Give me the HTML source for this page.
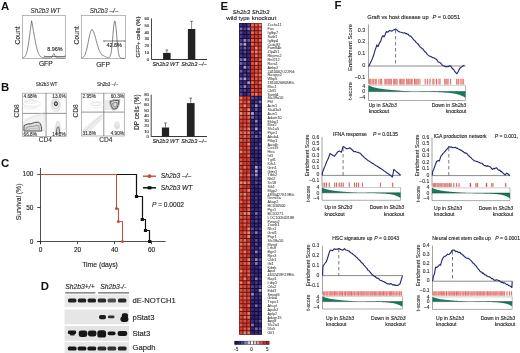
<!DOCTYPE html>
<html><head><meta charset="utf-8"><style>
html,body{margin:0;padding:0;background:#fff;}
body{width:520px;height:353px;overflow:hidden;}
svg{display:block;font-family:"Liberation Sans", sans-serif;will-change:transform;}
</style></head><body>
<svg width="520" height="353" viewBox="0 0 520 353">
<defs><filter id="bl" x="-50%" y="-50%" width="200%" height="200%"><feGaussianBlur stdDeviation="0.6"/></filter><filter id="hb" x="-5%" y="-1%" width="110%" height="102%"><feGaussianBlur stdDeviation="0.35"/></filter></defs>
<rect width="520" height="353" fill="#fff"/>
<text x="1.0" y="9.8" font-size="10.2" text-anchor="start" fill="#111" stroke="#111" stroke-width="0" style="font-weight:bold" transform="translate(1.0 9.8) scale(1.12 1) translate(-1.0 -9.8)">A</text>
<text x="1.0" y="90.8" font-size="10.2" text-anchor="start" fill="#111" stroke="#111" stroke-width="0" style="font-weight:bold" transform="translate(1.0 90.8) scale(1.12 1) translate(-1.0 -90.8)">B</text>
<text x="1.0" y="166.6" font-size="10.2" text-anchor="start" fill="#111" stroke="#111" stroke-width="0" style="font-weight:bold" transform="translate(1.0 166.6) scale(1.12 1) translate(-1.0 -166.6)">C</text>
<text x="40.8" y="289.8" font-size="10.2" text-anchor="start" fill="#111" stroke="#111" stroke-width="0" style="font-weight:bold" transform="translate(40.8 289.8) scale(1.12 1) translate(-40.8 -289.8)">D</text>
<text x="220.6" y="9.6" font-size="10.2" text-anchor="start" fill="#111" stroke="#111" stroke-width="0" style="font-weight:bold" transform="translate(220.6 9.6) scale(1.12 1) translate(-220.6 -9.6)">E</text>
<text x="334.6" y="9.2" font-size="10.2" text-anchor="start" fill="#111" stroke="#111" stroke-width="0" style="font-weight:bold" transform="translate(334.6 9.2) scale(1.12 1) translate(-334.6 -9.2)">F</text>
<rect x="22.5" y="15.5" width="43" height="43" fill="none" stroke="#999" stroke-width="0.7"/>
<rect x="81.5" y="15.5" width="44" height="43" fill="none" stroke="#999" stroke-width="0.7"/>
<text x="45.4" y="12.5" font-size="6.3" text-anchor="middle" fill="#333" stroke="#333" stroke-width="0.12" style="font-style:italic">Sh2b3 WT</text>
<text x="104" y="12.5" font-size="6.3" text-anchor="middle" fill="#333" stroke="#333" stroke-width="0.12" style="font-style:italic">Sh2b3 –/–</text>
<text x="20" y="35.5" font-size="6.8" text-anchor="middle" fill="#222" stroke="#222" stroke-width="0.12" style="" transform="rotate(-90 20 35.5)">Count</text>
<text x="79" y="35.5" font-size="6.8" text-anchor="middle" fill="#222" stroke="#222" stroke-width="0.12" style="" transform="rotate(-90 79 35.5)">Count</text>
<text x="45.8" y="65.9" font-size="6.7" text-anchor="middle" fill="#222" stroke="#222" stroke-width="0.12" style="">GFP</text>
<text x="103" y="66.6" font-size="6.7" text-anchor="middle" fill="#222" stroke="#222" stroke-width="0.12" style="">GFP</text>
<polyline points="22.80,57.84 23.00,57.79 23.20,57.72 23.40,57.65 23.60,57.57 23.80,57.47 24.00,57.36 24.20,57.23 24.40,57.08 24.60,56.90 24.80,56.70 25.00,56.47 25.20,56.21 25.40,55.91 25.60,55.56 25.80,55.17 26.00,54.73 26.20,54.23 26.40,53.68 26.60,53.06 26.80,52.38 27.00,51.62 27.20,50.80 27.40,49.90 27.60,48.93 27.80,47.89 28.00,46.77 28.20,45.58 28.40,44.33 28.60,43.02 28.80,41.65 29.00,40.24 29.20,38.78 29.40,37.29 29.60,35.78 29.80,34.25 30.00,32.72 30.20,31.18 30.40,29.65 30.60,28.14 30.80,26.64 31.00,25.16 31.20,23.69 31.40,22.24 31.60,20.80 31.80,21.87 32.00,22.95 32.20,24.03 32.40,25.12 32.60,26.21 32.80,27.32 33.00,28.44 33.20,29.57 33.40,30.70 33.60,31.84 33.80,32.98 34.00,34.12 34.20,35.26 34.40,36.39 34.60,37.51 34.80,38.61 35.00,39.70 35.20,40.77 35.40,41.81 35.60,42.83 35.80,43.81 36.00,44.77 36.20,45.69 36.40,46.57 36.60,47.42 36.80,48.22 37.00,48.99 37.20,49.71 37.40,50.40 37.60,51.04 37.80,51.65 38.00,52.21 38.20,52.74 38.40,53.23 38.60,53.68 38.80,54.10 39.00,54.48 39.20,54.84 39.40,55.16 39.60,55.46 39.80,55.72 40.00,55.97 40.20,56.19 40.40,56.39 40.60,56.57 40.80,56.74 41.00,56.89 41.20,57.02 41.40,57.14 41.60,57.25 41.80,57.34 42.00,57.43 42.20,57.51 42.40,57.58 42.60,57.64 42.80,57.69 43.00,57.75 43.20,57.79 43.40,57.83 43.60,57.87 43.80,57.90 44.00,57.93 44.20,57.84 44.40,57.86 44.60,57.87 44.80,57.89 45.00,57.90 45.20,57.91 45.40,57.91 45.60,57.92 45.80,57.92 46.00,57.93 46.20,57.93 46.40,57.93 46.60,57.93 46.80,57.93 47.00,57.92 47.20,57.92 47.40,57.92 47.60,57.91 47.80,57.91 48.00,57.90 48.20,57.90 48.40,57.89 48.60,57.88 48.80,57.88 49.00,57.87 49.20,57.86 49.40,57.85 49.60,57.84 49.80,57.84 50.00,57.83 50.20,57.82 50.40,57.81 50.60,57.79 50.80,57.78 51.00,57.75 51.20,57.71 51.40,57.65 51.60,57.55 51.80,57.40 52.00,57.18 52.20,56.87 52.40,56.48 52.60,56.00 52.80,55.45 53.00,54.88 53.20,54.35 53.40,53.90 53.60,53.60 53.80,53.50 54.00,53.60 54.20,53.89 54.40,54.33 54.60,54.86 54.80,55.42 55.00,55.96 55.20,56.44 55.40,56.83 55.60,57.13 55.80,57.34 56.00,57.49 56.20,57.59 56.40,57.64 56.60,57.68 56.80,57.70 57.00,57.72 57.20,57.73 57.40,57.74 57.60,57.75 57.80,57.76 58.00,57.77 58.20,57.78 58.40,57.79 58.60,57.80 58.80,57.81 59.00,57.82 59.20,57.83 59.40,57.84 59.60,57.85 59.80,57.86 60.00,57.87 60.20,57.89 60.40,57.90 60.60,57.91 60.80,57.92 61.00,57.93 61.20,57.95 61.40,57.96 61.60,57.97 61.80,57.98 62.00,58.00 62.20,58.01 62.40,58.02 62.60,58.03 62.80,58.04 63.00,58.05 63.20,58.06 63.40,58.07 63.60,58.08 63.80,58.09 64.00,58.10 64.20,58.11 64.40,58.12 64.60,58.13 64.80,58.14" fill="none" stroke="#555" stroke-width="0.75" stroke-linejoin="round"/>
<line x1="44.4" y1="56.5" x2="65" y2="56.5" stroke="#444" stroke-width="0.7"/>
<line x1="44.4" y1="55.3" x2="44.4" y2="57.3" stroke="#666" stroke-width="0.6"/>
<line x1="65" y1="55.3" x2="65" y2="57.3" stroke="#666" stroke-width="0.6"/>
<text x="47.2" y="51.1" font-size="5.4" text-anchor="start" fill="#222" stroke="#222" stroke-width="0.12" style="">8.96%</text>
<polyline points="81.80,58.04 82.00,57.95 82.20,57.87 82.40,57.82 82.60,57.67 82.80,57.54 83.00,57.37 83.20,57.24 83.40,57.05 83.60,56.98 83.80,56.61 84.00,56.35 84.20,56.04 84.40,55.73 84.60,55.37 84.80,55.07 85.00,54.54 85.20,54.07 85.40,53.98 85.60,53.00 85.80,52.39 86.00,51.74 86.20,51.06 86.40,50.33 86.60,50.11 86.80,48.73 87.00,47.88 87.20,47.07 87.40,46.06 87.60,45.11 87.80,44.65 88.00,43.14 88.20,42.13 88.40,41.60 88.60,40.10 88.80,39.09 89.00,38.18 89.20,37.12 89.40,36.18 89.60,34.88 89.80,34.42 90.00,33.62 90.20,33.33 90.40,32.20 90.60,31.60 90.80,31.42 91.00,30.66 91.20,30.31 91.40,29.91 91.60,29.91 91.80,29.86 92.00,29.39 92.20,30.01 92.40,30.14 92.60,30.23 92.80,30.56 93.00,30.85 93.20,31.31 93.40,31.57 93.60,32.00 93.80,31.89 94.00,32.97 94.20,33.52 94.40,34.64 94.60,34.71 94.80,35.35 95.00,35.58 95.20,36.69 95.40,37.39 95.60,38.36 95.80,38.84 96.00,39.57 96.20,40.74 96.40,41.05 96.60,41.79 96.80,42.99 97.00,43.26 97.20,43.98 97.40,44.91 97.60,45.37 97.80,46.05 98.00,46.33 98.20,47.34 98.40,47.96 98.60,48.93 98.80,49.11 99.00,49.65 99.20,50.07 99.40,50.66 99.60,51.12 99.80,51.39 100.00,51.96 100.20,52.35 100.40,52.85 100.60,53.04 100.80,53.35 101.00,53.59 101.20,53.90 101.40,54.14 101.60,54.72 101.80,54.57 102.00,54.76 102.20,55.24 102.40,55.10 102.60,55.24 102.80,55.56 103.00,55.51 103.20,55.63 103.40,55.65 103.60,55.85 103.80,55.95 104.00,56.09 104.20,56.15 104.40,56.24 104.60,56.41 104.80,56.43 105.00,56.52 105.20,56.58 105.40,56.69 105.60,56.78 105.80,56.88 106.00,56.96 106.20,57.04 106.40,57.17 106.60,57.21 106.80,57.28 107.00,57.30 107.20,57.43 107.40,57.50 107.60,57.53 107.80,57.62 108.00,57.66 108.20,57.73 108.40,57.72 108.60,57.72 108.80,57.69 109.00,57.64 109.20,57.56 109.40,57.42 109.60,57.24 109.80,56.98 110.00,56.51 110.20,56.21 110.40,55.67 110.60,54.85 110.80,54.19 111.00,53.22 111.20,52.34 111.40,50.76 111.60,49.26 111.80,46.99 112.00,45.70 112.20,43.66 112.40,41.94 112.60,39.19 112.80,36.83 113.00,34.54 113.20,32.08 113.40,29.80 113.60,27.36 113.80,25.74 114.00,24.07 114.20,23.14 114.40,21.72 114.60,21.10 114.80,20.91 115.00,21.11 115.20,21.72 115.40,23.28 115.60,24.08 115.80,25.75 116.00,27.48 116.20,29.81 116.40,32.09 116.60,34.14 116.80,36.85 117.00,39.22 117.20,41.43 117.40,43.70 117.60,45.74 117.80,47.17 118.00,49.32 118.20,50.84 118.40,52.39 118.60,53.32 118.80,54.31 119.00,55.01 119.20,55.83 119.40,56.40 119.60,56.83 119.80,57.22 120.00,57.51 120.20,57.73 120.40,57.91 120.60,58.04 120.80,58.15 121.00,58.22 121.20,58.27 121.40,58.30 121.60,58.34 121.80,58.36 122.00,58.37 122.20,58.38 122.40,58.39 122.60,58.39 122.80,58.39 123.00,58.40 123.20,58.40 123.40,58.40 123.60,58.40 123.80,58.40 124.00,58.40 124.20,58.40 124.40,58.40 124.60,58.40 124.80,58.40" fill="none" stroke="#555" stroke-width="0.75" stroke-linejoin="round"/>
<line x1="103.8" y1="41" x2="124.9" y2="41" stroke="#444" stroke-width="0.7"/>
<line x1="103.8" y1="40" x2="103.8" y2="42" stroke="#666" stroke-width="0.6"/>
<line x1="124.9" y1="40" x2="124.9" y2="42" stroke="#666" stroke-width="0.6"/>
<text x="106.6" y="47.3" font-size="5.4" text-anchor="start" fill="#222" stroke="#222" stroke-width="0.12" style="">42.8%</text>
<line x1="151.5" y1="18.5" x2="151.5" y2="59.5" stroke="#333" stroke-width="0.9"/>
<line x1="151.5" y1="59.5" x2="207" y2="59.5" stroke="#222" stroke-width="0.9"/>
<text x="149.1" y="61.0" font-size="4.2" text-anchor="end" fill="#333" stroke="#333" stroke-width="0.12" style="">0</text>
<text x="149.1" y="54.14" font-size="4.2" text-anchor="end" fill="#333" stroke="#333" stroke-width="0.12" style="">10</text>
<text x="149.1" y="47.28" font-size="4.2" text-anchor="end" fill="#333" stroke="#333" stroke-width="0.12" style="">20</text>
<text x="149.1" y="40.42" font-size="4.2" text-anchor="end" fill="#333" stroke="#333" stroke-width="0.12" style="">30</text>
<text x="149.1" y="33.56" font-size="4.2" text-anchor="end" fill="#333" stroke="#333" stroke-width="0.12" style="">40</text>
<text x="149.1" y="26.699999999999996" font-size="4.2" text-anchor="end" fill="#333" stroke="#333" stroke-width="0.12" style="">50</text>
<text x="149.1" y="19.839999999999996" font-size="4.2" text-anchor="end" fill="#333" stroke="#333" stroke-width="0.12" style="">60</text>
<rect x="163.1" y="52.9" width="7.5" height="6.600000000000001" fill="#222" stroke="none" stroke-width="0.8"/>
<line x1="166.85" y1="52.9" x2="166.85" y2="50" stroke="#333" stroke-width="0.6"/>
<line x1="165.54999999999998" y1="50" x2="168.15" y2="50" stroke="#333" stroke-width="0.7"/>
<rect x="187.9" y="29" width="7.400000000000006" height="30.5" fill="#222" stroke="none" stroke-width="0.8"/>
<line x1="191.60000000000002" y1="29" x2="191.60000000000002" y2="21.3" stroke="#333" stroke-width="0.6"/>
<line x1="190.3" y1="21.3" x2="192.90000000000003" y2="21.3" stroke="#333" stroke-width="0.7"/>
<text x="165.6" y="65.6" font-size="5.6" text-anchor="middle" fill="#222" stroke="#222" stroke-width="0.12" style="font-style:italic">Sh2b3 WT</text>
<text x="193.9" y="65.6" font-size="5.6" text-anchor="middle" fill="#222" stroke="#222" stroke-width="0.12" style="font-style:italic">Sh2b3 –/–</text>
<text x="139.6" y="37" font-size="6.1" text-anchor="middle" fill="#222" stroke="#222" stroke-width="0.12" style="" transform="rotate(-90 139.6 37)">GFP+ cells (%)</text>
<line x1="151.2" y1="94.6" x2="151.2" y2="136.5" stroke="#333" stroke-width="0.9"/>
<line x1="151.2" y1="136.5" x2="207" y2="136.5" stroke="#222" stroke-width="0.9"/>
<text x="148.79999999999998" y="138.0" font-size="4.2" text-anchor="end" fill="#333" stroke="#333" stroke-width="0.12" style="">0</text>
<text x="148.79999999999998" y="132.72" font-size="4.2" text-anchor="end" fill="#333" stroke="#333" stroke-width="0.12" style="">10</text>
<text x="148.79999999999998" y="127.44" font-size="4.2" text-anchor="end" fill="#333" stroke="#333" stroke-width="0.12" style="">20</text>
<text x="148.79999999999998" y="122.16" font-size="4.2" text-anchor="end" fill="#333" stroke="#333" stroke-width="0.12" style="">30</text>
<text x="148.79999999999998" y="116.88" font-size="4.2" text-anchor="end" fill="#333" stroke="#333" stroke-width="0.12" style="">40</text>
<text x="148.79999999999998" y="111.6" font-size="4.2" text-anchor="end" fill="#333" stroke="#333" stroke-width="0.12" style="">50</text>
<text x="148.79999999999998" y="106.32" font-size="4.2" text-anchor="end" fill="#333" stroke="#333" stroke-width="0.12" style="">60</text>
<text x="148.79999999999998" y="101.03999999999999" font-size="4.2" text-anchor="end" fill="#333" stroke="#333" stroke-width="0.12" style="">70</text>
<text x="148.79999999999998" y="95.75999999999999" font-size="4.2" text-anchor="end" fill="#333" stroke="#333" stroke-width="0.12" style="">80</text>
<rect x="161.9" y="127.5" width="7.199999999999989" height="9.0" fill="#222" stroke="none" stroke-width="0.8"/>
<line x1="165.5" y1="127.5" x2="165.5" y2="123.1" stroke="#333" stroke-width="0.6"/>
<line x1="164.2" y1="123.1" x2="166.8" y2="123.1" stroke="#333" stroke-width="0.7"/>
<rect x="186.9" y="103.1" width="7.699999999999989" height="33.400000000000006" fill="#222" stroke="none" stroke-width="0.8"/>
<line x1="190.75" y1="103.1" x2="190.75" y2="98.1" stroke="#333" stroke-width="0.6"/>
<line x1="189.45" y1="98.1" x2="192.05" y2="98.1" stroke="#333" stroke-width="0.7"/>
<text x="165.6" y="142.5" font-size="5.6" text-anchor="middle" fill="#222" stroke="#222" stroke-width="0.12" style="font-style:italic">Sh2b3 WT</text>
<text x="193.9" y="142.5" font-size="5.6" text-anchor="middle" fill="#222" stroke="#222" stroke-width="0.12" style="font-style:italic">Sh2b3 –/–</text>
<text x="139.4" y="112.2" font-size="6.5" text-anchor="middle" fill="#222" stroke="#222" stroke-width="0.12" style="" transform="rotate(-90 139.4 112.2)">DP cells (%)</text>
<text x="46.5" y="86" font-size="4.6" text-anchor="middle" fill="#333" stroke="#333" stroke-width="0.12" style="">Sh2b3 WT</text>
<text x="107.6" y="86.3" font-size="4.6" text-anchor="middle" fill="#333" stroke="#333" stroke-width="0.12" style="">Sh2b3 –/–</text>
<rect x="22.6" y="93.2" width="43.6" height="43.2" fill="none" stroke="#999" stroke-width="0.7"/>
<line x1="46" y1="93.2" x2="46" y2="136.4" stroke="#666" stroke-width="0.7"/>
<line x1="22.6" y1="113.4" x2="66.2" y2="113.4" stroke="#666" stroke-width="0.7"/>
<rect x="81.5" y="93.2" width="42.8" height="42.8" fill="none" stroke="#999" stroke-width="0.7"/>
<line x1="103.8" y1="93.2" x2="103.8" y2="136.0" stroke="#666" stroke-width="0.7"/>
<line x1="81.5" y1="112.1" x2="124.3" y2="112.1" stroke="#666" stroke-width="0.7"/>
<text x="18.7" y="111" font-size="6.6" text-anchor="middle" fill="#333" stroke="#333" stroke-width="0.12" style="" transform="rotate(-90 18.7 111)">CD8</text>
<text x="78.4" y="111" font-size="6.6" text-anchor="middle" fill="#333" stroke="#333" stroke-width="0.12" style="" transform="rotate(-90 78.4 111)">CD8</text>
<text x="45.4" y="142.3" font-size="6.6" text-anchor="middle" fill="#333" stroke="#333" stroke-width="0.12" style="">CD4</text>
<text x="105.8" y="142.3" font-size="6.6" text-anchor="middle" fill="#333" stroke="#333" stroke-width="0.12" style="">CD4</text>
<ellipse cx="31" cy="101.5" rx="6" ry="1.8" fill="none" stroke="#d4d4d4" stroke-width="0.6"/>
<ellipse cx="32" cy="104" rx="8.5" ry="3.2" fill="none" stroke="#dcdcdc" stroke-width="0.6"/>
<ellipse cx="30" cy="107.5" rx="6" ry="1.5" fill="none" stroke="#e0e0e0" stroke-width="0.6"/>
<ellipse cx="55.8" cy="104.5" rx="4.8" ry="7.2" fill="#f0f0f0" stroke="#d0d0d0" stroke-width="0.5"/>
<ellipse cx="55.8" cy="104.2" rx="3.2" ry="4.6" fill="none" stroke="#bdbdbd" stroke-width="0.5"/>
<ellipse cx="55.9" cy="103.7" rx="1.6" ry="2.0" fill="#9a9a9a" stroke="#333" stroke-width="1.0"/>
<ellipse cx="55.9" cy="103.6" rx="0.5" ry="0.7" fill="#eee"/>
<path d="M23.5,131 L23.5,122 Q30,117 36,116.5 Q42,114.5 45,114 L45.5,131 Z" fill="#f2f2f2" stroke="#d8d8d8" stroke-width="0.5"/>
<path d="M24,131 L24,125.5 Q28,123.2 31,123.8 Q34.5,121.8 38.5,122.2 Q41,123.2 41.3,126.5 L41.8,131 Z" fill="#dadada" stroke="#555" stroke-width="1.0"/>
<path d="M26,130 L26.5,127.5 Q30,126 33,126.5 Q36,125 38.8,125.6 L39.3,130" fill="none" stroke="#777" stroke-width="0.6"/>
<path d="M27.5,129.5 Q31,128.3 34,128.6 Q36,128 37.6,128.3" fill="none" stroke="#999" stroke-width="0.5"/>
<path d="M24,120 Q33,115 45,112.5" fill="none" stroke="#d6d6d6" stroke-width="0.5"/>
<path d="M55.6,134 Q55.2,127 56.5,122.5 Q58,120.5 59.5,122.5 Q60.6,127 60.3,134 Z" fill="#ececec" stroke="#bcbcbc" stroke-width="0.5"/>
<path d="M56.3,134 Q56.2,129.5 57.3,127.2 Q58.2,126.3 58.9,127.3 Q59.7,130 59.5,134 Z" fill="#cfcfcf" stroke="#555" stroke-width="0.8"/>
<ellipse cx="96" cy="104" rx="4.5" ry="1.6" fill="none" stroke="#cfcfcf" stroke-width="0.6"/>
<ellipse cx="97" cy="104.8" rx="6.5" ry="3.0" fill="none" stroke="#e0e0e0" stroke-width="0.5"/>
<rect x="105" y="100" width="6" height="10" fill="#ececec"/>
<path d="M109.3,100.8 Q114,98.6 120,99.6 Q119.6,105 117.8,108.6 Q115.2,110.6 112.2,109.8 Q109.8,106 109.3,100.8 Z" fill="#e4e4e4" stroke="#9a9a9a" stroke-width="0.6"/>
<path d="M110.4,101.6 Q114.6,99.8 119,100.6 Q118.5,105.2 117.0,108.0 Q115,109.4 112.8,108.8 Q110.9,105.6 110.4,101.6 Z" fill="#e0e0e0" stroke="#444" stroke-width="0.9"/>
<path d="M112.6,103.2 Q115.2,101.9 117.4,102.5 Q117.0,105.8 115.7,107.2 Q113.8,107.4 113.0,105.5 Z" fill="#d0d0d0" stroke="#666" stroke-width="0.7"/>
<ellipse cx="115.3" cy="104.8" rx="0.8" ry="1.0" fill="#e8e8e8"/>
<path d="M83,134 L83,129 Q92,121 101.5,114 L103,114 L103,118 Q95,126 87,134 Z" fill="#ededed" stroke="none" stroke-width="0"/>
<path d="M84,132 Q92,124 101,115.5" fill="none" stroke="#cdcdcd" stroke-width="0.6"/>
<path d="M86.5,133.5 Q94,127 102.5,118.5" fill="none" stroke="#d8d8d8" stroke-width="0.5"/>
<ellipse cx="117" cy="125.5" rx="2.6" ry="3.6" fill="#f0f0f0" stroke="#c8c8c8" stroke-width="0.5"/>
<ellipse cx="117" cy="126.5" rx="1.2" ry="1.8" fill="none" stroke="#bbbbbb" stroke-width="0.5"/>
<text x="23.6" y="98" font-size="4.7" text-anchor="start" fill="#333" stroke="#333" stroke-width="0.12" style="">4.68%</text>
<text x="65.6" y="98" font-size="4.7" text-anchor="end" fill="#333" stroke="#333" stroke-width="0.12" style="">13.6%</text>
<text x="23.6" y="135.7" font-size="4.7" text-anchor="start" fill="#333" stroke="#333" stroke-width="0.12" style="">66.8%</text>
<text x="65.6" y="135.7" font-size="4.7" text-anchor="end" fill="#333" stroke="#333" stroke-width="0.12" style="">14.2%</text>
<text x="82.6" y="98" font-size="4.7" text-anchor="start" fill="#333" stroke="#333" stroke-width="0.12" style="">2.95%</text>
<text x="124" y="98" font-size="4.7" text-anchor="end" fill="#333" stroke="#333" stroke-width="0.12" style="">60.3%</text>
<text x="82.6" y="135.4" font-size="4.7" text-anchor="start" fill="#333" stroke="#333" stroke-width="0.12" style="">31.8%</text>
<text x="124" y="135.4" font-size="4.7" text-anchor="end" fill="#333" stroke="#333" stroke-width="0.12" style="">4.90%</text>
<line x1="40.5" y1="168" x2="40.5" y2="244.2" stroke="#222" stroke-width="0.8"/>
<line x1="37" y1="241.5" x2="165.6" y2="241.5" stroke="#222" stroke-width="0.8"/>
<line x1="37.2" y1="174.5" x2="40.5" y2="174.5" stroke="#222" stroke-width="0.8"/>
<line x1="37.2" y1="207.5" x2="40.5" y2="207.5" stroke="#222" stroke-width="0.8"/>
<line x1="37.2" y1="241.5" x2="40.5" y2="241.5" stroke="#222" stroke-width="0.8"/>
<text x="33.4" y="176.3" font-size="6.5" text-anchor="end" fill="#222" stroke="#222" stroke-width="0.12" style="">100</text>
<text x="33.4" y="209.7" font-size="6.5" text-anchor="end" fill="#222" stroke="#222" stroke-width="0.12" style="">50</text>
<text x="33.4" y="244.0" font-size="6.5" text-anchor="end" fill="#222" stroke="#222" stroke-width="0.12" style="">0</text>
<line x1="40.5" y1="241.5" x2="40.5" y2="244.2" stroke="#222" stroke-width="0.8"/>
<text x="40.5" y="252.4" font-size="6.5" text-anchor="middle" fill="#222" stroke="#222" stroke-width="0.12" style="">0</text>
<line x1="77.5" y1="241.5" x2="77.5" y2="244.2" stroke="#222" stroke-width="0.8"/>
<text x="77.5" y="252.4" font-size="6.5" text-anchor="middle" fill="#222" stroke="#222" stroke-width="0.12" style="">20</text>
<line x1="114.5" y1="241.5" x2="114.5" y2="244.2" stroke="#222" stroke-width="0.8"/>
<text x="114.5" y="252.4" font-size="6.5" text-anchor="middle" fill="#222" stroke="#222" stroke-width="0.12" style="">40</text>
<line x1="151.5" y1="241.5" x2="151.5" y2="244.2" stroke="#222" stroke-width="0.8"/>
<text x="151.5" y="252.4" font-size="6.5" text-anchor="middle" fill="#222" stroke="#222" stroke-width="0.12" style="">60</text>
<text x="20.8" y="201.9" font-size="6.8" text-anchor="middle" fill="#222" stroke="#222" stroke-width="0.12" style="" transform="rotate(-90 20.8 201.9)">Survival (%)</text>
<text x="100" y="266.5" font-size="6.8" text-anchor="middle" fill="#222" stroke="#222" stroke-width="0.12" style="">Time (days)</text>
<polyline points="116.50,174.50 136.50,174.50 136.50,196.50 142.50,196.50 142.50,219.50 145.50,219.50 145.50,230.50 149.50,230.50 149.50,241.50" fill="none" stroke="#111" stroke-width="1.2" stroke-linejoin="round"/>
<polyline points="40.50,174.50 116.50,174.50 116.50,208.50 118.50,208.50 118.50,221.50 122.50,221.50 122.50,241.50" fill="none" stroke="#c84c3c" stroke-width="1.05" stroke-linejoin="round"/>
<rect x="134.9" y="195.0" width="3.2" height="3.0" fill="#111" stroke="none" stroke-width="0.8"/>
<rect x="140.70000000000002" y="218.0" width="3.2" height="3.0" fill="#111" stroke="none" stroke-width="0.8"/>
<rect x="143.9" y="229.0" width="3.2" height="3.0" fill="#111" stroke="none" stroke-width="0.8"/>
<rect x="148.1" y="240.0" width="3.2" height="3.0" fill="#111" stroke="none" stroke-width="0.8"/>
<circle cx="116.5" cy="208.5" r="1.5" fill="#c84c3c"/>
<circle cx="118.3" cy="221.5" r="1.5" fill="#c84c3c"/>
<circle cx="122.5" cy="241.5" r="1.5" fill="#c84c3c"/>
<line x1="143" y1="176.2" x2="156" y2="176.2" stroke="#c84c3c" stroke-width="1.4"/>
<circle cx="149.5" cy="176.2" r="1.9" fill="#c84c3c"/>
<line x1="143" y1="187.8" x2="156" y2="187.8" stroke="#111" stroke-width="1.5"/>
<rect x="147.6" y="186.2" width="3.8" height="3.2" fill="#111" stroke="none" stroke-width="0.8"/>
<text x="160.8" y="178.3" font-size="6.7" text-anchor="start" fill="#222" stroke="#222" stroke-width="0.12" style="font-style:italic">Sh2b3 –/–</text>
<text x="160.8" y="190.0" font-size="6.7" text-anchor="start" fill="#222" stroke="#222" stroke-width="0.12" style="font-style:italic">Sh2b3 WT</text>
<text x="151.9" y="206.6" font-size="6.6" text-anchor="start" fill="#222" stroke="#222" stroke-width="0.12" style=""><tspan font-style="italic">P</tspan> = 0.0002</text>
<text x="79.9" y="289.4" font-size="6.8" text-anchor="middle" fill="#222" stroke="#222" stroke-width="0.12" style="font-style:italic">Sh2b3+/+</text>
<text x="113.2" y="289.4" font-size="6.8" text-anchor="middle" fill="#222" stroke="#222" stroke-width="0.12" style="font-style:italic">Sh2b3-/-</text>
<line x1="65.2" y1="292.9" x2="95.3" y2="292.9" stroke="#444" stroke-width="1.0"/>
<line x1="98.1" y1="292.9" x2="129" y2="292.9" stroke="#444" stroke-width="1.0"/>
<rect x="64.6" y="294.6" width="64.4" height="12.5" fill="#e9e9e9" stroke="none" stroke-width="0.8"/>
<rect x="64.6" y="309.5" width="64.4" height="14.699999999999989" fill="#e6e6e6" stroke="none" stroke-width="0.8"/>
<rect x="64.6" y="326" width="64.4" height="14.800000000000011" fill="#e3e3e3" stroke="none" stroke-width="0.8"/>
<rect x="64.6" y="342.2" width="64.4" height="10.800000000000011" fill="#e7e7e7" stroke="none" stroke-width="0.8"/>
<rect x="68.00" y="298.50" width="8.40" height="4.00" rx="1.60" fill="#141414" fill-opacity="0.95" filter="url(#bl)"/>
<rect x="77.80" y="298.50" width="8.40" height="4.00" rx="1.60" fill="#141414" fill-opacity="0.95" filter="url(#bl)"/>
<rect x="87.60" y="298.50" width="8.40" height="4.00" rx="1.60" fill="#141414" fill-opacity="0.95" filter="url(#bl)"/>
<rect x="97.70" y="298.50" width="8.40" height="4.00" rx="1.60" fill="#141414" fill-opacity="0.9" filter="url(#bl)"/>
<rect x="107.60" y="298.50" width="8.40" height="4.00" rx="1.60" fill="#141414" fill-opacity="0.72" filter="url(#bl)"/>
<rect x="118.00" y="298.50" width="8.40" height="4.00" rx="1.60" fill="#141414" fill-opacity="0.92" filter="url(#bl)"/>
<rect x="99.00" y="315.10" width="7.00" height="4.20" rx="1.80" fill="#141414" fill-opacity="0.97" filter="url(#bl)"/>
<rect x="107.90" y="315.45" width="6.60" height="2.90" rx="1.30" fill="#141414" fill-opacity="0.88" filter="url(#bl)"/>
<rect x="121.80" y="313.30" width="6.20" height="4.60" rx="2.00" fill="#141414" fill-opacity="1.0" filter="url(#bl)"/>
<rect x="120.40" y="316.40" width="8.00" height="5.60" rx="2.40" fill="#141414" fill-opacity="1.0" filter="url(#bl)"/>
<rect x="67.90" y="330.60" width="8.20" height="3.60" rx="1.40" fill="#141414" fill-opacity="1.0" filter="url(#bl)"/>
<rect x="70.00" y="332.80" width="4.60" height="2.80" rx="1.20" fill="#141414" fill-opacity="0.9" filter="url(#bl)"/>
<rect x="78.70" y="330.40" width="8.60" height="6.60" rx="2.40" fill="#141414" fill-opacity="1.0" filter="url(#bl)"/>
<rect x="87.90" y="330.50" width="8.60" height="6.00" rx="2.40" fill="#141414" fill-opacity="1.0" filter="url(#bl)"/>
<rect x="97.30" y="330.20" width="8.80" height="7.40" rx="2.60" fill="#141414" fill-opacity="1.0" filter="url(#bl)"/>
<rect x="107.60" y="331.40" width="8.00" height="3.80" rx="1.80" fill="#141414" fill-opacity="1.0" filter="url(#bl)"/>
<rect x="117.60" y="331.00" width="9.60" height="5.00" rx="2.00" fill="#141414" fill-opacity="1.0" filter="url(#bl)"/>
<rect x="67.80" y="346.40" width="8.80" height="4.20" rx="1.60" fill="#141414" fill-opacity="1" filter="url(#bl)"/>
<rect x="77.60" y="346.40" width="8.80" height="4.20" rx="1.60" fill="#141414" fill-opacity="1" filter="url(#bl)"/>
<rect x="87.40" y="346.40" width="8.80" height="4.20" rx="1.60" fill="#141414" fill-opacity="1" filter="url(#bl)"/>
<rect x="97.50" y="346.40" width="8.80" height="4.20" rx="1.60" fill="#141414" fill-opacity="0.92" filter="url(#bl)"/>
<rect x="107.40" y="346.40" width="8.80" height="4.20" rx="1.60" fill="#141414" fill-opacity="0.88" filter="url(#bl)"/>
<rect x="117.80" y="346.40" width="8.80" height="4.20" rx="1.60" fill="#141414" fill-opacity="0.95" filter="url(#bl)"/>
<text x="132.4" y="302.8" font-size="7.65" text-anchor="start" fill="#1a1a1a" stroke="#1a1a1a" stroke-width="0.12" style="">dE-NOTCH1</text>
<text x="132.4" y="320.1" font-size="7.65" text-anchor="start" fill="#1a1a1a" stroke="#1a1a1a" stroke-width="0.12" style="">pStat3</text>
<text x="132.4" y="336.0" font-size="7.65" text-anchor="start" fill="#1a1a1a" stroke="#1a1a1a" stroke-width="0.12" style="">Stat3</text>
<text x="132.6" y="349.7" font-size="7.65" text-anchor="start" fill="#1a1a1a" stroke="#1a1a1a" stroke-width="0.12" style="">Gapdh</text>
<text x="250.9" y="14.4" font-size="6.1" text-anchor="middle" fill="#222" stroke="#222" stroke-width="0.12" style="font-style:italic">Sh2b3 Sh2b3</text>
<text x="251.2" y="20.4" font-size="6.1" text-anchor="middle" fill="#222" stroke="#222" stroke-width="0.12" style="">wild <tspan fill="#2a3a6a">type</tspan> knockout</text>
<g filter="url(#hb)">
<rect x="239.2" y="23.1" width="22.80000000000001" height="311.5" fill="#2a0c22" stroke="none" stroke-width="0.8"/>
<rect x="239.20" y="23.10" width="3.80" height="3.85" fill="rgb(18, 10, 55)"/>
<rect x="239.70" y="23.60" width="2.80" height="2.85" fill="rgb(60, 47, 132)"/>
<rect x="243.00" y="23.10" width="3.80" height="3.85" fill="rgb(18, 10, 55)"/>
<rect x="243.50" y="23.60" width="2.80" height="2.85" fill="rgb(50, 37, 123)"/>
<rect x="246.80" y="23.10" width="3.80" height="3.85" fill="rgb(18, 10, 55)"/>
<rect x="247.30" y="23.60" width="2.80" height="2.85" fill="rgb(80, 67, 147)"/>
<rect x="250.60" y="23.10" width="3.80" height="3.85" fill="rgb(125, 22, 18)"/>
<rect x="251.10" y="23.60" width="2.80" height="2.85" fill="rgb(229, 115, 93)"/>
<rect x="254.40" y="23.10" width="3.80" height="3.85" fill="rgb(125, 22, 18)"/>
<rect x="254.90" y="23.60" width="2.80" height="2.85" fill="rgb(223, 99, 78)"/>
<rect x="258.20" y="23.10" width="3.80" height="3.85" fill="rgb(125, 22, 18)"/>
<rect x="258.70" y="23.60" width="2.80" height="2.85" fill="rgb(235, 129, 106)"/>
<rect x="239.20" y="26.95" width="3.80" height="3.85" fill="rgb(18, 10, 55)"/>
<rect x="239.70" y="27.45" width="2.80" height="2.85" fill="rgb(119, 105, 178)"/>
<rect x="243.00" y="26.95" width="3.80" height="3.85" fill="rgb(18, 10, 55)"/>
<rect x="243.50" y="27.45" width="2.80" height="2.85" fill="rgb(86, 73, 152)"/>
<rect x="246.80" y="26.95" width="3.80" height="3.85" fill="rgb(18, 10, 55)"/>
<rect x="247.30" y="27.45" width="2.80" height="2.85" fill="rgb(136, 123, 192)"/>
<rect x="250.60" y="26.95" width="3.80" height="3.85" fill="rgb(125, 22, 18)"/>
<rect x="251.10" y="27.45" width="2.80" height="2.85" fill="rgb(220, 91, 71)"/>
<rect x="254.40" y="26.95" width="3.80" height="3.85" fill="rgb(125, 22, 18)"/>
<rect x="254.90" y="27.45" width="2.80" height="2.85" fill="rgb(210, 69, 50)"/>
<rect x="258.20" y="26.95" width="3.80" height="3.85" fill="rgb(125, 22, 18)"/>
<rect x="258.70" y="27.45" width="2.80" height="2.85" fill="rgb(229, 113, 91)"/>
<rect x="239.20" y="30.79" width="3.80" height="3.85" fill="rgb(18, 10, 55)"/>
<rect x="239.70" y="31.29" width="2.80" height="2.85" fill="rgb(86, 73, 152)"/>
<rect x="243.00" y="30.79" width="3.80" height="3.85" fill="rgb(18, 10, 55)"/>
<rect x="243.50" y="31.29" width="2.80" height="2.85" fill="rgb(48, 35, 122)"/>
<rect x="246.80" y="30.79" width="3.80" height="3.85" fill="rgb(18, 10, 55)"/>
<rect x="247.30" y="31.29" width="2.80" height="2.85" fill="rgb(67, 54, 137)"/>
<rect x="250.60" y="30.79" width="3.80" height="3.85" fill="rgb(125, 22, 18)"/>
<rect x="251.10" y="31.29" width="2.80" height="2.85" fill="rgb(230, 116, 94)"/>
<rect x="254.40" y="30.79" width="3.80" height="3.85" fill="rgb(125, 22, 18)"/>
<rect x="254.90" y="31.29" width="2.80" height="2.85" fill="rgb(214, 76, 57)"/>
<rect x="258.20" y="30.79" width="3.80" height="3.85" fill="rgb(125, 22, 18)"/>
<rect x="258.70" y="31.29" width="2.80" height="2.85" fill="rgb(229, 113, 91)"/>
<rect x="239.20" y="34.64" width="3.80" height="3.85" fill="rgb(18, 10, 55)"/>
<rect x="239.70" y="35.14" width="2.80" height="2.85" fill="rgb(77, 64, 145)"/>
<rect x="243.00" y="34.64" width="3.80" height="3.85" fill="rgb(18, 10, 55)"/>
<rect x="243.50" y="35.14" width="2.80" height="2.85" fill="rgb(56, 43, 128)"/>
<rect x="246.80" y="34.64" width="3.80" height="3.85" fill="rgb(18, 10, 55)"/>
<rect x="247.30" y="35.14" width="2.80" height="2.85" fill="rgb(55, 42, 127)"/>
<rect x="250.60" y="34.64" width="3.80" height="3.85" fill="rgb(125, 22, 18)"/>
<rect x="251.10" y="35.14" width="2.80" height="2.85" fill="rgb(212, 72, 53)"/>
<rect x="254.40" y="34.64" width="3.80" height="3.85" fill="rgb(125, 22, 18)"/>
<rect x="254.90" y="35.14" width="2.80" height="2.85" fill="rgb(210, 68, 49)"/>
<rect x="258.20" y="34.64" width="3.80" height="3.85" fill="rgb(125, 22, 18)"/>
<rect x="258.70" y="35.14" width="2.80" height="2.85" fill="rgb(210, 68, 49)"/>
<rect x="239.20" y="38.48" width="3.80" height="3.85" fill="rgb(18, 10, 55)"/>
<rect x="239.70" y="38.98" width="2.80" height="2.85" fill="rgb(72, 59, 141)"/>
<rect x="243.00" y="38.48" width="3.80" height="3.85" fill="rgb(18, 10, 55)"/>
<rect x="243.50" y="38.98" width="2.80" height="2.85" fill="rgb(153, 139, 205)"/>
<rect x="246.80" y="38.48" width="3.80" height="3.85" fill="rgb(18, 10, 55)"/>
<rect x="247.30" y="38.98" width="2.80" height="2.85" fill="rgb(103, 90, 165)"/>
<rect x="250.60" y="38.48" width="3.80" height="3.85" fill="rgb(125, 22, 18)"/>
<rect x="251.10" y="38.98" width="2.80" height="2.85" fill="rgb(224, 101, 80)"/>
<rect x="254.40" y="38.48" width="3.80" height="3.85" fill="rgb(125, 22, 18)"/>
<rect x="254.90" y="38.98" width="2.80" height="2.85" fill="rgb(212, 71, 53)"/>
<rect x="258.20" y="38.48" width="3.80" height="3.85" fill="rgb(125, 22, 18)"/>
<rect x="258.70" y="38.98" width="2.80" height="2.85" fill="rgb(224, 101, 80)"/>
<rect x="239.20" y="42.33" width="3.80" height="3.85" fill="rgb(18, 10, 55)"/>
<rect x="239.70" y="42.83" width="2.80" height="2.85" fill="rgb(129, 115, 186)"/>
<rect x="243.00" y="42.33" width="3.80" height="3.85" fill="rgb(18, 10, 55)"/>
<rect x="243.50" y="42.83" width="2.80" height="2.85" fill="rgb(174, 160, 221)"/>
<rect x="246.80" y="42.33" width="3.80" height="3.85" fill="rgb(18, 10, 55)"/>
<rect x="247.30" y="42.83" width="2.80" height="2.85" fill="rgb(48, 35, 122)"/>
<rect x="250.60" y="42.33" width="3.80" height="3.85" fill="rgb(125, 22, 18)"/>
<rect x="251.10" y="42.83" width="2.80" height="2.85" fill="rgb(227, 110, 88)"/>
<rect x="254.40" y="42.33" width="3.80" height="3.85" fill="rgb(125, 22, 18)"/>
<rect x="254.90" y="42.83" width="2.80" height="2.85" fill="rgb(212, 73, 54)"/>
<rect x="258.20" y="42.33" width="3.80" height="3.85" fill="rgb(125, 22, 18)"/>
<rect x="258.70" y="42.83" width="2.80" height="2.85" fill="rgb(211, 70, 51)"/>
<rect x="239.20" y="46.17" width="3.80" height="3.85" fill="rgb(18, 10, 55)"/>
<rect x="239.70" y="46.67" width="2.80" height="2.85" fill="rgb(75, 62, 143)"/>
<rect x="243.00" y="46.17" width="3.80" height="3.85" fill="rgb(18, 10, 55)"/>
<rect x="243.50" y="46.67" width="2.80" height="2.85" fill="rgb(106, 93, 168)"/>
<rect x="246.80" y="46.17" width="3.80" height="3.85" fill="rgb(18, 10, 55)"/>
<rect x="247.30" y="46.67" width="2.80" height="2.85" fill="rgb(68, 55, 138)"/>
<rect x="250.60" y="46.17" width="3.80" height="3.85" fill="rgb(125, 22, 18)"/>
<rect x="251.10" y="46.67" width="2.80" height="2.85" fill="rgb(207, 60, 42)"/>
<rect x="254.40" y="46.17" width="3.80" height="3.85" fill="rgb(125, 22, 18)"/>
<rect x="254.90" y="46.67" width="2.80" height="2.85" fill="rgb(239, 137, 114)"/>
<rect x="258.20" y="46.17" width="3.80" height="3.85" fill="rgb(125, 22, 18)"/>
<rect x="258.70" y="46.67" width="2.80" height="2.85" fill="rgb(212, 74, 55)"/>
<rect x="239.20" y="50.02" width="3.80" height="3.85" fill="rgb(18, 10, 55)"/>
<rect x="239.70" y="50.52" width="2.80" height="2.85" fill="rgb(61, 48, 132)"/>
<rect x="243.00" y="50.02" width="3.80" height="3.85" fill="rgb(18, 10, 55)"/>
<rect x="243.50" y="50.52" width="2.80" height="2.85" fill="rgb(89, 76, 154)"/>
<rect x="246.80" y="50.02" width="3.80" height="3.85" fill="rgb(18, 10, 55)"/>
<rect x="247.30" y="50.52" width="2.80" height="2.85" fill="rgb(56, 43, 128)"/>
<rect x="250.60" y="50.02" width="3.80" height="3.85" fill="rgb(125, 22, 18)"/>
<rect x="251.10" y="50.52" width="2.80" height="2.85" fill="rgb(228, 111, 89)"/>
<rect x="254.40" y="50.02" width="3.80" height="3.85" fill="rgb(125, 22, 18)"/>
<rect x="254.90" y="50.52" width="2.80" height="2.85" fill="rgb(235, 129, 106)"/>
<rect x="258.20" y="50.02" width="3.80" height="3.85" fill="rgb(125, 22, 18)"/>
<rect x="258.70" y="50.52" width="2.80" height="2.85" fill="rgb(219, 89, 68)"/>
<rect x="239.20" y="53.87" width="3.80" height="3.85" fill="rgb(18, 10, 55)"/>
<rect x="239.70" y="54.37" width="2.80" height="2.85" fill="rgb(67, 54, 137)"/>
<rect x="243.00" y="53.87" width="3.80" height="3.85" fill="rgb(18, 10, 55)"/>
<rect x="243.50" y="54.37" width="2.80" height="2.85" fill="rgb(60, 47, 131)"/>
<rect x="246.80" y="53.87" width="3.80" height="3.85" fill="rgb(18, 10, 55)"/>
<rect x="247.30" y="54.37" width="2.80" height="2.85" fill="rgb(58, 45, 129)"/>
<rect x="250.60" y="53.87" width="3.80" height="3.85" fill="rgb(125, 22, 18)"/>
<rect x="251.10" y="54.37" width="2.80" height="2.85" fill="rgb(210, 67, 48)"/>
<rect x="254.40" y="53.87" width="3.80" height="3.85" fill="rgb(125, 22, 18)"/>
<rect x="254.90" y="54.37" width="2.80" height="2.85" fill="rgb(230, 117, 95)"/>
<rect x="258.20" y="53.87" width="3.80" height="3.85" fill="rgb(125, 22, 18)"/>
<rect x="258.70" y="54.37" width="2.80" height="2.85" fill="rgb(211, 71, 52)"/>
<rect x="239.20" y="57.71" width="3.80" height="3.85" fill="rgb(18, 10, 55)"/>
<rect x="239.70" y="58.21" width="2.80" height="2.85" fill="rgb(122, 108, 180)"/>
<rect x="243.00" y="57.71" width="3.80" height="3.85" fill="rgb(18, 10, 55)"/>
<rect x="243.50" y="58.21" width="2.80" height="2.85" fill="rgb(158, 144, 209)"/>
<rect x="246.80" y="57.71" width="3.80" height="3.85" fill="rgb(18, 10, 55)"/>
<rect x="247.30" y="58.21" width="2.80" height="2.85" fill="rgb(53, 39, 125)"/>
<rect x="250.60" y="57.71" width="3.80" height="3.85" fill="rgb(125, 22, 18)"/>
<rect x="251.10" y="58.21" width="2.80" height="2.85" fill="rgb(211, 70, 51)"/>
<rect x="254.40" y="57.71" width="3.80" height="3.85" fill="rgb(125, 22, 18)"/>
<rect x="254.90" y="58.21" width="2.80" height="2.85" fill="rgb(208, 62, 44)"/>
<rect x="258.20" y="57.71" width="3.80" height="3.85" fill="rgb(125, 22, 18)"/>
<rect x="258.70" y="58.21" width="2.80" height="2.85" fill="rgb(225, 104, 83)"/>
<rect x="239.20" y="61.56" width="3.80" height="3.85" fill="rgb(18, 10, 55)"/>
<rect x="239.70" y="62.06" width="2.80" height="2.85" fill="rgb(115, 102, 175)"/>
<rect x="243.00" y="61.56" width="3.80" height="3.85" fill="rgb(18, 10, 55)"/>
<rect x="243.50" y="62.06" width="2.80" height="2.85" fill="rgb(87, 74, 152)"/>
<rect x="246.80" y="61.56" width="3.80" height="3.85" fill="rgb(18, 10, 55)"/>
<rect x="247.30" y="62.06" width="2.80" height="2.85" fill="rgb(53, 40, 126)"/>
<rect x="250.60" y="61.56" width="3.80" height="3.85" fill="rgb(125, 22, 18)"/>
<rect x="251.10" y="62.06" width="2.80" height="2.85" fill="rgb(219, 89, 69)"/>
<rect x="254.40" y="61.56" width="3.80" height="3.85" fill="rgb(125, 22, 18)"/>
<rect x="254.90" y="62.06" width="2.80" height="2.85" fill="rgb(233, 124, 101)"/>
<rect x="258.20" y="61.56" width="3.80" height="3.85" fill="rgb(125, 22, 18)"/>
<rect x="258.70" y="62.06" width="2.80" height="2.85" fill="rgb(210, 68, 49)"/>
<rect x="239.20" y="65.40" width="3.80" height="3.85" fill="rgb(18, 10, 55)"/>
<rect x="239.70" y="65.90" width="2.80" height="2.85" fill="rgb(53, 40, 126)"/>
<rect x="243.00" y="65.40" width="3.80" height="3.85" fill="rgb(18, 10, 55)"/>
<rect x="243.50" y="65.90" width="2.80" height="2.85" fill="rgb(166, 152, 216)"/>
<rect x="246.80" y="65.40" width="3.80" height="3.85" fill="rgb(18, 10, 55)"/>
<rect x="247.30" y="65.90" width="2.80" height="2.85" fill="rgb(84, 71, 150)"/>
<rect x="250.60" y="65.40" width="3.80" height="3.85" fill="rgb(125, 22, 18)"/>
<rect x="251.10" y="65.90" width="2.80" height="2.85" fill="rgb(208, 63, 45)"/>
<rect x="254.40" y="65.40" width="3.80" height="3.85" fill="rgb(125, 22, 18)"/>
<rect x="254.90" y="65.90" width="2.80" height="2.85" fill="rgb(220, 92, 72)"/>
<rect x="258.20" y="65.40" width="3.80" height="3.85" fill="rgb(125, 22, 18)"/>
<rect x="258.70" y="65.90" width="2.80" height="2.85" fill="rgb(207, 60, 42)"/>
<rect x="239.20" y="69.25" width="3.80" height="3.85" fill="rgb(18, 10, 55)"/>
<rect x="239.70" y="69.75" width="2.80" height="2.85" fill="rgb(110, 97, 171)"/>
<rect x="243.00" y="69.25" width="3.80" height="3.85" fill="rgb(18, 10, 55)"/>
<rect x="243.50" y="69.75" width="2.80" height="2.85" fill="rgb(58, 45, 129)"/>
<rect x="246.80" y="69.25" width="3.80" height="3.85" fill="rgb(18, 10, 55)"/>
<rect x="247.30" y="69.75" width="2.80" height="2.85" fill="rgb(85, 71, 151)"/>
<rect x="250.60" y="69.25" width="3.80" height="3.85" fill="rgb(125, 22, 18)"/>
<rect x="251.10" y="69.75" width="2.80" height="2.85" fill="rgb(209, 66, 47)"/>
<rect x="254.40" y="69.25" width="3.80" height="3.85" fill="rgb(125, 22, 18)"/>
<rect x="254.90" y="69.75" width="2.80" height="2.85" fill="rgb(216, 83, 63)"/>
<rect x="258.20" y="69.25" width="3.80" height="3.85" fill="rgb(125, 22, 18)"/>
<rect x="258.70" y="69.75" width="2.80" height="2.85" fill="rgb(221, 94, 74)"/>
<rect x="239.20" y="73.09" width="3.80" height="3.85" fill="rgb(18, 10, 55)"/>
<rect x="239.70" y="73.59" width="2.80" height="2.85" fill="rgb(55, 42, 128)"/>
<rect x="243.00" y="73.09" width="3.80" height="3.85" fill="rgb(18, 10, 55)"/>
<rect x="243.50" y="73.59" width="2.80" height="2.85" fill="rgb(88, 75, 153)"/>
<rect x="246.80" y="73.09" width="3.80" height="3.85" fill="rgb(18, 10, 55)"/>
<rect x="247.30" y="73.59" width="2.80" height="2.85" fill="rgb(59, 46, 130)"/>
<rect x="250.60" y="73.09" width="3.80" height="3.85" fill="rgb(125, 22, 18)"/>
<rect x="251.10" y="73.59" width="2.80" height="2.85" fill="rgb(207, 61, 42)"/>
<rect x="254.40" y="73.09" width="3.80" height="3.85" fill="rgb(125, 22, 18)"/>
<rect x="254.90" y="73.59" width="2.80" height="2.85" fill="rgb(226, 107, 86)"/>
<rect x="258.20" y="73.09" width="3.80" height="3.85" fill="rgb(125, 22, 18)"/>
<rect x="258.70" y="73.59" width="2.80" height="2.85" fill="rgb(232, 121, 98)"/>
<rect x="239.20" y="76.94" width="3.80" height="3.85" fill="rgb(18, 10, 55)"/>
<rect x="239.70" y="77.44" width="2.80" height="2.85" fill="rgb(134, 120, 190)"/>
<rect x="243.00" y="76.94" width="3.80" height="3.85" fill="rgb(18, 10, 55)"/>
<rect x="243.50" y="77.44" width="2.80" height="2.85" fill="rgb(177, 163, 224)"/>
<rect x="246.80" y="76.94" width="3.80" height="3.85" fill="rgb(18, 10, 55)"/>
<rect x="247.30" y="77.44" width="2.80" height="2.85" fill="rgb(74, 61, 142)"/>
<rect x="250.60" y="76.94" width="3.80" height="3.85" fill="rgb(125, 22, 18)"/>
<rect x="251.10" y="77.44" width="2.80" height="2.85" fill="rgb(220, 91, 71)"/>
<rect x="254.40" y="76.94" width="3.80" height="3.85" fill="rgb(125, 22, 18)"/>
<rect x="254.90" y="77.44" width="2.80" height="2.85" fill="rgb(220, 92, 71)"/>
<rect x="258.20" y="76.94" width="3.80" height="3.85" fill="rgb(125, 22, 18)"/>
<rect x="258.70" y="77.44" width="2.80" height="2.85" fill="rgb(216, 83, 63)"/>
<rect x="239.20" y="80.79" width="3.80" height="3.85" fill="rgb(18, 10, 55)"/>
<rect x="239.70" y="81.29" width="2.80" height="2.85" fill="rgb(61, 48, 132)"/>
<rect x="243.00" y="80.79" width="3.80" height="3.85" fill="rgb(18, 10, 55)"/>
<rect x="243.50" y="81.29" width="2.80" height="2.85" fill="rgb(66, 53, 136)"/>
<rect x="246.80" y="80.79" width="3.80" height="3.85" fill="rgb(18, 10, 55)"/>
<rect x="247.30" y="81.29" width="2.80" height="2.85" fill="rgb(167, 153, 216)"/>
<rect x="250.60" y="80.79" width="3.80" height="3.85" fill="rgb(125, 22, 18)"/>
<rect x="251.10" y="81.29" width="2.80" height="2.85" fill="rgb(230, 115, 93)"/>
<rect x="254.40" y="80.79" width="3.80" height="3.85" fill="rgb(125, 22, 18)"/>
<rect x="254.90" y="81.29" width="2.80" height="2.85" fill="rgb(209, 65, 46)"/>
<rect x="258.20" y="80.79" width="3.80" height="3.85" fill="rgb(125, 22, 18)"/>
<rect x="258.70" y="81.29" width="2.80" height="2.85" fill="rgb(230, 117, 95)"/>
<rect x="239.20" y="84.63" width="3.80" height="3.85" fill="rgb(18, 10, 55)"/>
<rect x="239.70" y="85.13" width="2.80" height="2.85" fill="rgb(84, 70, 150)"/>
<rect x="243.00" y="84.63" width="3.80" height="3.85" fill="rgb(18, 10, 55)"/>
<rect x="243.50" y="85.13" width="2.80" height="2.85" fill="rgb(146, 132, 200)"/>
<rect x="246.80" y="84.63" width="3.80" height="3.85" fill="rgb(18, 10, 55)"/>
<rect x="247.30" y="85.13" width="2.80" height="2.85" fill="rgb(69, 56, 138)"/>
<rect x="250.60" y="84.63" width="3.80" height="3.85" fill="rgb(125, 22, 18)"/>
<rect x="251.10" y="85.13" width="2.80" height="2.85" fill="rgb(209, 64, 46)"/>
<rect x="254.40" y="84.63" width="3.80" height="3.85" fill="rgb(125, 22, 18)"/>
<rect x="254.90" y="85.13" width="2.80" height="2.85" fill="rgb(218, 88, 68)"/>
<rect x="258.20" y="84.63" width="3.80" height="3.85" fill="rgb(125, 22, 18)"/>
<rect x="258.70" y="85.13" width="2.80" height="2.85" fill="rgb(208, 63, 45)"/>
<rect x="239.20" y="88.48" width="3.80" height="3.85" fill="rgb(18, 10, 55)"/>
<rect x="239.70" y="88.98" width="2.80" height="2.85" fill="rgb(75, 62, 143)"/>
<rect x="243.00" y="88.48" width="3.80" height="3.85" fill="rgb(18, 10, 55)"/>
<rect x="243.50" y="88.98" width="2.80" height="2.85" fill="rgb(81, 68, 148)"/>
<rect x="246.80" y="88.48" width="3.80" height="3.85" fill="rgb(18, 10, 55)"/>
<rect x="247.30" y="88.98" width="2.80" height="2.85" fill="rgb(54, 41, 126)"/>
<rect x="250.60" y="88.48" width="3.80" height="3.85" fill="rgb(125, 22, 18)"/>
<rect x="251.10" y="88.98" width="2.80" height="2.85" fill="rgb(220, 92, 72)"/>
<rect x="254.40" y="88.48" width="3.80" height="3.85" fill="rgb(125, 22, 18)"/>
<rect x="254.90" y="88.98" width="2.80" height="2.85" fill="rgb(210, 69, 50)"/>
<rect x="258.20" y="88.48" width="3.80" height="3.85" fill="rgb(125, 22, 18)"/>
<rect x="258.70" y="88.98" width="2.80" height="2.85" fill="rgb(207, 61, 43)"/>
<rect x="239.20" y="92.32" width="3.80" height="3.85" fill="rgb(18, 10, 55)"/>
<rect x="239.70" y="92.82" width="2.80" height="2.85" fill="rgb(88, 75, 153)"/>
<rect x="243.00" y="92.32" width="3.80" height="3.85" fill="rgb(18, 10, 55)"/>
<rect x="243.50" y="92.82" width="2.80" height="2.85" fill="rgb(48, 35, 122)"/>
<rect x="246.80" y="92.32" width="3.80" height="3.85" fill="rgb(18, 10, 55)"/>
<rect x="247.30" y="92.82" width="2.80" height="2.85" fill="rgb(74, 60, 142)"/>
<rect x="250.60" y="92.32" width="3.80" height="3.85" fill="rgb(125, 22, 18)"/>
<rect x="251.10" y="92.82" width="2.80" height="2.85" fill="rgb(225, 105, 84)"/>
<rect x="254.40" y="92.32" width="3.80" height="3.85" fill="rgb(125, 22, 18)"/>
<rect x="254.90" y="92.82" width="2.80" height="2.85" fill="rgb(233, 124, 102)"/>
<rect x="258.20" y="92.32" width="3.80" height="3.85" fill="rgb(125, 22, 18)"/>
<rect x="258.70" y="92.82" width="2.80" height="2.85" fill="rgb(211, 69, 50)"/>
<rect x="239.20" y="96.17" width="3.80" height="3.85" fill="rgb(125, 22, 18)"/>
<rect x="239.70" y="96.67" width="2.80" height="2.85" fill="rgb(234, 127, 104)"/>
<rect x="243.00" y="96.17" width="3.80" height="3.85" fill="rgb(125, 22, 18)"/>
<rect x="243.50" y="96.67" width="2.80" height="2.85" fill="rgb(207, 60, 42)"/>
<rect x="246.80" y="96.17" width="3.80" height="3.85" fill="rgb(125, 22, 18)"/>
<rect x="247.30" y="96.67" width="2.80" height="2.85" fill="rgb(211, 70, 51)"/>
<rect x="250.60" y="96.17" width="3.80" height="3.85" fill="rgb(18, 10, 55)"/>
<rect x="251.10" y="96.67" width="2.80" height="2.85" fill="rgb(88, 75, 154)"/>
<rect x="254.40" y="96.17" width="3.80" height="3.85" fill="rgb(18, 10, 55)"/>
<rect x="254.90" y="96.67" width="2.80" height="2.85" fill="rgb(75, 62, 143)"/>
<rect x="258.20" y="96.17" width="3.80" height="3.85" fill="rgb(18, 10, 55)"/>
<rect x="258.70" y="96.67" width="2.80" height="2.85" fill="rgb(58, 45, 130)"/>
<rect x="239.20" y="100.01" width="3.80" height="3.85" fill="rgb(125, 22, 18)"/>
<rect x="239.70" y="100.51" width="2.80" height="2.85" fill="rgb(229, 114, 92)"/>
<rect x="243.00" y="100.01" width="3.80" height="3.85" fill="rgb(125, 22, 18)"/>
<rect x="243.50" y="100.51" width="2.80" height="2.85" fill="rgb(214, 78, 59)"/>
<rect x="246.80" y="100.01" width="3.80" height="3.85" fill="rgb(125, 22, 18)"/>
<rect x="247.30" y="100.51" width="2.80" height="2.85" fill="rgb(227, 108, 87)"/>
<rect x="250.60" y="100.01" width="3.80" height="3.85" fill="rgb(18, 10, 55)"/>
<rect x="251.10" y="100.51" width="2.80" height="2.85" fill="rgb(46, 33, 120)"/>
<rect x="254.40" y="100.01" width="3.80" height="3.85" fill="rgb(18, 10, 55)"/>
<rect x="254.90" y="100.51" width="2.80" height="2.85" fill="rgb(73, 60, 142)"/>
<rect x="258.20" y="100.01" width="3.80" height="3.85" fill="rgb(18, 10, 55)"/>
<rect x="258.70" y="100.51" width="2.80" height="2.85" fill="rgb(126, 113, 184)"/>
<rect x="239.20" y="103.86" width="3.80" height="3.85" fill="rgb(125, 22, 18)"/>
<rect x="239.70" y="104.36" width="2.80" height="2.85" fill="rgb(216, 82, 63)"/>
<rect x="243.00" y="103.86" width="3.80" height="3.85" fill="rgb(125, 22, 18)"/>
<rect x="243.50" y="104.36" width="2.80" height="2.85" fill="rgb(239, 139, 115)"/>
<rect x="246.80" y="103.86" width="3.80" height="3.85" fill="rgb(125, 22, 18)"/>
<rect x="247.30" y="104.36" width="2.80" height="2.85" fill="rgb(211, 70, 51)"/>
<rect x="250.60" y="103.86" width="3.80" height="3.85" fill="rgb(18, 10, 55)"/>
<rect x="251.10" y="104.36" width="2.80" height="2.85" fill="rgb(68, 55, 138)"/>
<rect x="254.40" y="103.86" width="3.80" height="3.85" fill="rgb(18, 10, 55)"/>
<rect x="254.90" y="104.36" width="2.80" height="2.85" fill="rgb(165, 152, 215)"/>
<rect x="258.20" y="103.86" width="3.80" height="3.85" fill="rgb(18, 10, 55)"/>
<rect x="258.70" y="104.36" width="2.80" height="2.85" fill="rgb(64, 51, 135)"/>
<rect x="239.20" y="107.70" width="3.80" height="3.85" fill="rgb(125, 22, 18)"/>
<rect x="239.70" y="108.20" width="2.80" height="2.85" fill="rgb(220, 92, 71)"/>
<rect x="243.00" y="107.70" width="3.80" height="3.85" fill="rgb(125, 22, 18)"/>
<rect x="243.50" y="108.20" width="2.80" height="2.85" fill="rgb(207, 61, 43)"/>
<rect x="246.80" y="107.70" width="3.80" height="3.85" fill="rgb(125, 22, 18)"/>
<rect x="247.30" y="108.20" width="2.80" height="2.85" fill="rgb(238, 136, 113)"/>
<rect x="250.60" y="107.70" width="3.80" height="3.85" fill="rgb(18, 10, 55)"/>
<rect x="251.10" y="108.20" width="2.80" height="2.85" fill="rgb(56, 43, 128)"/>
<rect x="254.40" y="107.70" width="3.80" height="3.85" fill="rgb(18, 10, 55)"/>
<rect x="254.90" y="108.20" width="2.80" height="2.85" fill="rgb(102, 89, 165)"/>
<rect x="258.20" y="107.70" width="3.80" height="3.85" fill="rgb(18, 10, 55)"/>
<rect x="258.70" y="108.20" width="2.80" height="2.85" fill="rgb(52, 39, 125)"/>
<rect x="239.20" y="111.55" width="3.80" height="3.85" fill="rgb(125, 22, 18)"/>
<rect x="239.70" y="112.05" width="2.80" height="2.85" fill="rgb(238, 137, 113)"/>
<rect x="243.00" y="111.55" width="3.80" height="3.85" fill="rgb(125, 22, 18)"/>
<rect x="243.50" y="112.05" width="2.80" height="2.85" fill="rgb(219, 89, 69)"/>
<rect x="246.80" y="111.55" width="3.80" height="3.85" fill="rgb(125, 22, 18)"/>
<rect x="247.30" y="112.05" width="2.80" height="2.85" fill="rgb(237, 133, 110)"/>
<rect x="250.60" y="111.55" width="3.80" height="3.85" fill="rgb(18, 10, 55)"/>
<rect x="251.10" y="112.05" width="2.80" height="2.85" fill="rgb(173, 159, 221)"/>
<rect x="254.40" y="111.55" width="3.80" height="3.85" fill="rgb(18, 10, 55)"/>
<rect x="254.90" y="112.05" width="2.80" height="2.85" fill="rgb(71, 57, 139)"/>
<rect x="258.20" y="111.55" width="3.80" height="3.85" fill="rgb(18, 10, 55)"/>
<rect x="258.70" y="112.05" width="2.80" height="2.85" fill="rgb(60, 46, 131)"/>
<rect x="239.20" y="115.40" width="3.80" height="3.85" fill="rgb(125, 22, 18)"/>
<rect x="239.70" y="115.90" width="2.80" height="2.85" fill="rgb(223, 100, 79)"/>
<rect x="243.00" y="115.40" width="3.80" height="3.85" fill="rgb(125, 22, 18)"/>
<rect x="243.50" y="115.90" width="2.80" height="2.85" fill="rgb(213, 76, 57)"/>
<rect x="246.80" y="115.40" width="3.80" height="3.85" fill="rgb(125, 22, 18)"/>
<rect x="247.30" y="115.90" width="2.80" height="2.85" fill="rgb(224, 101, 80)"/>
<rect x="250.60" y="115.40" width="3.80" height="3.85" fill="rgb(18, 10, 55)"/>
<rect x="251.10" y="115.90" width="2.80" height="2.85" fill="rgb(115, 101, 175)"/>
<rect x="254.40" y="115.40" width="3.80" height="3.85" fill="rgb(18, 10, 55)"/>
<rect x="254.90" y="115.90" width="2.80" height="2.85" fill="rgb(70, 56, 139)"/>
<rect x="258.20" y="115.40" width="3.80" height="3.85" fill="rgb(18, 10, 55)"/>
<rect x="258.70" y="115.90" width="2.80" height="2.85" fill="rgb(50, 37, 123)"/>
<rect x="239.20" y="119.24" width="3.80" height="3.85" fill="rgb(125, 22, 18)"/>
<rect x="239.70" y="119.74" width="2.80" height="2.85" fill="rgb(213, 74, 55)"/>
<rect x="243.00" y="119.24" width="3.80" height="3.85" fill="rgb(125, 22, 18)"/>
<rect x="243.50" y="119.74" width="2.80" height="2.85" fill="rgb(211, 71, 52)"/>
<rect x="246.80" y="119.24" width="3.80" height="3.85" fill="rgb(125, 22, 18)"/>
<rect x="247.30" y="119.74" width="2.80" height="2.85" fill="rgb(221, 94, 74)"/>
<rect x="250.60" y="119.24" width="3.80" height="3.85" fill="rgb(18, 10, 55)"/>
<rect x="251.10" y="119.74" width="2.80" height="2.85" fill="rgb(54, 41, 126)"/>
<rect x="254.40" y="119.24" width="3.80" height="3.85" fill="rgb(18, 10, 55)"/>
<rect x="254.90" y="119.74" width="2.80" height="2.85" fill="rgb(139, 125, 194)"/>
<rect x="258.20" y="119.24" width="3.80" height="3.85" fill="rgb(18, 10, 55)"/>
<rect x="258.70" y="119.74" width="2.80" height="2.85" fill="rgb(48, 35, 121)"/>
<rect x="239.20" y="123.09" width="3.80" height="3.85" fill="rgb(125, 22, 18)"/>
<rect x="239.70" y="123.59" width="2.80" height="2.85" fill="rgb(208, 63, 45)"/>
<rect x="243.00" y="123.09" width="3.80" height="3.85" fill="rgb(125, 22, 18)"/>
<rect x="243.50" y="123.59" width="2.80" height="2.85" fill="rgb(219, 90, 70)"/>
<rect x="246.80" y="123.09" width="3.80" height="3.85" fill="rgb(125, 22, 18)"/>
<rect x="247.30" y="123.59" width="2.80" height="2.85" fill="rgb(216, 82, 62)"/>
<rect x="250.60" y="123.09" width="3.80" height="3.85" fill="rgb(18, 10, 55)"/>
<rect x="251.10" y="123.59" width="2.80" height="2.85" fill="rgb(60, 47, 131)"/>
<rect x="254.40" y="123.09" width="3.80" height="3.85" fill="rgb(18, 10, 55)"/>
<rect x="254.90" y="123.59" width="2.80" height="2.85" fill="rgb(85, 72, 151)"/>
<rect x="258.20" y="123.09" width="3.80" height="3.85" fill="rgb(18, 10, 55)"/>
<rect x="258.70" y="123.59" width="2.80" height="2.85" fill="rgb(55, 42, 127)"/>
<rect x="239.20" y="126.93" width="3.80" height="3.85" fill="rgb(125, 22, 18)"/>
<rect x="239.70" y="127.43" width="2.80" height="2.85" fill="rgb(214, 78, 59)"/>
<rect x="243.00" y="126.93" width="3.80" height="3.85" fill="rgb(125, 22, 18)"/>
<rect x="243.50" y="127.43" width="2.80" height="2.85" fill="rgb(223, 100, 79)"/>
<rect x="246.80" y="126.93" width="3.80" height="3.85" fill="rgb(125, 22, 18)"/>
<rect x="247.30" y="127.43" width="2.80" height="2.85" fill="rgb(235, 128, 105)"/>
<rect x="250.60" y="126.93" width="3.80" height="3.85" fill="rgb(18, 10, 55)"/>
<rect x="251.10" y="127.43" width="2.80" height="2.85" fill="rgb(65, 52, 135)"/>
<rect x="254.40" y="126.93" width="3.80" height="3.85" fill="rgb(18, 10, 55)"/>
<rect x="254.90" y="127.43" width="2.80" height="2.85" fill="rgb(171, 157, 219)"/>
<rect x="258.20" y="126.93" width="3.80" height="3.85" fill="rgb(18, 10, 55)"/>
<rect x="258.70" y="127.43" width="2.80" height="2.85" fill="rgb(56, 43, 128)"/>
<rect x="239.20" y="130.78" width="3.80" height="3.85" fill="rgb(125, 22, 18)"/>
<rect x="239.70" y="131.28" width="2.80" height="2.85" fill="rgb(225, 105, 84)"/>
<rect x="243.00" y="130.78" width="3.80" height="3.85" fill="rgb(125, 22, 18)"/>
<rect x="243.50" y="131.28" width="2.80" height="2.85" fill="rgb(229, 115, 93)"/>
<rect x="246.80" y="130.78" width="3.80" height="3.85" fill="rgb(125, 22, 18)"/>
<rect x="247.30" y="131.28" width="2.80" height="2.85" fill="rgb(229, 114, 92)"/>
<rect x="250.60" y="130.78" width="3.80" height="3.85" fill="rgb(18, 10, 55)"/>
<rect x="251.10" y="131.28" width="2.80" height="2.85" fill="rgb(89, 75, 154)"/>
<rect x="254.40" y="130.78" width="3.80" height="3.85" fill="rgb(18, 10, 55)"/>
<rect x="254.90" y="131.28" width="2.80" height="2.85" fill="rgb(54, 41, 126)"/>
<rect x="258.20" y="130.78" width="3.80" height="3.85" fill="rgb(18, 10, 55)"/>
<rect x="258.70" y="131.28" width="2.80" height="2.85" fill="rgb(89, 76, 154)"/>
<rect x="239.20" y="134.62" width="3.80" height="3.85" fill="rgb(125, 22, 18)"/>
<rect x="239.70" y="135.12" width="2.80" height="2.85" fill="rgb(214, 79, 59)"/>
<rect x="243.00" y="134.62" width="3.80" height="3.85" fill="rgb(125, 22, 18)"/>
<rect x="243.50" y="135.12" width="2.80" height="2.85" fill="rgb(228, 111, 90)"/>
<rect x="246.80" y="134.62" width="3.80" height="3.85" fill="rgb(125, 22, 18)"/>
<rect x="247.30" y="135.12" width="2.80" height="2.85" fill="rgb(216, 82, 62)"/>
<rect x="250.60" y="134.62" width="3.80" height="3.85" fill="rgb(18, 10, 55)"/>
<rect x="251.10" y="135.12" width="2.80" height="2.85" fill="rgb(75, 62, 143)"/>
<rect x="254.40" y="134.62" width="3.80" height="3.85" fill="rgb(18, 10, 55)"/>
<rect x="254.90" y="135.12" width="2.80" height="2.85" fill="rgb(120, 107, 179)"/>
<rect x="258.20" y="134.62" width="3.80" height="3.85" fill="rgb(18, 10, 55)"/>
<rect x="258.70" y="135.12" width="2.80" height="2.85" fill="rgb(72, 59, 141)"/>
<rect x="239.20" y="138.47" width="3.80" height="3.85" fill="rgb(125, 22, 18)"/>
<rect x="239.70" y="138.97" width="2.80" height="2.85" fill="rgb(221, 95, 74)"/>
<rect x="243.00" y="138.47" width="3.80" height="3.85" fill="rgb(125, 22, 18)"/>
<rect x="243.50" y="138.97" width="2.80" height="2.85" fill="rgb(213, 76, 56)"/>
<rect x="246.80" y="138.47" width="3.80" height="3.85" fill="rgb(125, 22, 18)"/>
<rect x="247.30" y="138.97" width="2.80" height="2.85" fill="rgb(216, 83, 63)"/>
<rect x="250.60" y="138.47" width="3.80" height="3.85" fill="rgb(18, 10, 55)"/>
<rect x="251.10" y="138.97" width="2.80" height="2.85" fill="rgb(56, 43, 128)"/>
<rect x="254.40" y="138.47" width="3.80" height="3.85" fill="rgb(18, 10, 55)"/>
<rect x="254.90" y="138.97" width="2.80" height="2.85" fill="rgb(59, 46, 130)"/>
<rect x="258.20" y="138.47" width="3.80" height="3.85" fill="rgb(18, 10, 55)"/>
<rect x="258.70" y="138.97" width="2.80" height="2.85" fill="rgb(51, 38, 124)"/>
<rect x="239.20" y="142.32" width="3.80" height="3.85" fill="rgb(125, 22, 18)"/>
<rect x="239.70" y="142.82" width="2.80" height="2.85" fill="rgb(207, 60, 42)"/>
<rect x="243.00" y="142.32" width="3.80" height="3.85" fill="rgb(125, 22, 18)"/>
<rect x="243.50" y="142.82" width="2.80" height="2.85" fill="rgb(209, 66, 47)"/>
<rect x="246.80" y="142.32" width="3.80" height="3.85" fill="rgb(125, 22, 18)"/>
<rect x="247.30" y="142.82" width="2.80" height="2.85" fill="rgb(236, 132, 109)"/>
<rect x="250.60" y="142.32" width="3.80" height="3.85" fill="rgb(18, 10, 55)"/>
<rect x="251.10" y="142.82" width="2.80" height="2.85" fill="rgb(55, 42, 127)"/>
<rect x="254.40" y="142.32" width="3.80" height="3.85" fill="rgb(18, 10, 55)"/>
<rect x="254.90" y="142.82" width="2.80" height="2.85" fill="rgb(58, 45, 129)"/>
<rect x="258.20" y="142.32" width="3.80" height="3.85" fill="rgb(18, 10, 55)"/>
<rect x="258.70" y="142.82" width="2.80" height="2.85" fill="rgb(76, 63, 144)"/>
<rect x="239.20" y="146.16" width="3.80" height="3.85" fill="rgb(125, 22, 18)"/>
<rect x="239.70" y="146.66" width="2.80" height="2.85" fill="rgb(219, 90, 70)"/>
<rect x="243.00" y="146.16" width="3.80" height="3.85" fill="rgb(125, 22, 18)"/>
<rect x="243.50" y="146.66" width="2.80" height="2.85" fill="rgb(210, 68, 49)"/>
<rect x="246.80" y="146.16" width="3.80" height="3.85" fill="rgb(125, 22, 18)"/>
<rect x="247.30" y="146.66" width="2.80" height="2.85" fill="rgb(220, 91, 71)"/>
<rect x="250.60" y="146.16" width="3.80" height="3.85" fill="rgb(18, 10, 55)"/>
<rect x="251.10" y="146.66" width="2.80" height="2.85" fill="rgb(56, 43, 128)"/>
<rect x="254.40" y="146.16" width="3.80" height="3.85" fill="rgb(18, 10, 55)"/>
<rect x="254.90" y="146.66" width="2.80" height="2.85" fill="rgb(100, 86, 163)"/>
<rect x="258.20" y="146.16" width="3.80" height="3.85" fill="rgb(18, 10, 55)"/>
<rect x="258.70" y="146.66" width="2.80" height="2.85" fill="rgb(71, 58, 140)"/>
<rect x="239.20" y="150.01" width="3.80" height="3.85" fill="rgb(125, 22, 18)"/>
<rect x="239.70" y="150.51" width="2.80" height="2.85" fill="rgb(236, 132, 109)"/>
<rect x="243.00" y="150.01" width="3.80" height="3.85" fill="rgb(125, 22, 18)"/>
<rect x="243.50" y="150.51" width="2.80" height="2.85" fill="rgb(217, 85, 65)"/>
<rect x="246.80" y="150.01" width="3.80" height="3.85" fill="rgb(125, 22, 18)"/>
<rect x="247.30" y="150.51" width="2.80" height="2.85" fill="rgb(218, 86, 66)"/>
<rect x="250.60" y="150.01" width="3.80" height="3.85" fill="rgb(18, 10, 55)"/>
<rect x="251.10" y="150.51" width="2.80" height="2.85" fill="rgb(46, 33, 120)"/>
<rect x="254.40" y="150.01" width="3.80" height="3.85" fill="rgb(18, 10, 55)"/>
<rect x="254.90" y="150.51" width="2.80" height="2.85" fill="rgb(57, 44, 129)"/>
<rect x="258.20" y="150.01" width="3.80" height="3.85" fill="rgb(18, 10, 55)"/>
<rect x="258.70" y="150.51" width="2.80" height="2.85" fill="rgb(54, 41, 126)"/>
<rect x="239.20" y="153.85" width="3.80" height="3.85" fill="rgb(125, 22, 18)"/>
<rect x="239.70" y="154.35" width="2.80" height="2.85" fill="rgb(206, 59, 41)"/>
<rect x="243.00" y="153.85" width="3.80" height="3.85" fill="rgb(125, 22, 18)"/>
<rect x="243.50" y="154.35" width="2.80" height="2.85" fill="rgb(207, 61, 43)"/>
<rect x="246.80" y="153.85" width="3.80" height="3.85" fill="rgb(125, 22, 18)"/>
<rect x="247.30" y="154.35" width="2.80" height="2.85" fill="rgb(226, 106, 85)"/>
<rect x="250.60" y="153.85" width="3.80" height="3.85" fill="rgb(18, 10, 55)"/>
<rect x="251.10" y="154.35" width="2.80" height="2.85" fill="rgb(49, 36, 122)"/>
<rect x="254.40" y="153.85" width="3.80" height="3.85" fill="rgb(18, 10, 55)"/>
<rect x="254.90" y="154.35" width="2.80" height="2.85" fill="rgb(60, 47, 131)"/>
<rect x="258.20" y="153.85" width="3.80" height="3.85" fill="rgb(18, 10, 55)"/>
<rect x="258.70" y="154.35" width="2.80" height="2.85" fill="rgb(52, 39, 124)"/>
<rect x="239.20" y="157.70" width="3.80" height="3.85" fill="rgb(125, 22, 18)"/>
<rect x="239.70" y="158.20" width="2.80" height="2.85" fill="rgb(218, 86, 66)"/>
<rect x="243.00" y="157.70" width="3.80" height="3.85" fill="rgb(125, 22, 18)"/>
<rect x="243.50" y="158.20" width="2.80" height="2.85" fill="rgb(209, 66, 47)"/>
<rect x="246.80" y="157.70" width="3.80" height="3.85" fill="rgb(125, 22, 18)"/>
<rect x="247.30" y="158.20" width="2.80" height="2.85" fill="rgb(212, 72, 53)"/>
<rect x="250.60" y="157.70" width="3.80" height="3.85" fill="rgb(18, 10, 55)"/>
<rect x="251.10" y="158.20" width="2.80" height="2.85" fill="rgb(68, 55, 137)"/>
<rect x="254.40" y="157.70" width="3.80" height="3.85" fill="rgb(18, 10, 55)"/>
<rect x="254.90" y="158.20" width="2.80" height="2.85" fill="rgb(50, 37, 124)"/>
<rect x="258.20" y="157.70" width="3.80" height="3.85" fill="rgb(18, 10, 55)"/>
<rect x="258.70" y="158.20" width="2.80" height="2.85" fill="rgb(46, 33, 120)"/>
<rect x="239.20" y="161.54" width="3.80" height="3.85" fill="rgb(125, 22, 18)"/>
<rect x="239.70" y="162.04" width="2.80" height="2.85" fill="rgb(226, 106, 85)"/>
<rect x="243.00" y="161.54" width="3.80" height="3.85" fill="rgb(125, 22, 18)"/>
<rect x="243.50" y="162.04" width="2.80" height="2.85" fill="rgb(209, 66, 48)"/>
<rect x="246.80" y="161.54" width="3.80" height="3.85" fill="rgb(125, 22, 18)"/>
<rect x="247.30" y="162.04" width="2.80" height="2.85" fill="rgb(207, 62, 43)"/>
<rect x="250.60" y="161.54" width="3.80" height="3.85" fill="rgb(18, 10, 55)"/>
<rect x="251.10" y="162.04" width="2.80" height="2.85" fill="rgb(53, 40, 125)"/>
<rect x="254.40" y="161.54" width="3.80" height="3.85" fill="rgb(18, 10, 55)"/>
<rect x="254.90" y="162.04" width="2.80" height="2.85" fill="rgb(64, 51, 134)"/>
<rect x="258.20" y="161.54" width="3.80" height="3.85" fill="rgb(18, 10, 55)"/>
<rect x="258.70" y="162.04" width="2.80" height="2.85" fill="rgb(49, 36, 122)"/>
<rect x="239.20" y="165.39" width="3.80" height="3.85" fill="rgb(125, 22, 18)"/>
<rect x="239.70" y="165.89" width="2.80" height="2.85" fill="rgb(211, 69, 51)"/>
<rect x="243.00" y="165.39" width="3.80" height="3.85" fill="rgb(125, 22, 18)"/>
<rect x="243.50" y="165.89" width="2.80" height="2.85" fill="rgb(229, 115, 93)"/>
<rect x="246.80" y="165.39" width="3.80" height="3.85" fill="rgb(125, 22, 18)"/>
<rect x="247.30" y="165.89" width="2.80" height="2.85" fill="rgb(211, 70, 51)"/>
<rect x="250.60" y="165.39" width="3.80" height="3.85" fill="rgb(18, 10, 55)"/>
<rect x="251.10" y="165.89" width="2.80" height="2.85" fill="rgb(50, 37, 123)"/>
<rect x="254.40" y="165.39" width="3.80" height="3.85" fill="rgb(18, 10, 55)"/>
<rect x="254.90" y="165.89" width="2.80" height="2.85" fill="rgb(180, 166, 226)"/>
<rect x="258.20" y="165.39" width="3.80" height="3.85" fill="rgb(18, 10, 55)"/>
<rect x="258.70" y="165.89" width="2.80" height="2.85" fill="rgb(78, 64, 145)"/>
<rect x="239.20" y="169.24" width="3.80" height="3.85" fill="rgb(125, 22, 18)"/>
<rect x="239.70" y="169.74" width="2.80" height="2.85" fill="rgb(231, 118, 96)"/>
<rect x="243.00" y="169.24" width="3.80" height="3.85" fill="rgb(125, 22, 18)"/>
<rect x="243.50" y="169.74" width="2.80" height="2.85" fill="rgb(207, 60, 42)"/>
<rect x="246.80" y="169.24" width="3.80" height="3.85" fill="rgb(125, 22, 18)"/>
<rect x="247.30" y="169.74" width="2.80" height="2.85" fill="rgb(209, 64, 46)"/>
<rect x="250.60" y="169.24" width="3.80" height="3.85" fill="rgb(18, 10, 55)"/>
<rect x="251.10" y="169.74" width="2.80" height="2.85" fill="rgb(56, 43, 128)"/>
<rect x="254.40" y="169.24" width="3.80" height="3.85" fill="rgb(18, 10, 55)"/>
<rect x="254.90" y="169.74" width="2.80" height="2.85" fill="rgb(176, 162, 223)"/>
<rect x="258.20" y="169.24" width="3.80" height="3.85" fill="rgb(18, 10, 55)"/>
<rect x="258.70" y="169.74" width="2.80" height="2.85" fill="rgb(46, 33, 120)"/>
<rect x="239.20" y="173.08" width="3.80" height="3.85" fill="rgb(125, 22, 18)"/>
<rect x="239.70" y="173.58" width="2.80" height="2.85" fill="rgb(230, 116, 94)"/>
<rect x="243.00" y="173.08" width="3.80" height="3.85" fill="rgb(125, 22, 18)"/>
<rect x="243.50" y="173.58" width="2.80" height="2.85" fill="rgb(214, 77, 58)"/>
<rect x="246.80" y="173.08" width="3.80" height="3.85" fill="rgb(125, 22, 18)"/>
<rect x="247.30" y="173.58" width="2.80" height="2.85" fill="rgb(227, 109, 88)"/>
<rect x="250.60" y="173.08" width="3.80" height="3.85" fill="rgb(18, 10, 55)"/>
<rect x="251.10" y="173.58" width="2.80" height="2.85" fill="rgb(85, 72, 151)"/>
<rect x="254.40" y="173.08" width="3.80" height="3.85" fill="rgb(18, 10, 55)"/>
<rect x="254.90" y="173.58" width="2.80" height="2.85" fill="rgb(163, 149, 213)"/>
<rect x="258.20" y="173.08" width="3.80" height="3.85" fill="rgb(18, 10, 55)"/>
<rect x="258.70" y="173.58" width="2.80" height="2.85" fill="rgb(48, 35, 121)"/>
<rect x="239.20" y="176.93" width="3.80" height="3.85" fill="rgb(125, 22, 18)"/>
<rect x="239.70" y="177.43" width="2.80" height="2.85" fill="rgb(210, 67, 48)"/>
<rect x="243.00" y="176.93" width="3.80" height="3.85" fill="rgb(125, 22, 18)"/>
<rect x="243.50" y="177.43" width="2.80" height="2.85" fill="rgb(207, 62, 43)"/>
<rect x="246.80" y="176.93" width="3.80" height="3.85" fill="rgb(125, 22, 18)"/>
<rect x="247.30" y="177.43" width="2.80" height="2.85" fill="rgb(215, 79, 60)"/>
<rect x="250.60" y="176.93" width="3.80" height="3.85" fill="rgb(18, 10, 55)"/>
<rect x="251.10" y="177.43" width="2.80" height="2.85" fill="rgb(55, 42, 127)"/>
<rect x="254.40" y="176.93" width="3.80" height="3.85" fill="rgb(18, 10, 55)"/>
<rect x="254.90" y="177.43" width="2.80" height="2.85" fill="rgb(73, 60, 142)"/>
<rect x="258.20" y="176.93" width="3.80" height="3.85" fill="rgb(18, 10, 55)"/>
<rect x="258.70" y="177.43" width="2.80" height="2.85" fill="rgb(62, 49, 133)"/>
<rect x="239.20" y="180.77" width="3.80" height="3.85" fill="rgb(125, 22, 18)"/>
<rect x="239.70" y="181.27" width="2.80" height="2.85" fill="rgb(236, 132, 109)"/>
<rect x="243.00" y="180.77" width="3.80" height="3.85" fill="rgb(125, 22, 18)"/>
<rect x="243.50" y="181.27" width="2.80" height="2.85" fill="rgb(238, 137, 113)"/>
<rect x="246.80" y="180.77" width="3.80" height="3.85" fill="rgb(125, 22, 18)"/>
<rect x="247.30" y="181.27" width="2.80" height="2.85" fill="rgb(226, 106, 85)"/>
<rect x="250.60" y="180.77" width="3.80" height="3.85" fill="rgb(18, 10, 55)"/>
<rect x="251.10" y="181.27" width="2.80" height="2.85" fill="rgb(49, 36, 122)"/>
<rect x="254.40" y="180.77" width="3.80" height="3.85" fill="rgb(18, 10, 55)"/>
<rect x="254.90" y="181.27" width="2.80" height="2.85" fill="rgb(89, 75, 154)"/>
<rect x="258.20" y="180.77" width="3.80" height="3.85" fill="rgb(18, 10, 55)"/>
<rect x="258.70" y="181.27" width="2.80" height="2.85" fill="rgb(58, 45, 129)"/>
<rect x="239.20" y="184.62" width="3.80" height="3.85" fill="rgb(125, 22, 18)"/>
<rect x="239.70" y="185.12" width="2.80" height="2.85" fill="rgb(220, 92, 71)"/>
<rect x="243.00" y="184.62" width="3.80" height="3.85" fill="rgb(125, 22, 18)"/>
<rect x="243.50" y="185.12" width="2.80" height="2.85" fill="rgb(209, 65, 46)"/>
<rect x="246.80" y="184.62" width="3.80" height="3.85" fill="rgb(125, 22, 18)"/>
<rect x="247.30" y="185.12" width="2.80" height="2.85" fill="rgb(206, 59, 41)"/>
<rect x="250.60" y="184.62" width="3.80" height="3.85" fill="rgb(18, 10, 55)"/>
<rect x="251.10" y="185.12" width="2.80" height="2.85" fill="rgb(53, 40, 125)"/>
<rect x="254.40" y="184.62" width="3.80" height="3.85" fill="rgb(18, 10, 55)"/>
<rect x="254.90" y="185.12" width="2.80" height="2.85" fill="rgb(55, 42, 127)"/>
<rect x="258.20" y="184.62" width="3.80" height="3.85" fill="rgb(18, 10, 55)"/>
<rect x="258.70" y="185.12" width="2.80" height="2.85" fill="rgb(62, 49, 133)"/>
<rect x="239.20" y="188.46" width="3.80" height="3.85" fill="rgb(125, 22, 18)"/>
<rect x="239.70" y="188.96" width="2.80" height="2.85" fill="rgb(207, 60, 41)"/>
<rect x="243.00" y="188.46" width="3.80" height="3.85" fill="rgb(125, 22, 18)"/>
<rect x="243.50" y="188.96" width="2.80" height="2.85" fill="rgb(214, 78, 59)"/>
<rect x="246.80" y="188.46" width="3.80" height="3.85" fill="rgb(125, 22, 18)"/>
<rect x="247.30" y="188.96" width="2.80" height="2.85" fill="rgb(235, 128, 105)"/>
<rect x="250.60" y="188.46" width="3.80" height="3.85" fill="rgb(18, 10, 55)"/>
<rect x="251.10" y="188.96" width="2.80" height="2.85" fill="rgb(50, 37, 123)"/>
<rect x="254.40" y="188.46" width="3.80" height="3.85" fill="rgb(18, 10, 55)"/>
<rect x="254.90" y="188.96" width="2.80" height="2.85" fill="rgb(50, 37, 123)"/>
<rect x="258.20" y="188.46" width="3.80" height="3.85" fill="rgb(18, 10, 55)"/>
<rect x="258.70" y="188.96" width="2.80" height="2.85" fill="rgb(52, 39, 125)"/>
<rect x="239.20" y="192.31" width="3.80" height="3.85" fill="rgb(125, 22, 18)"/>
<rect x="239.70" y="192.81" width="2.80" height="2.85" fill="rgb(224, 101, 80)"/>
<rect x="243.00" y="192.31" width="3.80" height="3.85" fill="rgb(125, 22, 18)"/>
<rect x="243.50" y="192.81" width="2.80" height="2.85" fill="rgb(238, 135, 112)"/>
<rect x="246.80" y="192.31" width="3.80" height="3.85" fill="rgb(125, 22, 18)"/>
<rect x="247.30" y="192.81" width="2.80" height="2.85" fill="rgb(213, 75, 56)"/>
<rect x="250.60" y="192.31" width="3.80" height="3.85" fill="rgb(18, 10, 55)"/>
<rect x="251.10" y="192.81" width="2.80" height="2.85" fill="rgb(61, 47, 132)"/>
<rect x="254.40" y="192.31" width="3.80" height="3.85" fill="rgb(18, 10, 55)"/>
<rect x="254.90" y="192.81" width="2.80" height="2.85" fill="rgb(65, 52, 135)"/>
<rect x="258.20" y="192.31" width="3.80" height="3.85" fill="rgb(18, 10, 55)"/>
<rect x="258.70" y="192.81" width="2.80" height="2.85" fill="rgb(63, 50, 134)"/>
<rect x="239.20" y="196.16" width="3.80" height="3.85" fill="rgb(125, 22, 18)"/>
<rect x="239.70" y="196.66" width="2.80" height="2.85" fill="rgb(212, 72, 53)"/>
<rect x="243.00" y="196.16" width="3.80" height="3.85" fill="rgb(125, 22, 18)"/>
<rect x="243.50" y="196.66" width="2.80" height="2.85" fill="rgb(226, 106, 84)"/>
<rect x="246.80" y="196.16" width="3.80" height="3.85" fill="rgb(125, 22, 18)"/>
<rect x="247.30" y="196.66" width="2.80" height="2.85" fill="rgb(220, 91, 71)"/>
<rect x="250.60" y="196.16" width="3.80" height="3.85" fill="rgb(18, 10, 55)"/>
<rect x="251.10" y="196.66" width="2.80" height="2.85" fill="rgb(52, 39, 125)"/>
<rect x="254.40" y="196.16" width="3.80" height="3.85" fill="rgb(18, 10, 55)"/>
<rect x="254.90" y="196.66" width="2.80" height="2.85" fill="rgb(76, 63, 144)"/>
<rect x="258.20" y="196.16" width="3.80" height="3.85" fill="rgb(18, 10, 55)"/>
<rect x="258.70" y="196.66" width="2.80" height="2.85" fill="rgb(51, 38, 124)"/>
<rect x="239.20" y="200.00" width="3.80" height="3.85" fill="rgb(125, 22, 18)"/>
<rect x="239.70" y="200.50" width="2.80" height="2.85" fill="rgb(226, 106, 85)"/>
<rect x="243.00" y="200.00" width="3.80" height="3.85" fill="rgb(125, 22, 18)"/>
<rect x="243.50" y="200.50" width="2.80" height="2.85" fill="rgb(207, 60, 41)"/>
<rect x="246.80" y="200.00" width="3.80" height="3.85" fill="rgb(125, 22, 18)"/>
<rect x="247.30" y="200.50" width="2.80" height="2.85" fill="rgb(217, 85, 65)"/>
<rect x="250.60" y="200.00" width="3.80" height="3.85" fill="rgb(18, 10, 55)"/>
<rect x="251.10" y="200.50" width="2.80" height="2.85" fill="rgb(49, 36, 123)"/>
<rect x="254.40" y="200.00" width="3.80" height="3.85" fill="rgb(18, 10, 55)"/>
<rect x="254.90" y="200.50" width="2.80" height="2.85" fill="rgb(68, 55, 137)"/>
<rect x="258.20" y="200.00" width="3.80" height="3.85" fill="rgb(18, 10, 55)"/>
<rect x="258.70" y="200.50" width="2.80" height="2.85" fill="rgb(53, 39, 125)"/>
<rect x="239.20" y="203.85" width="3.80" height="3.85" fill="rgb(125, 22, 18)"/>
<rect x="239.70" y="204.35" width="2.80" height="2.85" fill="rgb(210, 68, 50)"/>
<rect x="243.00" y="203.85" width="3.80" height="3.85" fill="rgb(125, 22, 18)"/>
<rect x="243.50" y="204.35" width="2.80" height="2.85" fill="rgb(206, 58, 40)"/>
<rect x="246.80" y="203.85" width="3.80" height="3.85" fill="rgb(125, 22, 18)"/>
<rect x="247.30" y="204.35" width="2.80" height="2.85" fill="rgb(234, 126, 104)"/>
<rect x="250.60" y="203.85" width="3.80" height="3.85" fill="rgb(18, 10, 55)"/>
<rect x="251.10" y="204.35" width="2.80" height="2.85" fill="rgb(53, 40, 125)"/>
<rect x="254.40" y="203.85" width="3.80" height="3.85" fill="rgb(18, 10, 55)"/>
<rect x="254.90" y="204.35" width="2.80" height="2.85" fill="rgb(46, 33, 120)"/>
<rect x="258.20" y="203.85" width="3.80" height="3.85" fill="rgb(18, 10, 55)"/>
<rect x="258.70" y="204.35" width="2.80" height="2.85" fill="rgb(60, 46, 131)"/>
<rect x="239.20" y="207.69" width="3.80" height="3.85" fill="rgb(125, 22, 18)"/>
<rect x="239.70" y="208.19" width="2.80" height="2.85" fill="rgb(210, 68, 50)"/>
<rect x="243.00" y="207.69" width="3.80" height="3.85" fill="rgb(125, 22, 18)"/>
<rect x="243.50" y="208.19" width="2.80" height="2.85" fill="rgb(207, 61, 43)"/>
<rect x="246.80" y="207.69" width="3.80" height="3.85" fill="rgb(125, 22, 18)"/>
<rect x="247.30" y="208.19" width="2.80" height="2.85" fill="rgb(224, 101, 80)"/>
<rect x="250.60" y="207.69" width="3.80" height="3.85" fill="rgb(18, 10, 55)"/>
<rect x="251.10" y="208.19" width="2.80" height="2.85" fill="rgb(56, 43, 128)"/>
<rect x="254.40" y="207.69" width="3.80" height="3.85" fill="rgb(18, 10, 55)"/>
<rect x="254.90" y="208.19" width="2.80" height="2.85" fill="rgb(57, 43, 128)"/>
<rect x="258.20" y="207.69" width="3.80" height="3.85" fill="rgb(18, 10, 55)"/>
<rect x="258.70" y="208.19" width="2.80" height="2.85" fill="rgb(57, 44, 129)"/>
<rect x="239.20" y="211.54" width="3.80" height="3.85" fill="rgb(125, 22, 18)"/>
<rect x="239.70" y="212.04" width="2.80" height="2.85" fill="rgb(216, 83, 63)"/>
<rect x="243.00" y="211.54" width="3.80" height="3.85" fill="rgb(125, 22, 18)"/>
<rect x="243.50" y="212.04" width="2.80" height="2.85" fill="rgb(235, 130, 107)"/>
<rect x="246.80" y="211.54" width="3.80" height="3.85" fill="rgb(125, 22, 18)"/>
<rect x="247.30" y="212.04" width="2.80" height="2.85" fill="rgb(238, 136, 113)"/>
<rect x="250.60" y="211.54" width="3.80" height="3.85" fill="rgb(18, 10, 55)"/>
<rect x="251.10" y="212.04" width="2.80" height="2.85" fill="rgb(50, 37, 124)"/>
<rect x="254.40" y="211.54" width="3.80" height="3.85" fill="rgb(18, 10, 55)"/>
<rect x="254.90" y="212.04" width="2.80" height="2.85" fill="rgb(119, 106, 178)"/>
<rect x="258.20" y="211.54" width="3.80" height="3.85" fill="rgb(18, 10, 55)"/>
<rect x="258.70" y="212.04" width="2.80" height="2.85" fill="rgb(56, 43, 128)"/>
<rect x="239.20" y="215.38" width="3.80" height="3.85" fill="rgb(125, 22, 18)"/>
<rect x="239.70" y="215.88" width="2.80" height="2.85" fill="rgb(222, 97, 76)"/>
<rect x="243.00" y="215.38" width="3.80" height="3.85" fill="rgb(125, 22, 18)"/>
<rect x="243.50" y="215.88" width="2.80" height="2.85" fill="rgb(217, 84, 64)"/>
<rect x="246.80" y="215.38" width="3.80" height="3.85" fill="rgb(125, 22, 18)"/>
<rect x="247.30" y="215.88" width="2.80" height="2.85" fill="rgb(213, 75, 56)"/>
<rect x="250.60" y="215.38" width="3.80" height="3.85" fill="rgb(18, 10, 55)"/>
<rect x="251.10" y="215.88" width="2.80" height="2.85" fill="rgb(46, 33, 120)"/>
<rect x="254.40" y="215.38" width="3.80" height="3.85" fill="rgb(18, 10, 55)"/>
<rect x="254.90" y="215.88" width="2.80" height="2.85" fill="rgb(74, 61, 142)"/>
<rect x="258.20" y="215.38" width="3.80" height="3.85" fill="rgb(18, 10, 55)"/>
<rect x="258.70" y="215.88" width="2.80" height="2.85" fill="rgb(55, 42, 127)"/>
<rect x="239.20" y="219.23" width="3.80" height="3.85" fill="rgb(125, 22, 18)"/>
<rect x="239.70" y="219.73" width="2.80" height="2.85" fill="rgb(208, 64, 45)"/>
<rect x="243.00" y="219.23" width="3.80" height="3.85" fill="rgb(125, 22, 18)"/>
<rect x="243.50" y="219.73" width="2.80" height="2.85" fill="rgb(225, 105, 84)"/>
<rect x="246.80" y="219.23" width="3.80" height="3.85" fill="rgb(125, 22, 18)"/>
<rect x="247.30" y="219.73" width="2.80" height="2.85" fill="rgb(210, 67, 48)"/>
<rect x="250.60" y="219.23" width="3.80" height="3.85" fill="rgb(18, 10, 55)"/>
<rect x="251.10" y="219.73" width="2.80" height="2.85" fill="rgb(61, 48, 132)"/>
<rect x="254.40" y="219.23" width="3.80" height="3.85" fill="rgb(18, 10, 55)"/>
<rect x="254.90" y="219.73" width="2.80" height="2.85" fill="rgb(80, 67, 147)"/>
<rect x="258.20" y="219.23" width="3.80" height="3.85" fill="rgb(18, 10, 55)"/>
<rect x="258.70" y="219.73" width="2.80" height="2.85" fill="rgb(50, 37, 123)"/>
<rect x="239.20" y="223.08" width="3.80" height="3.85" fill="rgb(125, 22, 18)"/>
<rect x="239.70" y="223.58" width="2.80" height="2.85" fill="rgb(211, 69, 51)"/>
<rect x="243.00" y="223.08" width="3.80" height="3.85" fill="rgb(125, 22, 18)"/>
<rect x="243.50" y="223.58" width="2.80" height="2.85" fill="rgb(221, 95, 75)"/>
<rect x="246.80" y="223.08" width="3.80" height="3.85" fill="rgb(125, 22, 18)"/>
<rect x="247.30" y="223.58" width="2.80" height="2.85" fill="rgb(215, 80, 61)"/>
<rect x="250.60" y="223.08" width="3.80" height="3.85" fill="rgb(18, 10, 55)"/>
<rect x="251.10" y="223.58" width="2.80" height="2.85" fill="rgb(49, 36, 122)"/>
<rect x="254.40" y="223.08" width="3.80" height="3.85" fill="rgb(18, 10, 55)"/>
<rect x="254.90" y="223.58" width="2.80" height="2.85" fill="rgb(57, 44, 129)"/>
<rect x="258.20" y="223.08" width="3.80" height="3.85" fill="rgb(18, 10, 55)"/>
<rect x="258.70" y="223.58" width="2.80" height="2.85" fill="rgb(49, 36, 122)"/>
<rect x="239.20" y="226.92" width="3.80" height="3.85" fill="rgb(125, 22, 18)"/>
<rect x="239.70" y="227.42" width="2.80" height="2.85" fill="rgb(208, 62, 44)"/>
<rect x="243.00" y="226.92" width="3.80" height="3.85" fill="rgb(125, 22, 18)"/>
<rect x="243.50" y="227.42" width="2.80" height="2.85" fill="rgb(207, 61, 43)"/>
<rect x="246.80" y="226.92" width="3.80" height="3.85" fill="rgb(125, 22, 18)"/>
<rect x="247.30" y="227.42" width="2.80" height="2.85" fill="rgb(235, 129, 106)"/>
<rect x="250.60" y="226.92" width="3.80" height="3.85" fill="rgb(18, 10, 55)"/>
<rect x="251.10" y="227.42" width="2.80" height="2.85" fill="rgb(88, 75, 154)"/>
<rect x="254.40" y="226.92" width="3.80" height="3.85" fill="rgb(18, 10, 55)"/>
<rect x="254.90" y="227.42" width="2.80" height="2.85" fill="rgb(66, 53, 136)"/>
<rect x="258.20" y="226.92" width="3.80" height="3.85" fill="rgb(18, 10, 55)"/>
<rect x="258.70" y="227.42" width="2.80" height="2.85" fill="rgb(73, 60, 141)"/>
<rect x="239.20" y="230.77" width="3.80" height="3.85" fill="rgb(125, 22, 18)"/>
<rect x="239.70" y="231.27" width="2.80" height="2.85" fill="rgb(211, 70, 51)"/>
<rect x="243.00" y="230.77" width="3.80" height="3.85" fill="rgb(125, 22, 18)"/>
<rect x="243.50" y="231.27" width="2.80" height="2.85" fill="rgb(228, 112, 90)"/>
<rect x="246.80" y="230.77" width="3.80" height="3.85" fill="rgb(125, 22, 18)"/>
<rect x="247.30" y="231.27" width="2.80" height="2.85" fill="rgb(239, 138, 115)"/>
<rect x="250.60" y="230.77" width="3.80" height="3.85" fill="rgb(18, 10, 55)"/>
<rect x="251.10" y="231.27" width="2.80" height="2.85" fill="rgb(62, 49, 133)"/>
<rect x="254.40" y="230.77" width="3.80" height="3.85" fill="rgb(18, 10, 55)"/>
<rect x="254.90" y="231.27" width="2.80" height="2.85" fill="rgb(132, 118, 188)"/>
<rect x="258.20" y="230.77" width="3.80" height="3.85" fill="rgb(18, 10, 55)"/>
<rect x="258.70" y="231.27" width="2.80" height="2.85" fill="rgb(59, 46, 130)"/>
<rect x="239.20" y="234.61" width="3.80" height="3.85" fill="rgb(125, 22, 18)"/>
<rect x="239.70" y="235.11" width="2.80" height="2.85" fill="rgb(211, 70, 51)"/>
<rect x="243.00" y="234.61" width="3.80" height="3.85" fill="rgb(125, 22, 18)"/>
<rect x="243.50" y="235.11" width="2.80" height="2.85" fill="rgb(208, 62, 44)"/>
<rect x="246.80" y="234.61" width="3.80" height="3.85" fill="rgb(125, 22, 18)"/>
<rect x="247.30" y="235.11" width="2.80" height="2.85" fill="rgb(238, 137, 113)"/>
<rect x="250.60" y="234.61" width="3.80" height="3.85" fill="rgb(18, 10, 55)"/>
<rect x="251.10" y="235.11" width="2.80" height="2.85" fill="rgb(46, 33, 120)"/>
<rect x="254.40" y="234.61" width="3.80" height="3.85" fill="rgb(18, 10, 55)"/>
<rect x="254.90" y="235.11" width="2.80" height="2.85" fill="rgb(52, 38, 124)"/>
<rect x="258.20" y="234.61" width="3.80" height="3.85" fill="rgb(18, 10, 55)"/>
<rect x="258.70" y="235.11" width="2.80" height="2.85" fill="rgb(51, 38, 124)"/>
<rect x="239.20" y="238.46" width="3.80" height="3.85" fill="rgb(125, 22, 18)"/>
<rect x="239.70" y="238.96" width="2.80" height="2.85" fill="rgb(221, 94, 73)"/>
<rect x="243.00" y="238.46" width="3.80" height="3.85" fill="rgb(125, 22, 18)"/>
<rect x="243.50" y="238.96" width="2.80" height="2.85" fill="rgb(227, 110, 88)"/>
<rect x="246.80" y="238.46" width="3.80" height="3.85" fill="rgb(125, 22, 18)"/>
<rect x="247.30" y="238.96" width="2.80" height="2.85" fill="rgb(207, 60, 41)"/>
<rect x="250.60" y="238.46" width="3.80" height="3.85" fill="rgb(18, 10, 55)"/>
<rect x="251.10" y="238.96" width="2.80" height="2.85" fill="rgb(49, 36, 122)"/>
<rect x="254.40" y="238.46" width="3.80" height="3.85" fill="rgb(18, 10, 55)"/>
<rect x="254.90" y="238.96" width="2.80" height="2.85" fill="rgb(85, 71, 151)"/>
<rect x="258.20" y="238.46" width="3.80" height="3.85" fill="rgb(18, 10, 55)"/>
<rect x="258.70" y="238.96" width="2.80" height="2.85" fill="rgb(52, 39, 125)"/>
<rect x="239.20" y="242.30" width="3.80" height="3.85" fill="rgb(125, 22, 18)"/>
<rect x="239.70" y="242.80" width="2.80" height="2.85" fill="rgb(230, 115, 93)"/>
<rect x="243.00" y="242.30" width="3.80" height="3.85" fill="rgb(125, 22, 18)"/>
<rect x="243.50" y="242.80" width="2.80" height="2.85" fill="rgb(220, 92, 71)"/>
<rect x="246.80" y="242.30" width="3.80" height="3.85" fill="rgb(125, 22, 18)"/>
<rect x="247.30" y="242.80" width="2.80" height="2.85" fill="rgb(228, 110, 89)"/>
<rect x="250.60" y="242.30" width="3.80" height="3.85" fill="rgb(18, 10, 55)"/>
<rect x="251.10" y="242.80" width="2.80" height="2.85" fill="rgb(46, 33, 120)"/>
<rect x="254.40" y="242.30" width="3.80" height="3.85" fill="rgb(18, 10, 55)"/>
<rect x="254.90" y="242.80" width="2.80" height="2.85" fill="rgb(84, 71, 150)"/>
<rect x="258.20" y="242.30" width="3.80" height="3.85" fill="rgb(18, 10, 55)"/>
<rect x="258.70" y="242.80" width="2.80" height="2.85" fill="rgb(47, 34, 120)"/>
<rect x="239.20" y="246.15" width="3.80" height="3.85" fill="rgb(125, 22, 18)"/>
<rect x="239.70" y="246.65" width="2.80" height="2.85" fill="rgb(222, 97, 76)"/>
<rect x="243.00" y="246.15" width="3.80" height="3.85" fill="rgb(125, 22, 18)"/>
<rect x="243.50" y="246.65" width="2.80" height="2.85" fill="rgb(207, 61, 43)"/>
<rect x="246.80" y="246.15" width="3.80" height="3.85" fill="rgb(125, 22, 18)"/>
<rect x="247.30" y="246.65" width="2.80" height="2.85" fill="rgb(211, 69, 50)"/>
<rect x="250.60" y="246.15" width="3.80" height="3.85" fill="rgb(18, 10, 55)"/>
<rect x="251.10" y="246.65" width="2.80" height="2.85" fill="rgb(69, 55, 138)"/>
<rect x="254.40" y="246.15" width="3.80" height="3.85" fill="rgb(18, 10, 55)"/>
<rect x="254.90" y="246.65" width="2.80" height="2.85" fill="rgb(55, 42, 127)"/>
<rect x="258.20" y="246.15" width="3.80" height="3.85" fill="rgb(18, 10, 55)"/>
<rect x="258.70" y="246.65" width="2.80" height="2.85" fill="rgb(82, 68, 148)"/>
<rect x="239.20" y="250.00" width="3.80" height="3.85" fill="rgb(125, 22, 18)"/>
<rect x="239.70" y="250.50" width="2.80" height="2.85" fill="rgb(214, 77, 57)"/>
<rect x="243.00" y="250.00" width="3.80" height="3.85" fill="rgb(125, 22, 18)"/>
<rect x="243.50" y="250.50" width="2.80" height="2.85" fill="rgb(235, 128, 106)"/>
<rect x="246.80" y="250.00" width="3.80" height="3.85" fill="rgb(125, 22, 18)"/>
<rect x="247.30" y="250.50" width="2.80" height="2.85" fill="rgb(209, 66, 47)"/>
<rect x="250.60" y="250.00" width="3.80" height="3.85" fill="rgb(18, 10, 55)"/>
<rect x="251.10" y="250.50" width="2.80" height="2.85" fill="rgb(46, 33, 120)"/>
<rect x="254.40" y="250.00" width="3.80" height="3.85" fill="rgb(18, 10, 55)"/>
<rect x="254.90" y="250.50" width="2.80" height="2.85" fill="rgb(139, 125, 194)"/>
<rect x="258.20" y="250.00" width="3.80" height="3.85" fill="rgb(18, 10, 55)"/>
<rect x="258.70" y="250.50" width="2.80" height="2.85" fill="rgb(60, 47, 131)"/>
<rect x="239.20" y="253.84" width="3.80" height="3.85" fill="rgb(125, 22, 18)"/>
<rect x="239.70" y="254.34" width="2.80" height="2.85" fill="rgb(213, 76, 57)"/>
<rect x="243.00" y="253.84" width="3.80" height="3.85" fill="rgb(125, 22, 18)"/>
<rect x="243.50" y="254.34" width="2.80" height="2.85" fill="rgb(216, 82, 62)"/>
<rect x="246.80" y="253.84" width="3.80" height="3.85" fill="rgb(125, 22, 18)"/>
<rect x="247.30" y="254.34" width="2.80" height="2.85" fill="rgb(207, 60, 42)"/>
<rect x="250.60" y="253.84" width="3.80" height="3.85" fill="rgb(18, 10, 55)"/>
<rect x="251.10" y="254.34" width="2.80" height="2.85" fill="rgb(57, 44, 129)"/>
<rect x="254.40" y="253.84" width="3.80" height="3.85" fill="rgb(18, 10, 55)"/>
<rect x="254.90" y="254.34" width="2.80" height="2.85" fill="rgb(57, 44, 129)"/>
<rect x="258.20" y="253.84" width="3.80" height="3.85" fill="rgb(18, 10, 55)"/>
<rect x="258.70" y="254.34" width="2.80" height="2.85" fill="rgb(51, 38, 124)"/>
<rect x="239.20" y="257.69" width="3.80" height="3.85" fill="rgb(125, 22, 18)"/>
<rect x="239.70" y="258.19" width="2.80" height="2.85" fill="rgb(215, 79, 59)"/>
<rect x="243.00" y="257.69" width="3.80" height="3.85" fill="rgb(125, 22, 18)"/>
<rect x="243.50" y="258.19" width="2.80" height="2.85" fill="rgb(206, 59, 41)"/>
<rect x="246.80" y="257.69" width="3.80" height="3.85" fill="rgb(125, 22, 18)"/>
<rect x="247.30" y="258.19" width="2.80" height="2.85" fill="rgb(235, 128, 105)"/>
<rect x="250.60" y="257.69" width="3.80" height="3.85" fill="rgb(18, 10, 55)"/>
<rect x="251.10" y="258.19" width="2.80" height="2.85" fill="rgb(62, 49, 133)"/>
<rect x="254.40" y="257.69" width="3.80" height="3.85" fill="rgb(18, 10, 55)"/>
<rect x="254.90" y="258.19" width="2.80" height="2.85" fill="rgb(146, 132, 199)"/>
<rect x="258.20" y="257.69" width="3.80" height="3.85" fill="rgb(18, 10, 55)"/>
<rect x="258.70" y="258.19" width="2.80" height="2.85" fill="rgb(89, 76, 154)"/>
<rect x="239.20" y="261.53" width="3.80" height="3.85" fill="rgb(125, 22, 18)"/>
<rect x="239.70" y="262.03" width="2.80" height="2.85" fill="rgb(211, 70, 51)"/>
<rect x="243.00" y="261.53" width="3.80" height="3.85" fill="rgb(125, 22, 18)"/>
<rect x="243.50" y="262.03" width="2.80" height="2.85" fill="rgb(222, 98, 77)"/>
<rect x="246.80" y="261.53" width="3.80" height="3.85" fill="rgb(125, 22, 18)"/>
<rect x="247.30" y="262.03" width="2.80" height="2.85" fill="rgb(230, 117, 95)"/>
<rect x="250.60" y="261.53" width="3.80" height="3.85" fill="rgb(18, 10, 55)"/>
<rect x="251.10" y="262.03" width="2.80" height="2.85" fill="rgb(53, 39, 125)"/>
<rect x="254.40" y="261.53" width="3.80" height="3.85" fill="rgb(18, 10, 55)"/>
<rect x="254.90" y="262.03" width="2.80" height="2.85" fill="rgb(134, 120, 190)"/>
<rect x="258.20" y="261.53" width="3.80" height="3.85" fill="rgb(18, 10, 55)"/>
<rect x="258.70" y="262.03" width="2.80" height="2.85" fill="rgb(56, 43, 128)"/>
<rect x="239.20" y="265.38" width="3.80" height="3.85" fill="rgb(125, 22, 18)"/>
<rect x="239.70" y="265.88" width="2.80" height="2.85" fill="rgb(210, 68, 50)"/>
<rect x="243.00" y="265.38" width="3.80" height="3.85" fill="rgb(125, 22, 18)"/>
<rect x="243.50" y="265.88" width="2.80" height="2.85" fill="rgb(207, 59, 41)"/>
<rect x="246.80" y="265.38" width="3.80" height="3.85" fill="rgb(125, 22, 18)"/>
<rect x="247.30" y="265.88" width="2.80" height="2.85" fill="rgb(207, 62, 43)"/>
<rect x="250.60" y="265.38" width="3.80" height="3.85" fill="rgb(18, 10, 55)"/>
<rect x="251.10" y="265.88" width="2.80" height="2.85" fill="rgb(51, 38, 124)"/>
<rect x="254.40" y="265.38" width="3.80" height="3.85" fill="rgb(18, 10, 55)"/>
<rect x="254.90" y="265.88" width="2.80" height="2.85" fill="rgb(49, 36, 122)"/>
<rect x="258.20" y="265.38" width="3.80" height="3.85" fill="rgb(18, 10, 55)"/>
<rect x="258.70" y="265.88" width="2.80" height="2.85" fill="rgb(68, 55, 137)"/>
<rect x="239.20" y="269.22" width="3.80" height="3.85" fill="rgb(125, 22, 18)"/>
<rect x="239.70" y="269.72" width="2.80" height="2.85" fill="rgb(237, 134, 111)"/>
<rect x="243.00" y="269.22" width="3.80" height="3.85" fill="rgb(125, 22, 18)"/>
<rect x="243.50" y="269.72" width="2.80" height="2.85" fill="rgb(214, 78, 59)"/>
<rect x="246.80" y="269.22" width="3.80" height="3.85" fill="rgb(125, 22, 18)"/>
<rect x="247.30" y="269.72" width="2.80" height="2.85" fill="rgb(221, 94, 73)"/>
<rect x="250.60" y="269.22" width="3.80" height="3.85" fill="rgb(18, 10, 55)"/>
<rect x="251.10" y="269.72" width="2.80" height="2.85" fill="rgb(49, 36, 123)"/>
<rect x="254.40" y="269.22" width="3.80" height="3.85" fill="rgb(18, 10, 55)"/>
<rect x="254.90" y="269.72" width="2.80" height="2.85" fill="rgb(56, 42, 128)"/>
<rect x="258.20" y="269.22" width="3.80" height="3.85" fill="rgb(18, 10, 55)"/>
<rect x="258.70" y="269.72" width="2.80" height="2.85" fill="rgb(47, 34, 121)"/>
<rect x="239.20" y="273.07" width="3.80" height="3.85" fill="rgb(125, 22, 18)"/>
<rect x="239.70" y="273.57" width="2.80" height="2.85" fill="rgb(219, 89, 69)"/>
<rect x="243.00" y="273.07" width="3.80" height="3.85" fill="rgb(125, 22, 18)"/>
<rect x="243.50" y="273.57" width="2.80" height="2.85" fill="rgb(211, 69, 50)"/>
<rect x="246.80" y="273.07" width="3.80" height="3.85" fill="rgb(125, 22, 18)"/>
<rect x="247.30" y="273.57" width="2.80" height="2.85" fill="rgb(226, 107, 86)"/>
<rect x="250.60" y="273.07" width="3.80" height="3.85" fill="rgb(18, 10, 55)"/>
<rect x="251.10" y="273.57" width="2.80" height="2.85" fill="rgb(66, 53, 136)"/>
<rect x="254.40" y="273.07" width="3.80" height="3.85" fill="rgb(18, 10, 55)"/>
<rect x="254.90" y="273.57" width="2.80" height="2.85" fill="rgb(55, 41, 127)"/>
<rect x="258.20" y="273.07" width="3.80" height="3.85" fill="rgb(18, 10, 55)"/>
<rect x="258.70" y="273.57" width="2.80" height="2.85" fill="rgb(51, 38, 124)"/>
<rect x="239.20" y="276.91" width="3.80" height="3.85" fill="rgb(125, 22, 18)"/>
<rect x="239.70" y="277.41" width="2.80" height="2.85" fill="rgb(208, 63, 45)"/>
<rect x="243.00" y="276.91" width="3.80" height="3.85" fill="rgb(125, 22, 18)"/>
<rect x="243.50" y="277.41" width="2.80" height="2.85" fill="rgb(235, 129, 106)"/>
<rect x="246.80" y="276.91" width="3.80" height="3.85" fill="rgb(125, 22, 18)"/>
<rect x="247.30" y="277.41" width="2.80" height="2.85" fill="rgb(207, 59, 41)"/>
<rect x="250.60" y="276.91" width="3.80" height="3.85" fill="rgb(18, 10, 55)"/>
<rect x="251.10" y="277.41" width="2.80" height="2.85" fill="rgb(55, 42, 127)"/>
<rect x="254.40" y="276.91" width="3.80" height="3.85" fill="rgb(18, 10, 55)"/>
<rect x="254.90" y="277.41" width="2.80" height="2.85" fill="rgb(129, 116, 186)"/>
<rect x="258.20" y="276.91" width="3.80" height="3.85" fill="rgb(18, 10, 55)"/>
<rect x="258.70" y="277.41" width="2.80" height="2.85" fill="rgb(67, 53, 136)"/>
<rect x="239.20" y="280.76" width="3.80" height="3.85" fill="rgb(125, 22, 18)"/>
<rect x="239.70" y="281.26" width="2.80" height="2.85" fill="rgb(232, 121, 99)"/>
<rect x="243.00" y="280.76" width="3.80" height="3.85" fill="rgb(125, 22, 18)"/>
<rect x="243.50" y="281.26" width="2.80" height="2.85" fill="rgb(207, 60, 42)"/>
<rect x="246.80" y="280.76" width="3.80" height="3.85" fill="rgb(125, 22, 18)"/>
<rect x="247.30" y="281.26" width="2.80" height="2.85" fill="rgb(227, 109, 87)"/>
<rect x="250.60" y="280.76" width="3.80" height="3.85" fill="rgb(18, 10, 55)"/>
<rect x="251.10" y="281.26" width="2.80" height="2.85" fill="rgb(49, 36, 122)"/>
<rect x="254.40" y="280.76" width="3.80" height="3.85" fill="rgb(18, 10, 55)"/>
<rect x="254.90" y="281.26" width="2.80" height="2.85" fill="rgb(67, 53, 136)"/>
<rect x="258.20" y="280.76" width="3.80" height="3.85" fill="rgb(18, 10, 55)"/>
<rect x="258.70" y="281.26" width="2.80" height="2.85" fill="rgb(54, 41, 126)"/>
<rect x="239.20" y="284.61" width="3.80" height="3.85" fill="rgb(125, 22, 18)"/>
<rect x="239.70" y="285.11" width="2.80" height="2.85" fill="rgb(223, 98, 78)"/>
<rect x="243.00" y="284.61" width="3.80" height="3.85" fill="rgb(125, 22, 18)"/>
<rect x="243.50" y="285.11" width="2.80" height="2.85" fill="rgb(216, 83, 63)"/>
<rect x="246.80" y="284.61" width="3.80" height="3.85" fill="rgb(125, 22, 18)"/>
<rect x="247.30" y="285.11" width="2.80" height="2.85" fill="rgb(212, 72, 53)"/>
<rect x="250.60" y="284.61" width="3.80" height="3.85" fill="rgb(18, 10, 55)"/>
<rect x="251.10" y="285.11" width="2.80" height="2.85" fill="rgb(81, 68, 148)"/>
<rect x="254.40" y="284.61" width="3.80" height="3.85" fill="rgb(18, 10, 55)"/>
<rect x="254.90" y="285.11" width="2.80" height="2.85" fill="rgb(69, 56, 138)"/>
<rect x="258.20" y="284.61" width="3.80" height="3.85" fill="rgb(18, 10, 55)"/>
<rect x="258.70" y="285.11" width="2.80" height="2.85" fill="rgb(88, 75, 154)"/>
<rect x="239.20" y="288.45" width="3.80" height="3.85" fill="rgb(125, 22, 18)"/>
<rect x="239.70" y="288.95" width="2.80" height="2.85" fill="rgb(217, 84, 64)"/>
<rect x="243.00" y="288.45" width="3.80" height="3.85" fill="rgb(125, 22, 18)"/>
<rect x="243.50" y="288.95" width="2.80" height="2.85" fill="rgb(215, 80, 60)"/>
<rect x="246.80" y="288.45" width="3.80" height="3.85" fill="rgb(125, 22, 18)"/>
<rect x="247.30" y="288.95" width="2.80" height="2.85" fill="rgb(211, 70, 51)"/>
<rect x="250.60" y="288.45" width="3.80" height="3.85" fill="rgb(18, 10, 55)"/>
<rect x="251.10" y="288.95" width="2.80" height="2.85" fill="rgb(66, 53, 136)"/>
<rect x="254.40" y="288.45" width="3.80" height="3.85" fill="rgb(18, 10, 55)"/>
<rect x="254.90" y="288.95" width="2.80" height="2.85" fill="rgb(49, 36, 122)"/>
<rect x="258.20" y="288.45" width="3.80" height="3.85" fill="rgb(18, 10, 55)"/>
<rect x="258.70" y="288.95" width="2.80" height="2.85" fill="rgb(176, 162, 223)"/>
<rect x="239.20" y="292.30" width="3.80" height="3.85" fill="rgb(125, 22, 18)"/>
<rect x="239.70" y="292.80" width="2.80" height="2.85" fill="rgb(219, 89, 69)"/>
<rect x="243.00" y="292.30" width="3.80" height="3.85" fill="rgb(125, 22, 18)"/>
<rect x="243.50" y="292.80" width="2.80" height="2.85" fill="rgb(220, 91, 71)"/>
<rect x="246.80" y="292.30" width="3.80" height="3.85" fill="rgb(125, 22, 18)"/>
<rect x="247.30" y="292.80" width="2.80" height="2.85" fill="rgb(213, 74, 55)"/>
<rect x="250.60" y="292.30" width="3.80" height="3.85" fill="rgb(18, 10, 55)"/>
<rect x="251.10" y="292.80" width="2.80" height="2.85" fill="rgb(145, 132, 199)"/>
<rect x="254.40" y="292.30" width="3.80" height="3.85" fill="rgb(18, 10, 55)"/>
<rect x="254.90" y="292.80" width="2.80" height="2.85" fill="rgb(59, 46, 131)"/>
<rect x="258.20" y="292.30" width="3.80" height="3.85" fill="rgb(18, 10, 55)"/>
<rect x="258.70" y="292.80" width="2.80" height="2.85" fill="rgb(79, 66, 146)"/>
<rect x="239.20" y="296.14" width="3.80" height="3.85" fill="rgb(125, 22, 18)"/>
<rect x="239.70" y="296.64" width="2.80" height="2.85" fill="rgb(216, 82, 62)"/>
<rect x="243.00" y="296.14" width="3.80" height="3.85" fill="rgb(125, 22, 18)"/>
<rect x="243.50" y="296.64" width="2.80" height="2.85" fill="rgb(226, 107, 85)"/>
<rect x="246.80" y="296.14" width="3.80" height="3.85" fill="rgb(125, 22, 18)"/>
<rect x="247.30" y="296.64" width="2.80" height="2.85" fill="rgb(220, 92, 72)"/>
<rect x="250.60" y="296.14" width="3.80" height="3.85" fill="rgb(18, 10, 55)"/>
<rect x="251.10" y="296.64" width="2.80" height="2.85" fill="rgb(75, 62, 143)"/>
<rect x="254.40" y="296.14" width="3.80" height="3.85" fill="rgb(18, 10, 55)"/>
<rect x="254.90" y="296.64" width="2.80" height="2.85" fill="rgb(60, 47, 131)"/>
<rect x="258.20" y="296.14" width="3.80" height="3.85" fill="rgb(18, 10, 55)"/>
<rect x="258.70" y="296.64" width="2.80" height="2.85" fill="rgb(64, 51, 135)"/>
<rect x="239.20" y="299.99" width="3.80" height="3.85" fill="rgb(125, 22, 18)"/>
<rect x="239.70" y="300.49" width="2.80" height="2.85" fill="rgb(211, 70, 51)"/>
<rect x="243.00" y="299.99" width="3.80" height="3.85" fill="rgb(125, 22, 18)"/>
<rect x="243.50" y="300.49" width="2.80" height="2.85" fill="rgb(212, 71, 53)"/>
<rect x="246.80" y="299.99" width="3.80" height="3.85" fill="rgb(125, 22, 18)"/>
<rect x="247.30" y="300.49" width="2.80" height="2.85" fill="rgb(208, 63, 44)"/>
<rect x="250.60" y="299.99" width="3.80" height="3.85" fill="rgb(18, 10, 55)"/>
<rect x="251.10" y="300.49" width="2.80" height="2.85" fill="rgb(55, 42, 127)"/>
<rect x="254.40" y="299.99" width="3.80" height="3.85" fill="rgb(18, 10, 55)"/>
<rect x="254.90" y="300.49" width="2.80" height="2.85" fill="rgb(48, 35, 122)"/>
<rect x="258.20" y="299.99" width="3.80" height="3.85" fill="rgb(18, 10, 55)"/>
<rect x="258.70" y="300.49" width="2.80" height="2.85" fill="rgb(49, 36, 123)"/>
<rect x="239.20" y="303.83" width="3.80" height="3.85" fill="rgb(125, 22, 18)"/>
<rect x="239.70" y="304.33" width="2.80" height="2.85" fill="rgb(219, 90, 70)"/>
<rect x="243.00" y="303.83" width="3.80" height="3.85" fill="rgb(125, 22, 18)"/>
<rect x="243.50" y="304.33" width="2.80" height="2.85" fill="rgb(207, 60, 42)"/>
<rect x="246.80" y="303.83" width="3.80" height="3.85" fill="rgb(125, 22, 18)"/>
<rect x="247.30" y="304.33" width="2.80" height="2.85" fill="rgb(228, 112, 90)"/>
<rect x="250.60" y="303.83" width="3.80" height="3.85" fill="rgb(18, 10, 55)"/>
<rect x="251.10" y="304.33" width="2.80" height="2.85" fill="rgb(52, 39, 124)"/>
<rect x="254.40" y="303.83" width="3.80" height="3.85" fill="rgb(18, 10, 55)"/>
<rect x="254.90" y="304.33" width="2.80" height="2.85" fill="rgb(119, 105, 178)"/>
<rect x="258.20" y="303.83" width="3.80" height="3.85" fill="rgb(18, 10, 55)"/>
<rect x="258.70" y="304.33" width="2.80" height="2.85" fill="rgb(59, 46, 130)"/>
<rect x="239.20" y="307.68" width="3.80" height="3.85" fill="rgb(125, 22, 18)"/>
<rect x="239.70" y="308.18" width="2.80" height="2.85" fill="rgb(231, 120, 97)"/>
<rect x="243.00" y="307.68" width="3.80" height="3.85" fill="rgb(125, 22, 18)"/>
<rect x="243.50" y="308.18" width="2.80" height="2.85" fill="rgb(206, 58, 40)"/>
<rect x="246.80" y="307.68" width="3.80" height="3.85" fill="rgb(125, 22, 18)"/>
<rect x="247.30" y="308.18" width="2.80" height="2.85" fill="rgb(207, 59, 41)"/>
<rect x="250.60" y="307.68" width="3.80" height="3.85" fill="rgb(18, 10, 55)"/>
<rect x="251.10" y="308.18" width="2.80" height="2.85" fill="rgb(54, 41, 126)"/>
<rect x="254.40" y="307.68" width="3.80" height="3.85" fill="rgb(18, 10, 55)"/>
<rect x="254.90" y="308.18" width="2.80" height="2.85" fill="rgb(50, 37, 124)"/>
<rect x="258.20" y="307.68" width="3.80" height="3.85" fill="rgb(18, 10, 55)"/>
<rect x="258.70" y="308.18" width="2.80" height="2.85" fill="rgb(55, 41, 127)"/>
<rect x="239.20" y="311.53" width="3.80" height="3.85" fill="rgb(125, 22, 18)"/>
<rect x="239.70" y="312.03" width="2.80" height="2.85" fill="rgb(217, 86, 66)"/>
<rect x="243.00" y="311.53" width="3.80" height="3.85" fill="rgb(125, 22, 18)"/>
<rect x="243.50" y="312.03" width="2.80" height="2.85" fill="rgb(215, 81, 61)"/>
<rect x="246.80" y="311.53" width="3.80" height="3.85" fill="rgb(125, 22, 18)"/>
<rect x="247.30" y="312.03" width="2.80" height="2.85" fill="rgb(232, 122, 100)"/>
<rect x="250.60" y="311.53" width="3.80" height="3.85" fill="rgb(18, 10, 55)"/>
<rect x="251.10" y="312.03" width="2.80" height="2.85" fill="rgb(49, 36, 123)"/>
<rect x="254.40" y="311.53" width="3.80" height="3.85" fill="rgb(18, 10, 55)"/>
<rect x="254.90" y="312.03" width="2.80" height="2.85" fill="rgb(57, 44, 129)"/>
<rect x="258.20" y="311.53" width="3.80" height="3.85" fill="rgb(18, 10, 55)"/>
<rect x="258.70" y="312.03" width="2.80" height="2.85" fill="rgb(49, 36, 122)"/>
<rect x="239.20" y="315.37" width="3.80" height="3.85" fill="rgb(125, 22, 18)"/>
<rect x="239.70" y="315.87" width="2.80" height="2.85" fill="rgb(212, 73, 54)"/>
<rect x="243.00" y="315.37" width="3.80" height="3.85" fill="rgb(125, 22, 18)"/>
<rect x="243.50" y="315.87" width="2.80" height="2.85" fill="rgb(229, 113, 92)"/>
<rect x="246.80" y="315.37" width="3.80" height="3.85" fill="rgb(125, 22, 18)"/>
<rect x="247.30" y="315.87" width="2.80" height="2.85" fill="rgb(229, 114, 92)"/>
<rect x="250.60" y="315.37" width="3.80" height="3.85" fill="rgb(18, 10, 55)"/>
<rect x="251.10" y="315.87" width="2.80" height="2.85" fill="rgb(47, 34, 120)"/>
<rect x="254.40" y="315.37" width="3.80" height="3.85" fill="rgb(18, 10, 55)"/>
<rect x="254.90" y="315.87" width="2.80" height="2.85" fill="rgb(47, 34, 121)"/>
<rect x="258.20" y="315.37" width="3.80" height="3.85" fill="rgb(18, 10, 55)"/>
<rect x="258.70" y="315.87" width="2.80" height="2.85" fill="rgb(57, 44, 129)"/>
<rect x="239.20" y="319.22" width="3.80" height="3.85" fill="rgb(125, 22, 18)"/>
<rect x="239.70" y="319.72" width="2.80" height="2.85" fill="rgb(212, 72, 53)"/>
<rect x="243.00" y="319.22" width="3.80" height="3.85" fill="rgb(125, 22, 18)"/>
<rect x="243.50" y="319.72" width="2.80" height="2.85" fill="rgb(215, 79, 60)"/>
<rect x="246.80" y="319.22" width="3.80" height="3.85" fill="rgb(125, 22, 18)"/>
<rect x="247.30" y="319.72" width="2.80" height="2.85" fill="rgb(207, 60, 42)"/>
<rect x="250.60" y="319.22" width="3.80" height="3.85" fill="rgb(18, 10, 55)"/>
<rect x="251.10" y="319.72" width="2.80" height="2.85" fill="rgb(61, 47, 132)"/>
<rect x="254.40" y="319.22" width="3.80" height="3.85" fill="rgb(18, 10, 55)"/>
<rect x="254.90" y="319.72" width="2.80" height="2.85" fill="rgb(58, 45, 129)"/>
<rect x="258.20" y="319.22" width="3.80" height="3.85" fill="rgb(18, 10, 55)"/>
<rect x="258.70" y="319.72" width="2.80" height="2.85" fill="rgb(89, 76, 154)"/>
<rect x="239.20" y="323.06" width="3.80" height="3.85" fill="rgb(125, 22, 18)"/>
<rect x="239.70" y="323.56" width="2.80" height="2.85" fill="rgb(220, 93, 72)"/>
<rect x="243.00" y="323.06" width="3.80" height="3.85" fill="rgb(125, 22, 18)"/>
<rect x="243.50" y="323.56" width="2.80" height="2.85" fill="rgb(207, 60, 42)"/>
<rect x="246.80" y="323.06" width="3.80" height="3.85" fill="rgb(125, 22, 18)"/>
<rect x="247.30" y="323.56" width="2.80" height="2.85" fill="rgb(211, 69, 51)"/>
<rect x="250.60" y="323.06" width="3.80" height="3.85" fill="rgb(18, 10, 55)"/>
<rect x="251.10" y="323.56" width="2.80" height="2.85" fill="rgb(128, 114, 185)"/>
<rect x="254.40" y="323.06" width="3.80" height="3.85" fill="rgb(18, 10, 55)"/>
<rect x="254.90" y="323.56" width="2.80" height="2.85" fill="rgb(48, 35, 122)"/>
<rect x="258.20" y="323.06" width="3.80" height="3.85" fill="rgb(18, 10, 55)"/>
<rect x="258.70" y="323.56" width="2.80" height="2.85" fill="rgb(50, 37, 123)"/>
<rect x="239.20" y="326.91" width="3.80" height="3.85" fill="rgb(125, 22, 18)"/>
<rect x="239.70" y="327.41" width="2.80" height="2.85" fill="rgb(207, 60, 42)"/>
<rect x="243.00" y="326.91" width="3.80" height="3.85" fill="rgb(125, 22, 18)"/>
<rect x="243.50" y="327.41" width="2.80" height="2.85" fill="rgb(220, 92, 71)"/>
<rect x="246.80" y="326.91" width="3.80" height="3.85" fill="rgb(125, 22, 18)"/>
<rect x="247.30" y="327.41" width="2.80" height="2.85" fill="rgb(226, 106, 84)"/>
<rect x="250.60" y="326.91" width="3.80" height="3.85" fill="rgb(18, 10, 55)"/>
<rect x="251.10" y="327.41" width="2.80" height="2.85" fill="rgb(51, 38, 124)"/>
<rect x="254.40" y="326.91" width="3.80" height="3.85" fill="rgb(18, 10, 55)"/>
<rect x="254.90" y="327.41" width="2.80" height="2.85" fill="rgb(113, 100, 173)"/>
<rect x="258.20" y="326.91" width="3.80" height="3.85" fill="rgb(18, 10, 55)"/>
<rect x="258.70" y="327.41" width="2.80" height="2.85" fill="rgb(88, 75, 153)"/>
<rect x="239.20" y="330.75" width="3.80" height="3.85" fill="rgb(125, 22, 18)"/>
<rect x="239.70" y="331.25" width="2.80" height="2.85" fill="rgb(211, 69, 50)"/>
<rect x="243.00" y="330.75" width="3.80" height="3.85" fill="rgb(125, 22, 18)"/>
<rect x="243.50" y="331.25" width="2.80" height="2.85" fill="rgb(236, 130, 107)"/>
<rect x="246.80" y="330.75" width="3.80" height="3.85" fill="rgb(125, 22, 18)"/>
<rect x="247.30" y="331.25" width="2.80" height="2.85" fill="rgb(231, 118, 96)"/>
<rect x="250.60" y="330.75" width="3.80" height="3.85" fill="rgb(18, 10, 55)"/>
<rect x="251.10" y="331.25" width="2.80" height="2.85" fill="rgb(51, 38, 124)"/>
<rect x="254.40" y="330.75" width="3.80" height="3.85" fill="rgb(18, 10, 55)"/>
<rect x="254.90" y="331.25" width="2.80" height="2.85" fill="rgb(54, 41, 126)"/>
<rect x="258.20" y="330.75" width="3.80" height="3.85" fill="rgb(18, 10, 55)"/>
<rect x="258.70" y="331.25" width="2.80" height="2.85" fill="rgb(59, 46, 130)"/>
</g>
<text x="267.6" y="26.37283950617284" font-size="3.75" text-anchor="start" fill="#333" stroke="#333" stroke-width="0.03" style="">Zcchc11</text>
<text x="267.6" y="30.218518518518522" font-size="3.75" text-anchor="start" fill="#333" stroke="#333" stroke-width="0.03" style="">Fos</text>
<text x="267.6" y="34.0641975308642" font-size="3.75" text-anchor="start" fill="#333" stroke="#333" stroke-width="0.03" style="">Igfbp7</text>
<text x="267.6" y="37.90987654320988" font-size="3.75" text-anchor="start" fill="#333" stroke="#333" stroke-width="0.03" style="">Satb1</text>
<text x="267.6" y="41.75555555555556" font-size="3.75" text-anchor="start" fill="#333" stroke="#333" stroke-width="0.03" style="">Igfbp4</text>
<text x="267.6" y="45.60123456790124" font-size="3.75" text-anchor="start" fill="#333" stroke="#333" stroke-width="0.03" style="">Ccdc82</text>
<text x="267.6" y="49.44691358024692" font-size="3.75" text-anchor="start" fill="#333" stroke="#333" stroke-width="0.03" style="">Fam84b</text>
<text x="267.6" y="53.2925925925926" font-size="3.75" text-anchor="start" fill="#333" stroke="#333" stroke-width="0.03" style="">Zfp451</text>
<text x="267.6" y="57.138271604938275" font-size="3.75" text-anchor="start" fill="#333" stroke="#333" stroke-width="0.03" style="">Rbpms2</text>
<text x="267.6" y="60.98395061728395" font-size="3.75" text-anchor="start" fill="#333" stroke="#333" stroke-width="0.03" style="">Rnf212</text>
<text x="267.6" y="64.82962962962964" font-size="3.75" text-anchor="start" fill="#333" stroke="#333" stroke-width="0.03" style="">Rora1</text>
<text x="267.6" y="68.6753086419753" font-size="3.75" text-anchor="start" fill="#333" stroke="#333" stroke-width="0.03" style="">Aebp2</text>
<text x="267.6" y="72.52098765432098" font-size="3.75" text-anchor="start" fill="#333" stroke="#333" stroke-width="0.03" style="">2410002O22Rik</text>
<text x="267.6" y="76.36666666666667" font-size="3.75" text-anchor="start" fill="#333" stroke="#333" stroke-width="0.03" style="">Rasgrp2</text>
<text x="267.6" y="80.21234567901234" font-size="3.75" text-anchor="start" fill="#333" stroke="#333" stroke-width="0.03" style="">Wbp5</text>
<text x="267.6" y="84.05802469135801" font-size="3.75" text-anchor="start" fill="#333" stroke="#333" stroke-width="0.03" style="">1810026B05Rik</text>
<text x="267.6" y="87.90370370370371" font-size="3.75" text-anchor="start" fill="#333" stroke="#333" stroke-width="0.03" style="">Mcc1</text>
<text x="267.6" y="91.74938271604938" font-size="3.75" text-anchor="start" fill="#333" stroke="#333" stroke-width="0.03" style="">Cbll1</text>
<text x="267.6" y="95.59506172839505" font-size="3.75" text-anchor="start" fill="#333" stroke="#333" stroke-width="0.03" style="">Sumf4</text>
<text x="267.6" y="99.44074074074075" font-size="3.75" text-anchor="start" fill="#333" stroke="#333" stroke-width="0.03" style="">Slc39a10</text>
<text x="267.6" y="103.28641975308642" font-size="3.75" text-anchor="start" fill="#333" stroke="#333" stroke-width="0.03" style="">Pfil</text>
<text x="267.6" y="107.13209876543209" font-size="3.75" text-anchor="start" fill="#333" stroke="#333" stroke-width="0.03" style="">Actn1</text>
<text x="267.6" y="110.97777777777779" font-size="3.75" text-anchor="start" fill="#333" stroke="#333" stroke-width="0.03" style="">Slc43a3</text>
<text x="267.6" y="114.82345679012346" font-size="3.75" text-anchor="start" fill="#333" stroke="#333" stroke-width="0.03" style="">Acin1</text>
<text x="267.6" y="118.66913580246913" font-size="3.75" text-anchor="start" fill="#333" stroke="#333" stroke-width="0.03" style="">Adam10</text>
<text x="267.6" y="122.51481481481483" font-size="3.75" text-anchor="start" fill="#333" stroke="#333" stroke-width="0.03" style="">Ehbp1</text>
<text x="267.6" y="126.3604938271605" font-size="3.75" text-anchor="start" fill="#333" stroke="#333" stroke-width="0.03" style="">Msx2</text>
<text x="267.6" y="130.20617283950617" font-size="3.75" text-anchor="start" fill="#333" stroke="#333" stroke-width="0.03" style="">Slc1a5</text>
<text x="267.6" y="134.05185185185186" font-size="3.75" text-anchor="start" fill="#333" stroke="#333" stroke-width="0.03" style="">Ptpn1</text>
<text x="267.6" y="137.89753086419753" font-size="3.75" text-anchor="start" fill="#333" stroke="#333" stroke-width="0.03" style="">Abcb4</text>
<text x="267.6" y="141.7432098765432" font-size="3.75" text-anchor="start" fill="#333" stroke="#333" stroke-width="0.03" style="">Ptbp1</text>
<text x="267.6" y="145.5888888888889" font-size="3.75" text-anchor="start" fill="#333" stroke="#333" stroke-width="0.03" style="">Aasdh</text>
<text x="267.6" y="149.43456790123457" font-size="3.75" text-anchor="start" fill="#333" stroke="#333" stroke-width="0.03" style="">Cox15</text>
<text x="267.6" y="153.28024691358024" font-size="3.75" text-anchor="start" fill="#333" stroke="#333" stroke-width="0.03" style="">Hira</text>
<text x="267.6" y="157.1259259259259" font-size="3.75" text-anchor="start" fill="#333" stroke="#333" stroke-width="0.03" style="">Irf3</text>
<text x="267.6" y="160.9716049382716" font-size="3.75" text-anchor="start" fill="#333" stroke="#333" stroke-width="0.03" style="">Tgif1</text>
<text x="267.6" y="164.81728395061728" font-size="3.75" text-anchor="start" fill="#333" stroke="#333" stroke-width="0.03" style="">Kifc1</text>
<text x="267.6" y="168.66296296296295" font-size="3.75" text-anchor="start" fill="#333" stroke="#333" stroke-width="0.03" style="">Grin1</text>
<text x="267.6" y="172.50864197530865" font-size="3.75" text-anchor="start" fill="#333" stroke="#333" stroke-width="0.03" style="">Gfer1</text>
<text x="267.6" y="176.35432098765432" font-size="3.75" text-anchor="start" fill="#333" stroke="#333" stroke-width="0.03" style="">Ttbk2</text>
<text x="267.6" y="180.2" font-size="3.75" text-anchor="start" fill="#333" stroke="#333" stroke-width="0.03" style="">Nbl2</text>
<text x="267.6" y="184.0456790123457" font-size="3.75" text-anchor="start" fill="#333" stroke="#333" stroke-width="0.03" style="">Ss18</text>
<text x="267.6" y="187.89135802469136" font-size="3.75" text-anchor="start" fill="#333" stroke="#333" stroke-width="0.03" style="">Sik1</text>
<text x="267.6" y="191.73703703703703" font-size="3.75" text-anchor="start" fill="#333" stroke="#333" stroke-width="0.03" style="">Mgp2</text>
<text x="267.6" y="195.58271604938273" font-size="3.75" text-anchor="start" fill="#333" stroke="#333" stroke-width="0.03" style="">4930427E13Rik</text>
<text x="267.6" y="199.4283950617284" font-size="3.75" text-anchor="start" fill="#333" stroke="#333" stroke-width="0.03" style="">Dnmt3a</text>
<text x="267.6" y="203.27407407407406" font-size="3.75" text-anchor="start" fill="#333" stroke="#333" stroke-width="0.03" style="">Akap2</text>
<text x="267.6" y="207.11975308641976" font-size="3.75" text-anchor="start" fill="#333" stroke="#333" stroke-width="0.03" style="">BC030500</text>
<text x="267.6" y="210.96543209876543" font-size="3.75" text-anchor="start" fill="#333" stroke="#333" stroke-width="0.03" style="">Pgs1</text>
<text x="267.6" y="214.8111111111111" font-size="3.75" text-anchor="start" fill="#333" stroke="#333" stroke-width="0.03" style="">BC03271</text>
<text x="267.6" y="218.6567901234568" font-size="3.75" text-anchor="start" fill="#333" stroke="#333" stroke-width="0.03" style="">LOC100503188</text>
<text x="267.6" y="222.50246913580247" font-size="3.75" text-anchor="start" fill="#333" stroke="#333" stroke-width="0.03" style="">Pwwp2</text>
<text x="267.6" y="226.34814814814814" font-size="3.75" text-anchor="start" fill="#333" stroke="#333" stroke-width="0.03" style="">Zranb1</text>
<text x="267.6" y="230.19382716049384" font-size="3.75" text-anchor="start" fill="#333" stroke="#333" stroke-width="0.03" style="">Nhs1</text>
<text x="267.6" y="234.0395061728395" font-size="3.75" text-anchor="start" fill="#333" stroke="#333" stroke-width="0.03" style="">Grid1</text>
<text x="267.6" y="237.88518518518518" font-size="3.75" text-anchor="start" fill="#333" stroke="#333" stroke-width="0.03" style="">Ptgr1</text>
<text x="267.6" y="241.73086419753088" font-size="3.75" text-anchor="start" fill="#333" stroke="#333" stroke-width="0.03" style="">Slc38a10</text>
<text x="267.6" y="245.57654320987655" font-size="3.75" text-anchor="start" fill="#333" stroke="#333" stroke-width="0.03" style="">Mpnd</text>
<text x="267.6" y="249.42222222222222" font-size="3.75" text-anchor="start" fill="#333" stroke="#333" stroke-width="0.03" style="">Lrrc8</text>
<text x="267.6" y="253.26790123456792" font-size="3.75" text-anchor="start" fill="#333" stroke="#333" stroke-width="0.03" style="">Bgn2</text>
<text x="267.6" y="257.1135802469136" font-size="3.75" text-anchor="start" fill="#333" stroke="#333" stroke-width="0.03" style="">Rps3</text>
<text x="267.6" y="260.9592592592593" font-size="3.75" text-anchor="start" fill="#333" stroke="#333" stroke-width="0.03" style="">Ckb1</text>
<text x="267.6" y="264.804938271605" font-size="3.75" text-anchor="start" fill="#333" stroke="#333" stroke-width="0.03" style="">Ifit1</text>
<text x="267.6" y="268.6506172839507" font-size="3.75" text-anchor="start" fill="#333" stroke="#333" stroke-width="0.03" style="">Kdelr</text>
<text x="267.6" y="272.49629629629635" font-size="3.75" text-anchor="start" fill="#333" stroke="#333" stroke-width="0.03" style="">Apol</text>
<text x="267.6" y="276.341975308642" font-size="3.75" text-anchor="start" fill="#333" stroke="#333" stroke-width="0.03" style="">4632419K19Rik</text>
<text x="267.6" y="280.1876543209877" font-size="3.75" text-anchor="start" fill="#333" stroke="#333" stroke-width="0.03" style="">Rap1</text>
<text x="267.6" y="284.0333333333334" font-size="3.75" text-anchor="start" fill="#333" stroke="#333" stroke-width="0.03" style="">Ltbp1</text>
<text x="267.6" y="287.8790123456791" font-size="3.75" text-anchor="start" fill="#333" stroke="#333" stroke-width="0.03" style="">Ctla2</text>
<text x="267.6" y="291.72469135802476" font-size="3.75" text-anchor="start" fill="#333" stroke="#333" stroke-width="0.03" style="">Edd1</text>
<text x="267.6" y="295.5703703703704" font-size="3.75" text-anchor="start" fill="#333" stroke="#333" stroke-width="0.03" style="">Smad6</text>
<text x="267.6" y="299.4160493827161" font-size="3.75" text-anchor="start" fill="#333" stroke="#333" stroke-width="0.03" style="">Gnb4</text>
<text x="267.6" y="303.26172839506177" font-size="3.75" text-anchor="start" fill="#333" stroke="#333" stroke-width="0.03" style="">Tnpo1</text>
<text x="267.6" y="307.1074074074075" font-size="3.75" text-anchor="start" fill="#333" stroke="#333" stroke-width="0.03" style="">Ahcyl</text>
<text x="267.6" y="310.95308641975316" font-size="3.75" text-anchor="start" fill="#333" stroke="#333" stroke-width="0.03" style="">Apob2</text>
<text x="267.6" y="314.79876543209883" font-size="3.75" text-anchor="start" fill="#333" stroke="#333" stroke-width="0.03" style="">Aplp2</text>
<text x="267.6" y="318.6444444444445" font-size="3.75" text-anchor="start" fill="#333" stroke="#333" stroke-width="0.03" style="">Adam15</text>
<text x="267.6" y="322.4901234567902" font-size="3.75" text-anchor="start" fill="#333" stroke="#333" stroke-width="0.03" style="">Apg8</text>
<text x="267.6" y="326.33580246913584" font-size="3.75" text-anchor="start" fill="#333" stroke="#333" stroke-width="0.03" style="">Slc2a3</text>
<text x="267.6" y="330.18148148148157" font-size="3.75" text-anchor="start" fill="#333" stroke="#333" stroke-width="0.03" style="">Dlx5</text>
<text x="267.6" y="334.02716049382724" font-size="3.75" text-anchor="start" fill="#333" stroke="#333" stroke-width="0.03" style="">Gli1</text>
<rect x="234.4" y="340.9" width="35" height="3.8" fill="#222" stroke="none" stroke-width="0.8"/>
<rect x="234.70000000000002" y="341.2" width="2.5818181818181793" height="3.2" fill="rgb(25, 25, 70)" stroke="none" stroke-width="0.8"/>
<rect x="237.8818181818182" y="341.2" width="2.5818181818181793" height="3.2" fill="rgb(40, 40, 110)" stroke="none" stroke-width="0.8"/>
<rect x="241.06363636363636" y="341.2" width="2.5818181818181793" height="3.2" fill="rgb(70, 70, 150)" stroke="none" stroke-width="0.8"/>
<rect x="244.24545454545455" y="341.2" width="2.5818181818181793" height="3.2" fill="rgb(130, 130, 190)" stroke="none" stroke-width="0.8"/>
<rect x="247.42727272727274" y="341.2" width="2.5818181818181793" height="3.2" fill="rgb(200, 200, 230)" stroke="none" stroke-width="0.8"/>
<rect x="250.60909090909092" y="341.2" width="2.5818181818181793" height="3.2" fill="rgb(245, 245, 245)" stroke="none" stroke-width="0.8"/>
<rect x="253.79090909090908" y="341.2" width="2.5818181818181793" height="3.2" fill="rgb(240, 200, 200)" stroke="none" stroke-width="0.8"/>
<rect x="256.9727272727273" y="341.2" width="2.5818181818181793" height="3.2" fill="rgb(230, 150, 150)" stroke="none" stroke-width="0.8"/>
<rect x="260.1545454545454" y="341.2" width="2.5818181818181793" height="3.2" fill="rgb(215, 90, 90)" stroke="none" stroke-width="0.8"/>
<rect x="263.3363636363636" y="341.2" width="2.5818181818181793" height="3.2" fill="rgb(200, 50, 50)" stroke="none" stroke-width="0.8"/>
<rect x="266.5181818181818" y="341.2" width="2.5818181818181793" height="3.2" fill="rgb(170, 30, 30)" stroke="none" stroke-width="0.8"/>
<text x="236.2" y="350.6" font-size="4.6" text-anchor="middle" fill="#333" stroke="#333" stroke-width="0.12" style="">-5</text>
<text x="251.5" y="350.6" font-size="4.6" text-anchor="middle" fill="#333" stroke="#333" stroke-width="0.12" style="">0</text>
<text x="267.3" y="350.6" font-size="4.6" text-anchor="middle" fill="#333" stroke="#333" stroke-width="0.12" style="">5</text>
<text x="367.3" y="19.3" font-size="5.7" text-anchor="start" fill="#222" stroke="#222" stroke-width="0.12" style="">Graft vs host disease up</text>
<text x="432.4" y="19.3" font-size="5.7" text-anchor="start" fill="#222" stroke="#222" stroke-width="0.12" style=""><tspan font-style="italic">P</tspan> = 0.0051</text>
<line x1="368.5" y1="24.4" x2="368.5" y2="83.8" stroke="#666" stroke-width="0.6"/>
<text x="365.3" y="31.544" font-size="5.4" text-anchor="end" fill="#333" stroke="#333" stroke-width="0.12" style="">0.3</text>
<text x="365.3" y="43.344" font-size="5.4" text-anchor="end" fill="#333" stroke="#333" stroke-width="0.12" style="">0.2</text>
<text x="365.3" y="55.144000000000005" font-size="5.4" text-anchor="end" fill="#333" stroke="#333" stroke-width="0.12" style="">0.1</text>
<text x="365.3" y="66.944" font-size="5.4" text-anchor="end" fill="#333" stroke="#333" stroke-width="0.12" style="">0</text>
<text x="365.3" y="78.744" font-size="5.4" text-anchor="end" fill="#333" stroke="#333" stroke-width="0.12" style="">−0.1</text>
<line x1="368.5" y1="66" x2="465.5" y2="66" stroke="#666" stroke-width="0.75"/>
<line x1="395.6" y1="30" x2="395.6" y2="66" stroke="#555" stroke-width="0.8" stroke-dasharray="3.4,2.6"/>
<polyline points="368.60,66.40 369.43,64.80 370.25,63.20 371.07,61.60 371.90,59.63 372.93,57.21 373.97,54.00 375.00,50.36 375.95,47.80 376.90,44.95 377.50,45.80 378.10,46.59 378.93,44.23 379.77,42.50 380.60,41.64 381.55,38.38 382.50,35.86 383.25,35.80 384.00,36.95 385.15,34.67 386.30,31.63 387.23,32.12 388.15,31.85 389.07,30.76 390.00,30.53 391.00,30.87 392.00,31.11 393.00,30.38 393.87,29.85 394.73,29.69 395.60,28.93 396.80,29.92 398.00,30.94 399.00,31.65 400.00,32.03 401.00,32.26 402.00,32.49 403.00,32.96 403.82,32.89 404.65,32.72 405.48,33.64 406.30,33.46 407.20,34.08 408.10,34.15 409.00,35.49 409.88,36.13 410.75,36.17 411.62,37.16 412.50,38.32 413.40,39.30 414.30,40.51 415.20,40.98 416.10,42.37 417.00,43.20 417.90,43.82 418.80,45.09 419.61,46.26 420.42,47.11 421.23,47.65 422.04,48.61 422.85,48.93 423.66,50.02 424.47,51.46 425.28,51.95 426.09,52.59 426.90,53.85 427.93,54.84 428.97,55.64 430.00,56.17 430.88,56.60 431.76,57.03 432.64,57.66 433.52,57.76 434.40,57.99 435.21,58.78 436.02,59.01 436.83,59.71 437.64,61.06 438.45,62.03 439.26,62.33 440.07,62.82 440.88,63.29 441.69,64.31 442.50,65.48 443.45,65.75 444.40,65.99 445.35,66.79 446.30,66.63 447.23,66.59 448.15,66.70 449.07,66.00 450.00,65.56 450.86,66.36 451.73,67.62 452.59,69.02 453.45,69.06 454.31,70.82 455.17,71.85 456.04,72.90 456.90,73.74 457.93,72.01 458.97,69.92 460.00,68.10 460.88,67.48 461.76,66.86 462.64,66.24 463.52,65.62 464.40,65.00" fill="none" stroke="#262a72" stroke-width="1.15" stroke-linejoin="round"/>
<rect x="369.3" y="78.8" width="7.699999999999989" height="5.700000000000003" fill="#f5bcb2" stroke="none" stroke-width="0.8"/>
<rect x="369.3" y="78.8" width="0.7446568671636776" height="5.700000000000003" fill="#e05a5c" stroke="none" stroke-width="0.8" fill-opacity="0.99"/>
<rect x="370.47754716761847" y="78.8" width="0.5046067053217481" height="5.700000000000003" fill="#e05a5c" stroke="none" stroke-width="0.8" fill-opacity="0.91"/>
<rect x="371.72319624135326" y="78.8" width="0.6672484268370471" height="5.700000000000003" fill="#e05a5c" stroke="none" stroke-width="0.8" fill-opacity="0.80"/>
<rect x="373.3793397156063" y="78.8" width="0.6738636033563048" height="5.700000000000003" fill="#e05a5c" stroke="none" stroke-width="0.8" fill-opacity="0.82"/>
<rect x="374.9445337774611" y="78.8" width="0.6915320586969809" height="5.700000000000003" fill="#e05a5c" stroke="none" stroke-width="0.8" fill-opacity="0.79"/>
<rect x="376.24780041050036" y="78.8" width="0.5778179217807351" height="5.700000000000003" fill="#e05a5c" stroke="none" stroke-width="0.8" fill-opacity="0.79"/>
<rect x="378.5" y="78.8" width="4.0" height="5.700000000000003" fill="#f5bcb2" stroke="none" stroke-width="0.8"/>
<rect x="378.5" y="78.8" width="0.4887532536877398" height="5.700000000000003" fill="#e05a5c" stroke="none" stroke-width="0.8" fill-opacity="0.82"/>
<rect x="379.8319210015988" y="78.8" width="0.6243696355037054" height="5.700000000000003" fill="#e05a5c" stroke="none" stroke-width="0.8" fill-opacity="1.00"/>
<rect x="381.19422025949217" y="78.8" width="0.6908084045798859" height="5.700000000000003" fill="#e05a5c" stroke="none" stroke-width="0.8" fill-opacity="0.97"/>
<rect x="384.5" y="78.8" width="7.5" height="5.700000000000003" fill="#f5bcb2" stroke="none" stroke-width="0.8"/>
<rect x="384.5" y="78.8" width="0.5158241255028568" height="5.700000000000003" fill="#e05a5c" stroke="none" stroke-width="0.8" fill-opacity="0.90"/>
<rect x="385.39822762211185" y="78.8" width="0.5750246932491718" height="5.700000000000003" fill="#e05a5c" stroke="none" stroke-width="0.8" fill-opacity="0.99"/>
<rect x="386.45855631096913" y="78.8" width="0.48748667648139693" height="5.700000000000003" fill="#e05a5c" stroke="none" stroke-width="0.8" fill-opacity="0.88"/>
<rect x="387.70825882994905" y="78.8" width="0.5742255073095125" height="5.700000000000003" fill="#e05a5c" stroke="none" stroke-width="0.8" fill-opacity="0.89"/>
<rect x="388.6049882845996" y="78.8" width="0.7564430557151229" height="5.700000000000003" fill="#e05a5c" stroke="none" stroke-width="0.8" fill-opacity="0.94"/>
<rect x="389.86766326742287" y="78.8" width="0.6764143481256256" height="5.700000000000003" fill="#e05a5c" stroke="none" stroke-width="0.8" fill-opacity="0.81"/>
<rect x="390.968951013493" y="78.8" width="0.7400411958248942" height="5.700000000000003" fill="#e05a5c" stroke="none" stroke-width="0.8" fill-opacity="0.86"/>
<rect x="393" y="78.8" width="5" height="5.700000000000003" fill="#f5bcb2" stroke="none" stroke-width="0.8"/>
<rect x="393" y="78.8" width="0.690610826478885" height="5.700000000000003" fill="#e05a5c" stroke="none" stroke-width="0.8" fill-opacity="0.78"/>
<rect x="394.199373838715" y="78.8" width="0.9184491988034802" height="5.700000000000003" fill="#e05a5c" stroke="none" stroke-width="0.8" fill-opacity="0.76"/>
<rect x="395.57616858352" y="78.8" width="0.5492051696119747" height="5.700000000000003" fill="#e05a5c" stroke="none" stroke-width="0.8" fill-opacity="0.86"/>
<rect x="396.6145130253959" y="78.8" width="0.6631635450328" height="5.700000000000003" fill="#e05a5c" stroke="none" stroke-width="0.8" fill-opacity="0.80"/>
<rect x="399" y="78.8" width="6" height="5.700000000000003" fill="#f5bcb2" stroke="none" stroke-width="0.8"/>
<rect x="399" y="78.8" width="0.4793734878352588" height="5.700000000000003" fill="#e05a5c" stroke="none" stroke-width="0.8" fill-opacity="0.82"/>
<rect x="400.32183936197697" y="78.8" width="0.9687647458719506" height="5.700000000000003" fill="#e05a5c" stroke="none" stroke-width="0.8" fill-opacity="0.97"/>
<rect x="401.7149758837322" y="78.8" width="0.7207257653436903" height="5.700000000000003" fill="#e05a5c" stroke="none" stroke-width="0.8" fill-opacity="0.88"/>
<rect x="403.3751741408387" y="78.8" width="0.9122991366919775" height="5.700000000000003" fill="#e05a5c" stroke="none" stroke-width="0.8" fill-opacity="0.77"/>
<rect x="406" y="78.8" width="7" height="5.700000000000003" fill="#f5bcb2" stroke="none" stroke-width="0.8"/>
<rect x="406" y="78.8" width="0.5387543478133929" height="5.700000000000003" fill="#e05a5c" stroke="none" stroke-width="0.8" fill-opacity="0.93"/>
<rect x="406.7907738286013" y="78.8" width="0.707156328155603" height="5.700000000000003" fill="#e05a5c" stroke="none" stroke-width="0.8" fill-opacity="0.84"/>
<rect x="408.39768632577784" y="78.8" width="0.8063329032381622" height="5.700000000000003" fill="#e05a5c" stroke="none" stroke-width="0.8" fill-opacity="0.96"/>
<rect x="409.7462893895504" y="78.8" width="0.47285578687879615" height="5.700000000000003" fill="#e05a5c" stroke="none" stroke-width="0.8" fill-opacity="0.87"/>
<rect x="410.9062949505553" y="78.8" width="0.7127635436166584" height="5.700000000000003" fill="#e05a5c" stroke="none" stroke-width="0.8" fill-opacity="0.97"/>
<rect x="411.8944749929628" y="78.8" width="0.5314881210059172" height="5.700000000000003" fill="#e05a5c" stroke="none" stroke-width="0.8" fill-opacity="0.80"/>
<rect x="414" y="78.8" width="6.5" height="5.700000000000003" fill="#f5bcb2" stroke="none" stroke-width="0.8"/>
<rect x="414" y="78.8" width="0.8937896611052538" height="5.700000000000003" fill="#e05a5c" stroke="none" stroke-width="0.8" fill-opacity="0.96"/>
<rect x="415.475556507496" y="78.8" width="0.8811730960237185" height="5.700000000000003" fill="#e05a5c" stroke="none" stroke-width="0.8" fill-opacity="0.79"/>
<rect x="416.73239364259746" y="78.8" width="0.7165387184343395" height="5.700000000000003" fill="#e05a5c" stroke="none" stroke-width="0.8" fill-opacity="0.78"/>
<rect x="418.42831167460434" y="78.8" width="0.5766480095165135" height="5.700000000000003" fill="#e05a5c" stroke="none" stroke-width="0.8" fill-opacity="0.76"/>
<rect x="419.87232345245707" y="78.8" width="0.4568276307590283" height="5.700000000000003" fill="#e05a5c" stroke="none" stroke-width="0.8" fill-opacity="0.85"/>
<rect x="424.2" y="78.8" width="2.0000000000000115" height="5.700000000000003" fill="#fae0dc" stroke="none" stroke-width="0.8"/>
<rect x="424.8" y="78.8" width="0.8000000000000114" height="5.700000000000003" fill="#e05a5c" stroke="none" stroke-width="0.8"/>
<rect x="426.4" y="78.8" width="2.0000000000000115" height="5.700000000000003" fill="#fae0dc" stroke="none" stroke-width="0.8"/>
<rect x="427" y="78.8" width="0.8000000000000114" height="5.700000000000003" fill="#e05a5c" stroke="none" stroke-width="0.8"/>
<rect x="428.9" y="78.8" width="2.0999999999999774" height="5.700000000000003" fill="#fae0dc" stroke="none" stroke-width="0.8"/>
<rect x="429.5" y="78.8" width="0.8999999999999773" height="5.700000000000003" fill="#e05a5c" stroke="none" stroke-width="0.8"/>
<rect x="432.5" y="78.8" width="2.0" height="5.700000000000003" fill="#f5bcb2" stroke="none" stroke-width="0.8"/>
<rect x="432.5" y="78.8" width="0.8040646158513645" height="5.700000000000003" fill="#e05a5c" stroke="none" stroke-width="0.8" fill-opacity="0.89"/>
<rect x="433.793675711984" y="78.8" width="0.4710879551851723" height="5.700000000000003" fill="#e05a5c" stroke="none" stroke-width="0.8" fill-opacity="1.00"/>
<rect x="435.4" y="78.8" width="2.2" height="5.700000000000003" fill="#fae0dc" stroke="none" stroke-width="0.8"/>
<rect x="436" y="78.8" width="1" height="5.700000000000003" fill="#e05a5c" stroke="none" stroke-width="0.8"/>
<rect x="438.5" y="78.8" width="2.0" height="5.700000000000003" fill="#f5bcb2" stroke="none" stroke-width="0.8"/>
<rect x="438.5" y="78.8" width="0.630176367273203" height="5.700000000000003" fill="#e05a5c" stroke="none" stroke-width="0.8" fill-opacity="0.75"/>
<rect x="439.69236976092014" y="78.8" width="0.807630239079856" height="5.700000000000003" fill="#e05a5c" stroke="none" stroke-width="0.8" fill-opacity="0.77"/>
<rect x="444" y="78.8" width="4.5" height="5.700000000000003" fill="#f5bcb2" stroke="none" stroke-width="0.8"/>
<rect x="444" y="78.8" width="0.6188257322736597" height="5.700000000000003" fill="#e05a5c" stroke="none" stroke-width="0.8" fill-opacity="0.83"/>
<rect x="445.41641421994154" y="78.8" width="0.48834344867476737" height="5.700000000000003" fill="#e05a5c" stroke="none" stroke-width="0.8" fill-opacity="0.87"/>
<rect x="446.5218004148983" y="78.8" width="0.6427444744128231" height="5.700000000000003" fill="#e05a5c" stroke="none" stroke-width="0.8" fill-opacity="0.98"/>
<rect x="447.75770529802395" y="78.8" width="0.74229470197605" height="5.700000000000003" fill="#e05a5c" stroke="none" stroke-width="0.8" fill-opacity="0.91"/>
<rect x="449.59999999999997" y="78.8" width="2.0000000000000115" height="5.700000000000003" fill="#fae0dc" stroke="none" stroke-width="0.8"/>
<rect x="450.2" y="78.8" width="0.8000000000000114" height="5.700000000000003" fill="#e05a5c" stroke="none" stroke-width="0.8"/>
<rect x="456.2" y="78.8" width="3.3000000000000114" height="5.700000000000003" fill="#f5bcb2" stroke="none" stroke-width="0.8"/>
<rect x="456.2" y="78.8" width="0.6795858701314812" height="5.700000000000003" fill="#e05a5c" stroke="none" stroke-width="0.8" fill-opacity="0.91"/>
<rect x="457.78939279358747" y="78.8" width="0.9815501294481492" height="5.700000000000003" fill="#e05a5c" stroke="none" stroke-width="0.8" fill-opacity="0.84"/>
<rect x="460.5" y="78.8" width="3.6999999999999886" height="5.700000000000003" fill="#f5bcb2" stroke="none" stroke-width="0.8"/>
<rect x="460.5" y="78.8" width="0.5241071538715739" height="5.700000000000003" fill="#e05a5c" stroke="none" stroke-width="0.8" fill-opacity="0.90"/>
<rect x="461.8323085226746" y="78.8" width="0.5441473398773364" height="5.700000000000003" fill="#e05a5c" stroke="none" stroke-width="0.8" fill-opacity="0.84"/>
<rect x="463.30522736291806" y="78.8" width="0.6158544380602861" height="5.700000000000003" fill="#e05a5c" stroke="none" stroke-width="0.8" fill-opacity="0.82"/>
<line x1="368.5" y1="85.3" x2="465.5" y2="85.3" stroke="#aaa" stroke-width="0.6"/>
<line x1="368.5" y1="100.5" x2="465.5" y2="100.5" stroke="#888" stroke-width="0.7"/>
<line x1="368.5" y1="85.3" x2="368.5" y2="100.5" stroke="#666" stroke-width="0.6"/>
<line x1="465.5" y1="85.3" x2="465.5" y2="100.5" stroke="#888" stroke-width="0.6"/>
<path d="M368.50,85.45 L369.31,85.68 L370.12,86.03 L370.93,86.35 L371.73,86.64 L372.54,86.91 L373.35,87.15 L374.16,87.38 L374.97,87.59 L375.77,87.78 L376.58,87.96 L377.39,88.13 L378.20,88.28 L379.01,88.43 L379.82,88.57 L380.62,88.70 L381.43,88.82 L382.24,88.94 L383.05,89.05 L383.86,89.15 L384.67,89.25 L385.48,89.35 L386.28,89.44 L387.09,89.53 L387.90,89.62 L388.71,89.70 L389.52,89.79 L390.32,89.86 L391.13,89.94 L391.94,90.02 L392.75,90.09 L393.56,90.16 L394.37,90.23 L395.18,90.30 L395.98,90.36 L396.79,90.43 L397.60,90.49 L398.41,90.55 L399.22,90.61 L400.02,90.67 L400.83,90.73 L401.64,90.79 L402.45,90.84 L403.26,90.90 L404.07,90.95 L404.88,91.01 L405.68,91.06 L406.49,91.11 L407.30,91.16 L408.11,91.20 L408.92,91.25 L409.73,91.29 L410.53,91.34 L411.34,91.38 L412.15,91.42 L412.96,91.46 L413.77,91.49 L414.57,91.52 L415.38,91.55 L416.19,91.58 L417.00,91.60 L417.81,91.60 L418.62,91.61 L419.43,91.62 L420.23,91.63 L421.04,91.64 L421.85,91.65 L422.66,91.66 L423.47,91.68 L424.27,91.69 L425.08,91.71 L425.89,91.73 L426.70,91.75 L427.51,91.76 L428.32,91.79 L429.12,91.81 L429.93,91.83 L430.74,91.85 L431.55,91.88 L432.36,91.90 L433.17,91.93 L433.98,91.96 L434.78,91.99 L435.59,92.02 L436.40,92.05 L437.21,92.08 L438.02,92.11 L438.82,92.15 L439.63,92.18 L440.44,92.22 L441.25,92.26 L442.06,92.31 L442.87,92.35 L443.68,92.40 L444.48,92.45 L445.29,92.51 L446.10,92.56 L446.91,92.63 L447.72,92.70 L448.52,92.77 L449.33,92.85 L450.14,92.94 L450.95,93.04 L451.76,93.14 L452.57,93.26 L453.38,93.39 L454.18,93.53 L454.99,93.68 L455.80,93.85 L456.61,94.04 L457.42,94.25 L458.23,94.48 L459.03,94.73 L459.84,95.01 L460.65,95.31 L461.46,95.65 L462.27,96.02 L463.07,96.42 L463.88,96.87 L464.69,97.36 L465.50,97.75 L465.5,91.6 L368.5,91.6 Z" fill="#17785a"/>
<line x1="368.5" y1="91.6" x2="465.5" y2="91.6" stroke="#1d3a30" stroke-width="0.5"/>
<text x="365.3" y="87.544" font-size="5.4" text-anchor="end" fill="#333" stroke="#333" stroke-width="0.12" style="">4</text>
<text x="365.3" y="93.244" font-size="5.4" text-anchor="end" fill="#333" stroke="#333" stroke-width="0.12" style="">0</text>
<text x="365.3" y="98.84400000000001" font-size="5.4" text-anchor="end" fill="#333" stroke="#333" stroke-width="0.12" style="">−4</text>
<text x="351.9" y="47.5" font-size="5.9" text-anchor="middle" fill="#333" stroke="#333" stroke-width="0.12" style="" transform="rotate(-90 351.9 47.5)">Enrichment Score</text>
<text x="352.4" y="91.0" font-size="5.9" text-anchor="middle" fill="#333" stroke="#333" stroke-width="0.12" style="" transform="rotate(-90 352.4 91.0)">t-score</text>
<text x="368.7" y="106.9" font-size="5.1" text-anchor="start" fill="#222" stroke="#222" stroke-width="0.12" style="">Up in <tspan font-style="italic">Sh2b3</tspan></text>
<text x="368.7" y="113.10000000000001" font-size="5.1" text-anchor="start" fill="#222" stroke="#222" stroke-width="0.12" style="">knockout</text>
<text x="466.2" y="106.9" font-size="5.1" text-anchor="end" fill="#222" stroke="#222" stroke-width="0.12" style="">Down in <tspan font-style="italic">Sh2b3</tspan></text>
<text x="466.2" y="113.10000000000001" font-size="5.1" text-anchor="end" fill="#222" stroke="#222" stroke-width="0.12" style="">knockout</text>
<text x="333.1" y="136.2" font-size="5.1" text-anchor="start" fill="#222" stroke="#222" stroke-width="0.12" style="">IFNA response</text>
<text x="373.0" y="136.2" font-size="5.1" text-anchor="start" fill="#222" stroke="#222" stroke-width="0.12" style=""><tspan font-style="italic">P</tspan> = 0.0135</text>
<line x1="322" y1="136.9" x2="322" y2="186.0" stroke="#666" stroke-width="0.6"/>
<text x="319.2" y="138.70000000000002" font-size="5.0" text-anchor="end" fill="#333" stroke="#333" stroke-width="0.12" style="">0.6</text>
<text x="319.2" y="144.9" font-size="5.0" text-anchor="end" fill="#333" stroke="#333" stroke-width="0.12" style="">0.5</text>
<text x="319.2" y="150.8" font-size="5.0" text-anchor="end" fill="#333" stroke="#333" stroke-width="0.12" style="">0.4</text>
<text x="319.2" y="156.8" font-size="5.0" text-anchor="end" fill="#333" stroke="#333" stroke-width="0.12" style="">0.3</text>
<text x="319.2" y="163.3" font-size="5.0" text-anchor="end" fill="#333" stroke="#333" stroke-width="0.12" style="">0.2</text>
<text x="319.2" y="169.3" font-size="5.0" text-anchor="end" fill="#333" stroke="#333" stroke-width="0.12" style="">0.1</text>
<text x="319.2" y="176.20000000000002" font-size="5.0" text-anchor="end" fill="#333" stroke="#333" stroke-width="0.12" style="">0</text>
<text x="319.2" y="182.4" font-size="5.0" text-anchor="end" fill="#333" stroke="#333" stroke-width="0.12" style="">−0.1</text>
<line x1="322" y1="175.4" x2="400.6" y2="175.4" stroke="#666" stroke-width="0.75"/>
<line x1="343.1" y1="148" x2="343.1" y2="175.4" stroke="#555" stroke-width="0.8" stroke-dasharray="3.4,2.6"/>
<polyline points="322.20,175.40 322.35,173.70 322.50,172.18 323.33,170.28 324.17,168.02 325.00,166.13 325.75,164.28 326.50,162.09 327.30,160.47 328.10,158.72 329.05,156.19 330.00,153.54 331.00,154.28 332.00,154.86 333.20,155.62 334.40,156.26 335.43,154.92 336.47,153.56 337.50,152.08 338.50,151.47 339.50,150.98 340.40,151.66 341.30,152.31 342.20,149.31 343.10,146.49 344.05,147.00 345.00,147.60 345.95,148.38 346.90,148.81 347.93,148.59 348.97,148.23 350.00,147.91 350.95,148.83 351.90,149.55 352.85,150.50 353.80,151.50 354.63,151.57 355.47,151.57 356.30,152.06 357.13,152.22 357.97,152.39 358.80,152.66 359.40,152.91 360.00,153.22 360.83,153.87 361.67,154.96 362.50,155.78 363.33,156.30 364.17,157.37 365.00,158.19 365.83,158.72 366.67,159.38 367.50,160.00 368.33,160.71 369.17,161.08 370.00,161.75 370.83,162.10 371.67,162.85 372.50,163.40 373.33,163.76 374.17,164.35 375.00,165.03 375.83,165.49 376.67,165.93 377.50,166.37 378.33,166.95 379.17,167.64 380.00,167.97 380.65,168.61 381.30,168.71 382.16,169.59 383.02,169.97 383.88,170.85 384.75,171.37 385.61,171.92 386.47,172.55 387.33,173.22 388.19,173.82 389.05,174.33 389.92,174.91 390.78,175.66 391.64,176.45 392.50,176.95 393.15,172.98 393.80,169.40 394.65,170.12 395.50,170.85 396.35,171.57 397.20,172.30 398.05,173.03 398.90,173.75 399.75,174.47 400.60,175.20" fill="none" stroke="#262a72" stroke-width="1.15" stroke-linejoin="round"/>
<rect x="322.0" y="182.6" width="1.9999999999999545" height="4.300000000000011" fill="#fae0dc" stroke="none" stroke-width="0.8"/>
<rect x="322.6" y="182.6" width="0.7999999999999545" height="4.300000000000011" fill="#c24c44" stroke="none" stroke-width="0.8"/>
<rect x="323.79999999999995" y="182.6" width="2.0000000000000115" height="4.300000000000011" fill="#fae0dc" stroke="none" stroke-width="0.8"/>
<rect x="324.4" y="182.6" width="0.8000000000000114" height="4.300000000000011" fill="#c24c44" stroke="none" stroke-width="0.8"/>
<rect x="325.59999999999997" y="182.6" width="2.0000000000000115" height="4.300000000000011" fill="#fae0dc" stroke="none" stroke-width="0.8"/>
<rect x="326.2" y="182.6" width="0.8000000000000114" height="4.300000000000011" fill="#c24c44" stroke="none" stroke-width="0.8"/>
<rect x="328.2" y="182.6" width="2.0000000000000115" height="4.300000000000011" fill="#fae0dc" stroke="none" stroke-width="0.8"/>
<rect x="328.8" y="182.6" width="0.8000000000000114" height="4.300000000000011" fill="#c24c44" stroke="none" stroke-width="0.8"/>
<rect x="333.7" y="182.6" width="2.0000000000000115" height="4.300000000000011" fill="#fae0dc" stroke="none" stroke-width="0.8"/>
<rect x="334.3" y="182.6" width="0.8000000000000114" height="4.300000000000011" fill="#c24c44" stroke="none" stroke-width="0.8"/>
<rect x="335.59999999999997" y="182.6" width="2.0000000000000115" height="4.300000000000011" fill="#fae0dc" stroke="none" stroke-width="0.8"/>
<rect x="336.2" y="182.6" width="0.8000000000000114" height="4.300000000000011" fill="#c24c44" stroke="none" stroke-width="0.8"/>
<rect x="338.2" y="182.6" width="2.0000000000000115" height="4.300000000000011" fill="#fae0dc" stroke="none" stroke-width="0.8"/>
<rect x="338.8" y="182.6" width="0.8000000000000114" height="4.300000000000011" fill="#c24c44" stroke="none" stroke-width="0.8"/>
<rect x="340.2" y="182.6" width="2.0000000000000115" height="4.300000000000011" fill="#fae0dc" stroke="none" stroke-width="0.8"/>
<rect x="340.8" y="182.6" width="0.8000000000000114" height="4.300000000000011" fill="#c24c44" stroke="none" stroke-width="0.8"/>
<rect x="342.2" y="182.6" width="2.0000000000000115" height="4.300000000000011" fill="#fae0dc" stroke="none" stroke-width="0.8"/>
<rect x="342.8" y="182.6" width="0.8000000000000114" height="4.300000000000011" fill="#c24c44" stroke="none" stroke-width="0.8"/>
<rect x="348.2" y="182.6" width="2.0000000000000115" height="4.300000000000011" fill="#fae0dc" stroke="none" stroke-width="0.8"/>
<rect x="348.8" y="182.6" width="0.8000000000000114" height="4.300000000000011" fill="#c24c44" stroke="none" stroke-width="0.8"/>
<rect x="353.5" y="182.6" width="1.9999999999999545" height="4.300000000000011" fill="#fae0dc" stroke="none" stroke-width="0.8"/>
<rect x="354.1" y="182.6" width="0.7999999999999545" height="4.300000000000011" fill="#c24c44" stroke="none" stroke-width="0.8"/>
<rect x="355.59999999999997" y="182.6" width="2.0000000000000115" height="4.300000000000011" fill="#fae0dc" stroke="none" stroke-width="0.8"/>
<rect x="356.2" y="182.6" width="0.8000000000000114" height="4.300000000000011" fill="#c24c44" stroke="none" stroke-width="0.8"/>
<rect x="357.4" y="182.6" width="2.0000000000000115" height="4.300000000000011" fill="#fae0dc" stroke="none" stroke-width="0.8"/>
<rect x="358" y="182.6" width="0.8000000000000114" height="4.300000000000011" fill="#c24c44" stroke="none" stroke-width="0.8"/>
<rect x="361.7" y="182.6" width="1.8999999999999886" height="4.300000000000011" fill="#fae0dc" stroke="none" stroke-width="0.8"/>
<rect x="362.3" y="182.6" width="0.6999999999999886" height="4.300000000000011" fill="#c24c44" stroke="none" stroke-width="0.8"/>
<rect x="379.4" y="182.6" width="1.8999999999999886" height="4.300000000000011" fill="#fae0dc" stroke="none" stroke-width="0.8"/>
<rect x="380" y="182.6" width="0.6999999999999886" height="4.300000000000011" fill="#c24c44" stroke="none" stroke-width="0.8"/>
<rect x="391.7" y="182.6" width="2.0000000000000115" height="4.300000000000011" fill="#fae0dc" stroke="none" stroke-width="0.8"/>
<rect x="392.3" y="182.6" width="0.8000000000000114" height="4.300000000000011" fill="#c24c44" stroke="none" stroke-width="0.8"/>
<line x1="322" y1="187.5" x2="400.6" y2="187.5" stroke="#aaa" stroke-width="0.6"/>
<line x1="322" y1="200.3" x2="400.6" y2="200.3" stroke="#888" stroke-width="0.7"/>
<line x1="322" y1="187.5" x2="322" y2="200.3" stroke="#666" stroke-width="0.6"/>
<line x1="400.6" y1="187.5" x2="400.6" y2="200.3" stroke="#888" stroke-width="0.6"/>
<path d="M322.00,187.62 L322.65,187.82 L323.31,188.11 L323.96,188.38 L324.62,188.63 L325.27,188.85 L325.93,189.06 L326.58,189.25 L327.24,189.42 L327.89,189.59 L328.55,189.74 L329.20,189.88 L329.86,190.01 L330.51,190.13 L331.17,190.25 L331.82,190.36 L332.48,190.46 L333.13,190.56 L333.79,190.65 L334.44,190.74 L335.10,190.83 L335.75,190.91 L336.41,190.99 L337.06,191.06 L337.72,191.13 L338.38,191.21 L339.03,191.27 L339.69,191.34 L340.34,191.40 L341.00,191.47 L341.65,191.53 L342.31,191.59 L342.96,191.65 L343.62,191.70 L344.27,191.76 L344.93,191.81 L345.58,191.87 L346.24,191.92 L346.89,191.97 L347.55,192.02 L348.20,192.07 L348.86,192.12 L349.51,192.16 L350.17,192.21 L350.82,192.26 L351.48,192.30 L352.13,192.34 L352.79,192.39 L353.44,192.43 L354.10,192.47 L354.75,192.51 L355.41,192.54 L356.06,192.58 L356.72,192.61 L357.37,192.65 L358.02,192.68 L358.68,192.71 L359.34,192.74 L359.99,192.76 L360.64,192.78 L361.30,192.80 L361.96,192.80 L362.61,192.81 L363.26,192.81 L363.92,192.82 L364.57,192.83 L365.23,192.84 L365.88,192.85 L366.54,192.86 L367.19,192.88 L367.85,192.89 L368.50,192.91 L369.16,192.92 L369.81,192.94 L370.47,192.96 L371.12,192.97 L371.78,192.99 L372.44,193.01 L373.09,193.03 L373.75,193.06 L374.40,193.08 L375.06,193.10 L375.71,193.13 L376.37,193.15 L377.02,193.18 L377.68,193.20 L378.33,193.23 L378.99,193.26 L379.64,193.29 L380.30,193.32 L380.95,193.36 L381.61,193.39 L382.26,193.43 L382.92,193.47 L383.57,193.52 L384.23,193.56 L384.88,193.61 L385.54,193.66 L386.19,193.72 L386.85,193.79 L387.50,193.85 L388.16,193.93 L388.81,194.01 L389.47,194.10 L390.12,194.20 L390.78,194.30 L391.43,194.42 L392.09,194.55 L392.74,194.70 L393.40,194.85 L394.05,195.03 L394.71,195.22 L395.36,195.43 L396.01,195.67 L396.67,195.92 L397.33,196.21 L397.98,196.52 L398.63,196.86 L399.29,197.23 L399.95,197.65 L400.60,197.98 L400.6,192.8 L322,192.8 Z" fill="#17785a"/>
<line x1="322" y1="192.8" x2="400.6" y2="192.8" stroke="#1d3a30" stroke-width="0.5"/>
<text x="319.2" y="189.10000000000002" font-size="5.0" text-anchor="end" fill="#333" stroke="#333" stroke-width="0.12" style="">4</text>
<text x="319.2" y="194.60000000000002" font-size="5.0" text-anchor="end" fill="#333" stroke="#333" stroke-width="0.12" style="">0</text>
<text x="319.2" y="199.9" font-size="5.0" text-anchor="end" fill="#333" stroke="#333" stroke-width="0.12" style="">−4</text>
<text x="309.0" y="155.5" font-size="5.3" text-anchor="middle" fill="#333" stroke="#333" stroke-width="0.12" style="" transform="rotate(-90 309.0 155.5)">Enrichment Score</text>
<text x="309.6" y="193.9" font-size="5.3" text-anchor="middle" fill="#333" stroke="#333" stroke-width="0.12" style="" transform="rotate(-90 309.6 193.9)">t-score</text>
<text x="324.4" y="209.4" font-size="5.1" text-anchor="start" fill="#222" stroke="#222" stroke-width="0.12" style="">Up in <tspan font-style="italic">Sh2b3</tspan></text>
<text x="324.4" y="215.6" font-size="5.1" text-anchor="start" fill="#222" stroke="#222" stroke-width="0.12" style="">knockout</text>
<text x="404.2" y="209.4" font-size="5.1" text-anchor="end" fill="#222" stroke="#222" stroke-width="0.12" style="">Down in <tspan font-style="italic">Sh2b3</tspan></text>
<text x="404.2" y="215.6" font-size="5.1" text-anchor="end" fill="#222" stroke="#222" stroke-width="0.12" style="">knockout</text>
<text x="433.7" y="138.1" font-size="5.1" text-anchor="start" fill="#222" stroke="#222" stroke-width="0.12" style="">IGA production network</text>
<text x="494.7" y="138.1" font-size="5.1" text-anchor="start" fill="#222" stroke="#222" stroke-width="0.12" style=""><tspan font-style="italic">P</tspan> = 0.001,</text>
<line x1="432" y1="137.5" x2="432" y2="186.3" stroke="#666" stroke-width="0.6"/>
<text x="429.2" y="138.70000000000002" font-size="5.0" text-anchor="end" fill="#333" stroke="#333" stroke-width="0.12" style="">0.6</text>
<text x="429.2" y="145.3" font-size="5.0" text-anchor="end" fill="#333" stroke="#333" stroke-width="0.12" style="">0.5</text>
<text x="429.2" y="151.8" font-size="5.0" text-anchor="end" fill="#333" stroke="#333" stroke-width="0.12" style="">0.4</text>
<text x="429.2" y="157.4" font-size="5.0" text-anchor="end" fill="#333" stroke="#333" stroke-width="0.12" style="">0.3</text>
<text x="429.2" y="163.70000000000002" font-size="5.0" text-anchor="end" fill="#333" stroke="#333" stroke-width="0.12" style="">0.2</text>
<text x="429.2" y="170.10000000000002" font-size="5.0" text-anchor="end" fill="#333" stroke="#333" stroke-width="0.12" style="">0.1</text>
<text x="429.2" y="176.5" font-size="5.0" text-anchor="end" fill="#333" stroke="#333" stroke-width="0.12" style="">0</text>
<text x="429.2" y="182.8" font-size="5.0" text-anchor="end" fill="#333" stroke="#333" stroke-width="0.12" style="">−0.1</text>
<line x1="432" y1="175.6" x2="510" y2="175.6" stroke="#666" stroke-width="0.75"/>
<line x1="448.8" y1="148" x2="448.8" y2="175.6" stroke="#555" stroke-width="0.8" stroke-dasharray="3.4,2.6"/>
<polyline points="432.20,175.40 432.40,173.70 432.60,171.74 433.50,169.79 434.40,167.37 435.35,164.80 436.30,162.03 437.33,161.03 438.37,160.55 439.40,160.94 440.35,157.86 441.30,155.33 442.13,155.06 442.97,153.50 443.80,152.84 444.63,151.64 445.47,150.97 446.30,149.65 447.13,148.97 447.97,148.03 448.80,146.52 449.73,146.99 450.65,147.17 451.57,146.81 452.50,147.76 453.45,147.67 454.40,147.45 455.35,147.26 456.30,148.17 457.23,148.17 458.15,148.82 459.07,149.38 460.00,149.61 460.83,150.38 461.67,150.41 462.50,151.37 463.33,151.57 464.17,152.61 465.00,153.11 465.83,152.89 466.67,153.48 467.50,154.12 468.40,155.75 469.30,156.11 470.20,157.18 471.10,157.74 472.00,158.84 472.90,159.60 473.80,160.45 474.73,160.86 475.65,161.03 476.57,161.53 477.50,161.48 478.45,162.18 479.40,162.56 480.35,163.14 481.30,163.27 482.23,163.30 483.17,164.53 484.10,165.16 485.03,165.64 485.97,165.84 486.90,166.51 487.50,165.66 488.10,165.93 488.98,166.35 489.86,166.74 490.74,167.20 491.62,168.67 492.50,169.49 493.45,168.36 494.40,168.85 495.35,168.24 496.30,167.75 497.17,168.52 498.04,169.63 498.91,170.36 499.78,170.16 500.65,171.36 501.52,171.42 502.39,172.73 503.26,172.97 504.13,174.15 505.00,174.88 505.95,173.76 506.90,173.10 507.93,173.93 508.97,174.77 510.00,175.60" fill="none" stroke="#262a72" stroke-width="1.15" stroke-linejoin="round"/>
<rect x="432.6" y="183.1" width="19.19999999999999" height="3.8000000000000114" fill="#f5bcb2" stroke="none" stroke-width="0.8"/>
<rect x="432.6" y="183.1" width="0.7600872243872245" height="3.8000000000000114" fill="#cc5a54" stroke="none" stroke-width="0.8" fill-opacity="0.85"/>
<rect x="433.6811133798302" y="183.1" width="0.9468542844951628" height="3.8000000000000114" fill="#cc5a54" stroke="none" stroke-width="0.8" fill-opacity="1.00"/>
<rect x="435.14512622076376" y="183.1" width="0.7395244006760455" height="3.8000000000000114" fill="#cc5a54" stroke="none" stroke-width="0.8" fill-opacity="0.85"/>
<rect x="436.7396659820874" y="183.1" width="0.5064669458119389" height="3.8000000000000114" fill="#cc5a54" stroke="none" stroke-width="0.8" fill-opacity="0.76"/>
<rect x="437.59586252657255" y="183.1" width="0.9806454021797428" height="3.8000000000000114" fill="#cc5a54" stroke="none" stroke-width="0.8" fill-opacity="0.83"/>
<rect x="439.01977567396716" y="183.1" width="0.47864089110767205" height="3.8000000000000114" fill="#cc5a54" stroke="none" stroke-width="0.8" fill-opacity="0.82"/>
<rect x="440.4958297309081" y="183.1" width="0.6080129584337215" height="3.8000000000000114" fill="#cc5a54" stroke="none" stroke-width="0.8" fill-opacity="0.92"/>
<rect x="441.48313792475045" y="183.1" width="0.6534383716924651" height="3.8000000000000114" fill="#cc5a54" stroke="none" stroke-width="0.8" fill-opacity="0.84"/>
<rect x="442.6049302895863" y="183.1" width="0.6388953401683375" height="3.8000000000000114" fill="#cc5a54" stroke="none" stroke-width="0.8" fill-opacity="0.76"/>
<rect x="444.06998587923647" y="183.1" width="0.7072752689640891" height="3.8000000000000114" fill="#cc5a54" stroke="none" stroke-width="0.8" fill-opacity="0.79"/>
<rect x="445.45030147433084" y="183.1" width="0.8590856908198783" height="3.8000000000000114" fill="#cc5a54" stroke="none" stroke-width="0.8" fill-opacity="0.92"/>
<rect x="447.1691995406981" y="183.1" width="0.620970525123028" height="3.8000000000000114" fill="#cc5a54" stroke="none" stroke-width="0.8" fill-opacity="0.86"/>
<rect x="448.7797354140154" y="183.1" width="0.9133513520024502" height="3.8000000000000114" fill="#cc5a54" stroke="none" stroke-width="0.8" fill-opacity="0.95"/>
<rect x="450.5378591697721" y="183.1" width="0.9465373222616007" height="3.8000000000000114" fill="#cc5a54" stroke="none" stroke-width="0.8" fill-opacity="0.88"/>
<rect x="452.79999999999995" y="183.1" width="2.0000000000000115" height="3.8000000000000114" fill="#fae0dc" stroke="none" stroke-width="0.8"/>
<rect x="453.4" y="183.1" width="0.8000000000000114" height="3.8000000000000114" fill="#cc5a54" stroke="none" stroke-width="0.8"/>
<rect x="455.59999999999997" y="183.1" width="2.0000000000000115" height="3.8000000000000114" fill="#fae0dc" stroke="none" stroke-width="0.8"/>
<rect x="456.2" y="183.1" width="0.8000000000000114" height="3.8000000000000114" fill="#cc5a54" stroke="none" stroke-width="0.8"/>
<rect x="458.0" y="183.1" width="1.9999999999999545" height="3.8000000000000114" fill="#fae0dc" stroke="none" stroke-width="0.8"/>
<rect x="458.6" y="183.1" width="0.7999999999999545" height="3.8000000000000114" fill="#cc5a54" stroke="none" stroke-width="0.8"/>
<rect x="469.2" y="183.1" width="2.399999999999989" height="3.8000000000000114" fill="#fae0dc" stroke="none" stroke-width="0.8"/>
<rect x="469.8" y="183.1" width="1.1999999999999886" height="3.8000000000000114" fill="#cc5a54" stroke="none" stroke-width="0.8"/>
<rect x="475.4" y="183.1" width="3.0" height="3.8000000000000114" fill="#f5bcb2" stroke="none" stroke-width="0.8"/>
<rect x="475.4" y="183.1" width="0.9367778061266838" height="3.8000000000000114" fill="#cc5a54" stroke="none" stroke-width="0.8" fill-opacity="0.79"/>
<rect x="476.94795849971206" y="183.1" width="0.9168821444839749" height="3.8000000000000114" fill="#cc5a54" stroke="none" stroke-width="0.8" fill-opacity="0.86"/>
<rect x="485.29999999999995" y="183.1" width="2.4000000000000457" height="3.8000000000000114" fill="#fae0dc" stroke="none" stroke-width="0.8"/>
<rect x="485.9" y="183.1" width="1.2000000000000455" height="3.8000000000000114" fill="#cc5a54" stroke="none" stroke-width="0.8"/>
<rect x="491.2" y="183.1" width="2.6000000000000227" height="3.8000000000000114" fill="#f5bcb2" stroke="none" stroke-width="0.8"/>
<rect x="491.2" y="183.1" width="0.7413670009764897" height="3.8000000000000114" fill="#cc5a54" stroke="none" stroke-width="0.8" fill-opacity="0.88"/>
<rect x="492.5843002150942" y="183.1" width="0.6073222952741721" height="3.8000000000000114" fill="#cc5a54" stroke="none" stroke-width="0.8" fill-opacity="0.92"/>
<rect x="504.59999999999997" y="183.1" width="2.2" height="3.8000000000000114" fill="#fae0dc" stroke="none" stroke-width="0.8"/>
<rect x="505.2" y="183.1" width="1.0" height="3.8000000000000114" fill="#cc5a54" stroke="none" stroke-width="0.8"/>
<line x1="432" y1="187.8" x2="510" y2="187.8" stroke="#aaa" stroke-width="0.6"/>
<line x1="432" y1="200.6" x2="510" y2="200.6" stroke="#888" stroke-width="0.7"/>
<line x1="432" y1="187.8" x2="432" y2="200.6" stroke="#666" stroke-width="0.6"/>
<line x1="510" y1="187.8" x2="510" y2="200.6" stroke="#888" stroke-width="0.6"/>
<path d="M432.00,187.92 L432.65,188.12 L433.30,188.41 L433.95,188.68 L434.60,188.93 L435.25,189.15 L435.90,189.36 L436.55,189.55 L437.20,189.72 L437.85,189.89 L438.50,190.04 L439.15,190.18 L439.80,190.31 L440.45,190.43 L441.10,190.55 L441.75,190.66 L442.40,190.76 L443.05,190.86 L443.70,190.95 L444.35,191.04 L445.00,191.13 L445.65,191.21 L446.30,191.29 L446.95,191.36 L447.60,191.43 L448.25,191.51 L448.90,191.57 L449.55,191.64 L450.20,191.70 L450.85,191.77 L451.50,191.83 L452.15,191.89 L452.80,191.95 L453.45,192.00 L454.10,192.06 L454.75,192.11 L455.40,192.17 L456.05,192.22 L456.70,192.27 L457.35,192.32 L458.00,192.37 L458.65,192.42 L459.30,192.46 L459.95,192.51 L460.60,192.56 L461.25,192.60 L461.90,192.64 L462.55,192.69 L463.20,192.73 L463.85,192.77 L464.50,192.81 L465.15,192.84 L465.80,192.88 L466.45,192.91 L467.10,192.95 L467.75,192.98 L468.40,193.01 L469.05,193.04 L469.70,193.06 L470.35,193.08 L471.00,193.10 L471.65,193.10 L472.30,193.11 L472.95,193.11 L473.60,193.12 L474.25,193.13 L474.90,193.14 L475.55,193.15 L476.20,193.16 L476.85,193.18 L477.50,193.19 L478.15,193.21 L478.80,193.22 L479.45,193.24 L480.10,193.26 L480.75,193.27 L481.40,193.29 L482.05,193.31 L482.70,193.33 L483.35,193.36 L484.00,193.38 L484.65,193.40 L485.30,193.43 L485.95,193.45 L486.60,193.48 L487.25,193.50 L487.90,193.53 L488.55,193.56 L489.20,193.59 L489.85,193.62 L490.50,193.66 L491.15,193.69 L491.80,193.73 L492.45,193.77 L493.10,193.82 L493.75,193.86 L494.40,193.91 L495.05,193.96 L495.70,194.02 L496.35,194.09 L497.00,194.15 L497.65,194.23 L498.30,194.31 L498.95,194.40 L499.60,194.50 L500.25,194.60 L500.90,194.72 L501.55,194.85 L502.20,195.00 L502.85,195.15 L503.50,195.33 L504.15,195.52 L504.80,195.73 L505.45,195.97 L506.10,196.22 L506.75,196.51 L507.40,196.82 L508.05,197.16 L508.70,197.53 L509.35,197.95 L510.00,198.28 L510,193.1 L432,193.1 Z" fill="#17785a"/>
<line x1="432" y1="193.1" x2="510" y2="193.1" stroke="#1d3a30" stroke-width="0.5"/>
<text x="429.2" y="189.3" font-size="5.0" text-anchor="end" fill="#333" stroke="#333" stroke-width="0.12" style="">4</text>
<text x="429.2" y="194.9" font-size="5.0" text-anchor="end" fill="#333" stroke="#333" stroke-width="0.12" style="">0</text>
<text x="429.2" y="199.60000000000002" font-size="5.0" text-anchor="end" fill="#333" stroke="#333" stroke-width="0.12" style="">−4</text>
<text x="419.3" y="155.5" font-size="5.3" text-anchor="middle" fill="#333" stroke="#333" stroke-width="0.12" style="" transform="rotate(-90 419.3 155.5)">Enrichment Score</text>
<text x="419.6" y="194.2" font-size="5.3" text-anchor="middle" fill="#333" stroke="#333" stroke-width="0.12" style="" transform="rotate(-90 419.6 194.2)">t-score</text>
<text x="434.0" y="209.7" font-size="5.1" text-anchor="start" fill="#222" stroke="#222" stroke-width="0.12" style="">Up in <tspan font-style="italic">Sh2b3</tspan></text>
<text x="434.0" y="215.89999999999998" font-size="5.1" text-anchor="start" fill="#222" stroke="#222" stroke-width="0.12" style="">knockout</text>
<text x="513.2" y="209.7" font-size="5.1" text-anchor="end" fill="#222" stroke="#222" stroke-width="0.12" style="">Down in <tspan font-style="italic">Sh2b3</tspan></text>
<text x="513.2" y="215.89999999999998" font-size="5.1" text-anchor="end" fill="#222" stroke="#222" stroke-width="0.12" style="">knockout</text>
<text x="332.2" y="240" font-size="5.1" text-anchor="start" fill="#222" stroke="#222" stroke-width="0.12" style="">HSC signature up</text>
<text x="374.3" y="240" font-size="5.1" text-anchor="start" fill="#222" stroke="#222" stroke-width="0.12" style=""><tspan font-style="italic">P</tspan> = 0.0043</text>
<line x1="322.5" y1="245.6" x2="322.5" y2="294.8" stroke="#666" stroke-width="0.6"/>
<text x="319.3" y="247.4" font-size="5.0" text-anchor="end" fill="#333" stroke="#333" stroke-width="0.12" style="">0.3</text>
<text x="319.3" y="257.0" font-size="5.0" text-anchor="end" fill="#333" stroke="#333" stroke-width="0.12" style="">0.2</text>
<text x="319.3" y="266.8" font-size="5.0" text-anchor="end" fill="#333" stroke="#333" stroke-width="0.12" style="">0.1</text>
<text x="319.3" y="276.8" font-size="5.0" text-anchor="end" fill="#333" stroke="#333" stroke-width="0.12" style="">0</text>
<text x="319.3" y="286.8" font-size="5.0" text-anchor="end" fill="#333" stroke="#333" stroke-width="0.12" style="">−0.1</text>
<line x1="322.5" y1="275.6" x2="402.5" y2="275.6" stroke="#666" stroke-width="0.75"/>
<line x1="338.8" y1="249" x2="338.8" y2="275.6" stroke="#555" stroke-width="0.8" stroke-dasharray="3.4,2.6"/>
<polyline points="322.60,275.40 322.70,272.20 322.80,268.76 322.95,267.29 323.10,266.21 324.17,264.52 325.23,262.98 326.30,261.81 327.33,258.94 328.37,255.50 329.40,252.14 330.00,250.70 330.60,250.03 331.55,250.30 332.50,250.71 333.45,249.65 334.40,248.74 335.28,249.34 336.16,249.22 337.04,249.16 337.92,249.11 338.80,248.52 339.73,248.88 340.65,249.41 341.57,249.76 342.50,250.12 343.45,249.74 344.40,248.63 345.20,249.51 346.00,249.98 346.80,250.25 347.60,250.37 348.40,251.05 349.20,251.12 350.00,252.29 350.83,252.85 351.67,253.18 352.50,253.57 353.33,254.73 354.17,255.05 355.00,255.94 355.80,256.77 356.60,257.32 357.40,258.09 358.20,259.11 359.00,259.81 359.80,260.42 360.60,261.41 361.40,262.72 362.20,262.88 363.00,263.74 363.80,265.11 364.67,265.80 365.54,267.03 366.41,267.97 367.28,268.86 368.15,270.45 369.02,270.73 369.89,271.92 370.76,272.73 371.63,274.12 372.50,274.80 373.33,275.43 374.17,276.33 375.00,276.51 375.83,277.27 376.67,278.14 377.50,277.97 378.33,278.49 379.17,279.20 380.00,280.24 380.90,280.55 381.80,280.65 382.70,281.18 383.60,281.48 384.50,282.18 385.40,282.25 386.30,283.28 387.19,283.64 388.07,283.88 388.96,283.87 389.84,284.26 390.73,283.59 391.61,284.02 392.50,284.82 393.30,284.82 394.10,284.66 394.90,285.31 395.70,285.19 396.50,285.54 397.30,285.24 398.10,285.32 399.05,284.65 400.00,283.80 400.83,281.07 401.67,278.33 402.50,275.60" fill="none" stroke="#262a72" stroke-width="1.15" stroke-linejoin="round"/>
<rect x="322.8" y="291.3" width="79.5" height="4.300000000000011" fill="#f5bcb2" stroke="none" stroke-width="0.8"/>
<rect x="322.8" y="291.3" width="0.8243939306169967" height="4.300000000000011" fill="#e05a5c" stroke="none" stroke-width="0.8" fill-opacity="0.96"/>
<rect x="324.4691619682039" y="291.3" width="0.8001391850679933" height="4.300000000000011" fill="#e05a5c" stroke="none" stroke-width="0.8" fill-opacity="0.96"/>
<rect x="326.1970400730541" y="291.3" width="0.5004232297583351" height="4.300000000000011" fill="#e05a5c" stroke="none" stroke-width="0.8" fill-opacity="0.94"/>
<rect x="327.26034410256466" y="291.3" width="0.6253148303197207" height="4.300000000000011" fill="#e05a5c" stroke="none" stroke-width="0.8" fill-opacity="0.83"/>
<rect x="328.7979925289548" y="291.3" width="0.7807251384563766" height="4.300000000000011" fill="#e05a5c" stroke="none" stroke-width="0.8" fill-opacity="0.81"/>
<rect x="330.45198678233584" y="291.3" width="0.6191445438700487" height="4.300000000000011" fill="#e05a5c" stroke="none" stroke-width="0.8" fill-opacity="0.94"/>
<rect x="331.4939964465223" y="291.3" width="0.9483297961558981" height="4.300000000000011" fill="#e05a5c" stroke="none" stroke-width="0.8" fill-opacity="0.88"/>
<rect x="332.81910674583395" y="291.3" width="0.5386218006641103" height="4.300000000000011" fill="#e05a5c" stroke="none" stroke-width="0.8" fill-opacity="0.94"/>
<rect x="334.1568098873395" y="291.3" width="0.9987963760295211" height="4.300000000000011" fill="#e05a5c" stroke="none" stroke-width="0.8" fill-opacity="0.99"/>
<rect x="335.53554967009524" y="291.3" width="0.5595413516977596" height="4.300000000000011" fill="#e05a5c" stroke="none" stroke-width="0.8" fill-opacity="0.81"/>
<rect x="336.60496045544403" y="291.3" width="0.5909709853897909" height="4.300000000000011" fill="#e05a5c" stroke="none" stroke-width="0.8" fill-opacity="0.89"/>
<rect x="337.65335760131427" y="291.3" width="0.49791249428151085" height="4.300000000000011" fill="#e05a5c" stroke="none" stroke-width="0.8" fill-opacity="0.92"/>
<rect x="339.0273579879248" y="291.3" width="0.7206012509023172" height="4.300000000000011" fill="#e05a5c" stroke="none" stroke-width="0.8" fill-opacity="0.84"/>
<rect x="340.3201925258676" y="291.3" width="0.5067992915299758" height="4.300000000000011" fill="#e05a5c" stroke="none" stroke-width="0.8" fill-opacity="0.94"/>
<rect x="341.23009837753125" y="291.3" width="0.5581308326888166" height="4.300000000000011" fill="#e05a5c" stroke="none" stroke-width="0.8" fill-opacity="0.90"/>
<rect x="342.18771619448324" y="291.3" width="0.9048191017387315" height="4.300000000000011" fill="#e05a5c" stroke="none" stroke-width="0.8" fill-opacity="0.92"/>
<rect x="344.08863980061983" y="291.3" width="0.5041826882806671" height="4.300000000000011" fill="#e05a5c" stroke="none" stroke-width="0.8" fill-opacity="0.97"/>
<rect x="345.1149822047151" y="291.3" width="0.9747655810953093" height="4.300000000000011" fill="#e05a5c" stroke="none" stroke-width="0.8" fill-opacity="0.89"/>
<rect x="346.9251123430107" y="291.3" width="0.6187157509509744" height="4.300000000000011" fill="#e05a5c" stroke="none" stroke-width="0.8" fill-opacity="0.87"/>
<rect x="348.4380427768452" y="291.3" width="0.9083171973817804" height="4.300000000000011" fill="#e05a5c" stroke="none" stroke-width="0.8" fill-opacity="0.95"/>
<rect x="349.7939759190692" y="291.3" width="0.7007204764048878" height="4.300000000000011" fill="#e05a5c" stroke="none" stroke-width="0.8" fill-opacity="0.88"/>
<rect x="350.9820308183899" y="291.3" width="0.8980568752432609" height="4.300000000000011" fill="#e05a5c" stroke="none" stroke-width="0.8" fill-opacity="0.93"/>
<rect x="352.5793056988692" y="291.3" width="0.7656418919554522" height="4.300000000000011" fill="#e05a5c" stroke="none" stroke-width="0.8" fill-opacity="0.87"/>
<rect x="354.2019568564961" y="291.3" width="0.649507980611172" height="4.300000000000011" fill="#e05a5c" stroke="none" stroke-width="0.8" fill-opacity="0.97"/>
<rect x="355.6983996581957" y="291.3" width="0.6401634610959679" height="4.300000000000011" fill="#e05a5c" stroke="none" stroke-width="0.8" fill-opacity="0.98"/>
<rect x="357.24991614636383" y="291.3" width="0.5058753938988241" height="4.300000000000011" fill="#e05a5c" stroke="none" stroke-width="0.8" fill-opacity="0.86"/>
<rect x="358.03877855325146" y="291.3" width="0.9982311784245266" height="4.300000000000011" fill="#e05a5c" stroke="none" stroke-width="0.8" fill-opacity="0.76"/>
<rect x="359.71217012963564" y="291.3" width="0.5504813774072856" height="4.300000000000011" fill="#e05a5c" stroke="none" stroke-width="0.8" fill-opacity="0.92"/>
<rect x="360.63999128642394" y="291.3" width="0.7257594736119751" height="4.300000000000011" fill="#e05a5c" stroke="none" stroke-width="0.8" fill-opacity="0.82"/>
<rect x="361.6219909929647" y="291.3" width="0.8386621954641336" height="4.300000000000011" fill="#e05a5c" stroke="none" stroke-width="0.8" fill-opacity="0.89"/>
<rect x="362.8770256695962" y="291.3" width="0.6205625135569186" height="4.300000000000011" fill="#e05a5c" stroke="none" stroke-width="0.8" fill-opacity="0.98"/>
<rect x="364.3822708836382" y="291.3" width="0.9538576937697358" height="4.300000000000011" fill="#e05a5c" stroke="none" stroke-width="0.8" fill-opacity="0.77"/>
<rect x="365.8954173768705" y="291.3" width="0.5992897854106022" height="4.300000000000011" fill="#e05a5c" stroke="none" stroke-width="0.8" fill-opacity="0.84"/>
<rect x="366.8922084187034" y="291.3" width="0.6181935763388864" height="4.300000000000011" fill="#e05a5c" stroke="none" stroke-width="0.8" fill-opacity="0.90"/>
<rect x="368.4831530822122" y="291.3" width="0.8688282977498136" height="4.300000000000011" fill="#e05a5c" stroke="none" stroke-width="0.8" fill-opacity="0.81"/>
<rect x="370.1151394426153" y="291.3" width="0.5788420308137763" height="4.300000000000011" fill="#e05a5c" stroke="none" stroke-width="0.8" fill-opacity="0.93"/>
<rect x="371.2336744636258" y="291.3" width="0.4885329666922639" height="4.300000000000011" fill="#e05a5c" stroke="none" stroke-width="0.8" fill-opacity="0.90"/>
<rect x="372.3734483077184" y="291.3" width="0.7935306310153591" height="4.300000000000011" fill="#e05a5c" stroke="none" stroke-width="0.8" fill-opacity="0.89"/>
<rect x="373.76378720863596" y="291.3" width="0.9016929484193802" height="4.300000000000011" fill="#e05a5c" stroke="none" stroke-width="0.8" fill-opacity="0.97"/>
<rect x="375.2388198527549" y="291.3" width="0.623912598926313" height="4.300000000000011" fill="#e05a5c" stroke="none" stroke-width="0.8" fill-opacity="0.98"/>
<rect x="376.3448981450118" y="291.3" width="0.47295071528831484" height="4.300000000000011" fill="#e05a5c" stroke="none" stroke-width="0.8" fill-opacity="0.87"/>
<rect x="377.62629077402636" y="291.3" width="0.542855290419242" height="4.300000000000011" fill="#e05a5c" stroke="none" stroke-width="0.8" fill-opacity="0.87"/>
<rect x="378.7475178180728" y="291.3" width="0.8997794302381139" height="4.300000000000011" fill="#e05a5c" stroke="none" stroke-width="0.8" fill-opacity="0.96"/>
<rect x="380.0677148507825" y="291.3" width="0.8693130735250105" height="4.300000000000011" fill="#e05a5c" stroke="none" stroke-width="0.8" fill-opacity="0.76"/>
<rect x="381.60262127091175" y="291.3" width="0.914061368093894" height="4.300000000000011" fill="#e05a5c" stroke="none" stroke-width="0.8" fill-opacity="0.83"/>
<rect x="382.9816841872185" y="291.3" width="0.9701185839507382" height="4.300000000000011" fill="#e05a5c" stroke="none" stroke-width="0.8" fill-opacity="0.87"/>
<rect x="384.5365215665499" y="291.3" width="0.7468868689289521" height="4.300000000000011" fill="#e05a5c" stroke="none" stroke-width="0.8" fill-opacity="0.95"/>
<rect x="386.0214911957823" y="291.3" width="0.7698776176030979" height="4.300000000000011" fill="#e05a5c" stroke="none" stroke-width="0.8" fill-opacity="0.87"/>
<rect x="387.5397210106764" y="291.3" width="0.6663645133463615" height="4.300000000000011" fill="#e05a5c" stroke="none" stroke-width="0.8" fill-opacity="0.79"/>
<rect x="389.10609312496024" y="291.3" width="0.8597443870097756" height="4.300000000000011" fill="#e05a5c" stroke="none" stroke-width="0.8" fill-opacity="0.78"/>
<rect x="390.324535060469" y="291.3" width="0.735426705975222" height="4.300000000000011" fill="#e05a5c" stroke="none" stroke-width="0.8" fill-opacity="0.99"/>
<rect x="391.32240085277414" y="291.3" width="0.8593666171296248" height="4.300000000000011" fill="#e05a5c" stroke="none" stroke-width="0.8" fill-opacity="0.88"/>
<rect x="392.7841931315959" y="291.3" width="0.8671628597196601" height="4.300000000000011" fill="#e05a5c" stroke="none" stroke-width="0.8" fill-opacity="0.83"/>
<rect x="394.6281707705869" y="291.3" width="0.5882104121905155" height="4.300000000000011" fill="#e05a5c" stroke="none" stroke-width="0.8" fill-opacity="0.80"/>
<rect x="396.1307698676954" y="291.3" width="0.7976031215811699" height="4.300000000000011" fill="#e05a5c" stroke="none" stroke-width="0.8" fill-opacity="0.78"/>
<rect x="397.5916234490063" y="291.3" width="0.5323317024322043" height="4.300000000000011" fill="#e05a5c" stroke="none" stroke-width="0.8" fill-opacity="0.78"/>
<rect x="399.105084323011" y="291.3" width="0.7252827179387761" height="4.300000000000011" fill="#e05a5c" stroke="none" stroke-width="0.8" fill-opacity="0.99"/>
<rect x="400.7439162098731" y="291.3" width="0.9185332725173103" height="4.300000000000011" fill="#e05a5c" stroke="none" stroke-width="0.8" fill-opacity="0.96"/>
<line x1="322.5" y1="296.3" x2="402.5" y2="296.3" stroke="#aaa" stroke-width="0.6"/>
<line x1="322.5" y1="309" x2="402.5" y2="309" stroke="#888" stroke-width="0.7"/>
<line x1="322.5" y1="296.3" x2="322.5" y2="309" stroke="#666" stroke-width="0.6"/>
<line x1="402.5" y1="296.3" x2="402.5" y2="309" stroke="#888" stroke-width="0.6"/>
<path d="M322.50,296.42 L323.17,296.62 L323.83,296.91 L324.50,297.18 L325.17,297.43 L325.83,297.65 L326.50,297.86 L327.17,298.05 L327.83,298.22 L328.50,298.39 L329.17,298.54 L329.83,298.68 L330.50,298.81 L331.17,298.93 L331.83,299.05 L332.50,299.16 L333.17,299.26 L333.83,299.36 L334.50,299.45 L335.17,299.54 L335.83,299.63 L336.50,299.71 L337.17,299.79 L337.83,299.86 L338.50,299.93 L339.17,300.01 L339.83,300.07 L340.50,300.14 L341.17,300.20 L341.83,300.27 L342.50,300.33 L343.17,300.39 L343.83,300.45 L344.50,300.50 L345.17,300.56 L345.83,300.61 L346.50,300.67 L347.17,300.72 L347.83,300.77 L348.50,300.82 L349.17,300.87 L349.83,300.92 L350.50,300.96 L351.17,301.01 L351.83,301.06 L352.50,301.10 L353.17,301.14 L353.83,301.19 L354.50,301.23 L355.17,301.27 L355.83,301.31 L356.50,301.34 L357.17,301.38 L357.83,301.41 L358.50,301.45 L359.17,301.48 L359.83,301.51 L360.50,301.54 L361.17,301.56 L361.83,301.58 L362.50,301.60 L363.17,301.60 L363.83,301.61 L364.50,301.61 L365.17,301.62 L365.83,301.63 L366.50,301.64 L367.17,301.65 L367.83,301.66 L368.50,301.68 L369.17,301.69 L369.83,301.71 L370.50,301.72 L371.17,301.74 L371.83,301.76 L372.50,301.77 L373.17,301.79 L373.83,301.81 L374.50,301.83 L375.17,301.86 L375.83,301.88 L376.50,301.90 L377.17,301.93 L377.83,301.95 L378.50,301.98 L379.17,302.00 L379.83,302.03 L380.50,302.06 L381.17,302.09 L381.83,302.12 L382.50,302.16 L383.17,302.19 L383.83,302.23 L384.50,302.27 L385.17,302.32 L385.83,302.36 L386.50,302.41 L387.17,302.46 L387.83,302.52 L388.50,302.59 L389.17,302.65 L389.83,302.73 L390.50,302.81 L391.17,302.90 L391.83,303.00 L392.50,303.10 L393.17,303.22 L393.83,303.35 L394.50,303.50 L395.17,303.65 L395.83,303.83 L396.50,304.02 L397.17,304.23 L397.83,304.47 L398.50,304.72 L399.17,305.01 L399.83,305.32 L400.50,305.66 L401.17,306.03 L401.83,306.45 L402.50,306.78 L402.5,301.6 L322.5,301.6 Z" fill="#17785a"/>
<line x1="322.5" y1="301.6" x2="402.5" y2="301.6" stroke="#1d3a30" stroke-width="0.5"/>
<text x="319.3" y="298.7" font-size="5.0" text-anchor="end" fill="#333" stroke="#333" stroke-width="0.12" style="">4</text>
<text x="319.3" y="303.3" font-size="5.0" text-anchor="end" fill="#333" stroke="#333" stroke-width="0.12" style="">0</text>
<text x="319.3" y="309.2" font-size="5.0" text-anchor="end" fill="#333" stroke="#333" stroke-width="0.12" style="">−4</text>
<text x="310.2" y="265.5" font-size="5.3" text-anchor="middle" fill="#333" stroke="#333" stroke-width="0.12" style="" transform="rotate(-90 310.2 265.5)">Enrichment Score</text>
<text x="310.0" y="302.65" font-size="5.3" text-anchor="middle" fill="#333" stroke="#333" stroke-width="0.12" style="" transform="rotate(-90 310.0 302.65)">t-score</text>
<text x="326.0" y="320.2" font-size="5.1" text-anchor="start" fill="#222" stroke="#222" stroke-width="0.12" style="">Up in <tspan font-style="italic">Sh2b3</tspan></text>
<text x="326.0" y="326.4" font-size="5.1" text-anchor="start" fill="#222" stroke="#222" stroke-width="0.12" style="">knockout</text>
<text x="405.6" y="320.2" font-size="5.1" text-anchor="end" fill="#222" stroke="#222" stroke-width="0.12" style="">Down in <tspan font-style="italic">Sh2b3</tspan></text>
<text x="405.6" y="326.4" font-size="5.1" text-anchor="end" fill="#222" stroke="#222" stroke-width="0.12" style="">knockout</text>
<text x="432.2" y="240.1" font-size="5.1" text-anchor="start" fill="#222" stroke="#222" stroke-width="0.12" style="">Neural crest stem cells up</text>
<text x="495.2" y="240.1" font-size="5.1" text-anchor="start" fill="#222" stroke="#222" stroke-width="0.12" style=""><tspan font-style="italic">P</tspan> = 0.0001</text>
<line x1="432.5" y1="245.6" x2="432.5" y2="295.4" stroke="#666" stroke-width="0.6"/>
<text x="429.6" y="247.4" font-size="5.0" text-anchor="end" fill="#333" stroke="#333" stroke-width="0.12" style="">0.4</text>
<text x="429.6" y="255.8" font-size="5.0" text-anchor="end" fill="#333" stroke="#333" stroke-width="0.12" style="">0.3</text>
<text x="429.6" y="264.6" font-size="5.0" text-anchor="end" fill="#333" stroke="#333" stroke-width="0.12" style="">0.2</text>
<text x="429.6" y="273.1" font-size="5.0" text-anchor="end" fill="#333" stroke="#333" stroke-width="0.12" style="">0.1</text>
<text x="429.6" y="282.40000000000003" font-size="5.0" text-anchor="end" fill="#333" stroke="#333" stroke-width="0.12" style="">0</text>
<text x="429.6" y="291.8" font-size="5.0" text-anchor="end" fill="#333" stroke="#333" stroke-width="0.12" style="">−0.1</text>
<line x1="432.5" y1="281.2" x2="512.2" y2="281.2" stroke="#666" stroke-width="0.75"/>
<line x1="452.5" y1="251" x2="452.5" y2="281.2" stroke="#555" stroke-width="0.8" stroke-dasharray="3.4,2.6"/>
<polyline points="432.60,281.20 433.05,278.60 433.50,276.11 433.95,275.12 434.40,274.07 435.00,270.75 435.60,267.12 436.55,267.58 437.50,267.08 438.45,265.92 439.40,264.80 440.00,264.73 440.60,265.16 441.55,261.45 442.50,258.77 443.45,257.32 444.40,256.34 445.35,256.22 446.30,255.56 446.90,254.95 447.50,254.20 448.33,254.57 449.17,254.24 450.00,253.49 450.83,252.80 451.67,250.94 452.50,250.11 453.53,250.10 454.57,250.42 455.60,251.63 456.48,251.28 457.36,251.52 458.24,252.45 459.12,252.60 460.00,252.31 460.83,253.65 461.67,254.00 462.50,254.86 463.33,255.17 464.17,256.56 465.00,257.07 465.95,257.79 466.90,258.20 467.85,258.14 468.80,258.68 469.63,259.33 470.47,260.15 471.30,260.91 472.13,261.95 472.97,263.06 473.80,263.35 474.63,264.79 475.47,265.32 476.30,266.13 477.23,267.84 478.15,268.78 479.07,269.88 480.00,271.28 480.83,272.04 481.67,272.01 482.50,273.39 483.33,273.09 484.17,274.30 485.00,274.94 485.83,274.76 486.67,276.00 487.50,276.18 488.33,276.78 489.17,276.68 490.00,277.13 490.83,277.66 491.67,278.77 492.50,278.49 493.33,279.41 494.17,279.98 495.00,280.40 495.83,279.86 496.67,279.87 497.50,280.02 498.33,280.66 499.17,280.48 500.00,281.47 500.83,281.93 501.67,282.41 502.50,282.08 503.33,283.22 504.17,282.77 505.00,283.31 505.83,283.87 506.67,284.46 507.50,284.26 508.38,285.40 509.26,285.68 510.14,286.09 511.02,286.72 511.90,287.50 512.05,284.35 512.20,281.20" fill="none" stroke="#262a72" stroke-width="1.15" stroke-linejoin="round"/>
<rect x="432.8" y="291.3" width="72.19999999999999" height="4.300000000000011" fill="#f5bcb2" stroke="none" stroke-width="0.8"/>
<rect x="432.8" y="291.3" width="0.5035066705102532" height="4.300000000000011" fill="#e05a5c" stroke="none" stroke-width="0.8" fill-opacity="0.76"/>
<rect x="433.67689074886346" y="291.3" width="0.8352658558090463" height="4.300000000000011" fill="#e05a5c" stroke="none" stroke-width="0.8" fill-opacity="0.95"/>
<rect x="434.9457994914712" y="291.3" width="0.5511129043850801" height="4.300000000000011" fill="#e05a5c" stroke="none" stroke-width="0.8" fill-opacity="0.81"/>
<rect x="436.22162401640196" y="291.3" width="0.5893479048659999" height="4.300000000000011" fill="#e05a5c" stroke="none" stroke-width="0.8" fill-opacity="0.80"/>
<rect x="437.71850492749746" y="291.3" width="0.9110068063975725" height="4.300000000000011" fill="#e05a5c" stroke="none" stroke-width="0.8" fill-opacity="0.77"/>
<rect x="439.2048508862266" y="291.3" width="0.4531410188042924" height="4.300000000000011" fill="#e05a5c" stroke="none" stroke-width="0.8" fill-opacity="0.92"/>
<rect x="440.0309833621135" y="291.3" width="0.5232584821892773" height="4.300000000000011" fill="#e05a5c" stroke="none" stroke-width="0.8" fill-opacity="0.94"/>
<rect x="441.09679571727804" y="291.3" width="0.8456117622475801" height="4.300000000000011" fill="#e05a5c" stroke="none" stroke-width="0.8" fill-opacity="0.75"/>
<rect x="442.21629742681597" y="291.3" width="0.6872253283664407" height="4.300000000000011" fill="#e05a5c" stroke="none" stroke-width="0.8" fill-opacity="0.82"/>
<rect x="443.18383797873787" y="291.3" width="0.9081938298448783" height="4.300000000000011" fill="#e05a5c" stroke="none" stroke-width="0.8" fill-opacity="0.81"/>
<rect x="444.55122695419414" y="291.3" width="0.48464040695372" height="4.300000000000011" fill="#e05a5c" stroke="none" stroke-width="0.8" fill-opacity="0.94"/>
<rect x="445.99900933859016" y="291.3" width="0.9721847615650292" height="4.300000000000011" fill="#e05a5c" stroke="none" stroke-width="0.8" fill-opacity="0.96"/>
<rect x="447.90590761413296" y="291.3" width="0.6118419546626083" height="4.300000000000011" fill="#e05a5c" stroke="none" stroke-width="0.8" fill-opacity="0.76"/>
<rect x="449.37638088494856" y="291.3" width="0.8341932747948713" height="4.300000000000011" fill="#e05a5c" stroke="none" stroke-width="0.8" fill-opacity="0.93"/>
<rect x="450.681626346398" y="291.3" width="0.48660750005936837" height="4.300000000000011" fill="#e05a5c" stroke="none" stroke-width="0.8" fill-opacity="0.95"/>
<rect x="451.6816023237835" y="291.3" width="0.7365801214577967" height="4.300000000000011" fill="#e05a5c" stroke="none" stroke-width="0.8" fill-opacity="0.95"/>
<rect x="452.7340731869126" y="291.3" width="0.846971240187488" height="4.300000000000011" fill="#e05a5c" stroke="none" stroke-width="0.8" fill-opacity="0.76"/>
<rect x="454.09604860904255" y="291.3" width="0.892428285891465" height="4.300000000000011" fill="#e05a5c" stroke="none" stroke-width="0.8" fill-opacity="0.84"/>
<rect x="455.8286106338028" y="291.3" width="0.9918299145805805" height="4.300000000000011" fill="#e05a5c" stroke="none" stroke-width="0.8" fill-opacity="1.00"/>
<rect x="457.3858483543613" y="291.3" width="0.7966980057069833" height="4.300000000000011" fill="#e05a5c" stroke="none" stroke-width="0.8" fill-opacity="0.81"/>
<rect x="458.4716011010586" y="291.3" width="0.8995805460497738" height="4.300000000000011" fill="#e05a5c" stroke="none" stroke-width="0.8" fill-opacity="0.75"/>
<rect x="460.21706813493256" y="291.3" width="0.6880097222113214" height="4.300000000000011" fill="#e05a5c" stroke="none" stroke-width="0.8" fill-opacity="0.83"/>
<rect x="461.8217616534441" y="291.3" width="0.5721803078283566" height="4.300000000000011" fill="#e05a5c" stroke="none" stroke-width="0.8" fill-opacity="0.77"/>
<rect x="462.9171294293289" y="291.3" width="0.4940017473963846" height="4.300000000000011" fill="#e05a5c" stroke="none" stroke-width="0.8" fill-opacity="0.98"/>
<rect x="463.66655795603674" y="291.3" width="0.6381842351257414" height="4.300000000000011" fill="#e05a5c" stroke="none" stroke-width="0.8" fill-opacity="0.75"/>
<rect x="465.08345045893026" y="291.3" width="0.9780884944285846" height="4.300000000000011" fill="#e05a5c" stroke="none" stroke-width="0.8" fill-opacity="0.99"/>
<rect x="466.60397287015974" y="291.3" width="0.7068887617652779" height="4.300000000000011" fill="#e05a5c" stroke="none" stroke-width="0.8" fill-opacity="0.82"/>
<rect x="467.81808363851854" y="291.3" width="0.9483536961639243" height="4.300000000000011" fill="#e05a5c" stroke="none" stroke-width="0.8" fill-opacity="0.90"/>
<rect x="469.7304786614083" y="291.3" width="0.7413708998342526" height="4.300000000000011" fill="#e05a5c" stroke="none" stroke-width="0.8" fill-opacity="0.78"/>
<rect x="471.4701828883925" y="291.3" width="0.632038140406486" height="4.300000000000011" fill="#e05a5c" stroke="none" stroke-width="0.8" fill-opacity="0.96"/>
<rect x="472.5309430253832" y="291.3" width="0.9020036314789645" height="4.300000000000011" fill="#e05a5c" stroke="none" stroke-width="0.8" fill-opacity="0.81"/>
<rect x="474.33800007324277" y="291.3" width="0.9259249781900618" height="4.300000000000011" fill="#e05a5c" stroke="none" stroke-width="0.8" fill-opacity="0.79"/>
<rect x="475.86550671845595" y="291.3" width="0.7094231431233677" height="4.300000000000011" fill="#e05a5c" stroke="none" stroke-width="0.8" fill-opacity="0.75"/>
<rect x="477.1654613346076" y="291.3" width="0.7368408886130028" height="4.300000000000011" fill="#e05a5c" stroke="none" stroke-width="0.8" fill-opacity="0.93"/>
<rect x="478.6185249936882" y="291.3" width="0.7481340756590176" height="4.300000000000011" fill="#e05a5c" stroke="none" stroke-width="0.8" fill-opacity="0.97"/>
<rect x="479.683026416848" y="291.3" width="0.9769119449561419" height="4.300000000000011" fill="#e05a5c" stroke="none" stroke-width="0.8" fill-opacity="0.98"/>
<rect x="481.56755191103065" y="291.3" width="0.9771241699585347" height="4.300000000000011" fill="#e05a5c" stroke="none" stroke-width="0.8" fill-opacity="0.88"/>
<rect x="483.07793378135784" y="291.3" width="0.6428330316387192" height="4.300000000000011" fill="#e05a5c" stroke="none" stroke-width="0.8" fill-opacity="0.92"/>
<rect x="484.3414001798832" y="291.3" width="0.7026223255802492" height="4.300000000000011" fill="#e05a5c" stroke="none" stroke-width="0.8" fill-opacity="0.84"/>
<rect x="485.82833676424707" y="291.3" width="0.6222369970840111" height="4.300000000000011" fill="#e05a5c" stroke="none" stroke-width="0.8" fill-opacity="0.83"/>
<rect x="487.0134394732019" y="291.3" width="0.8362144058063592" height="4.300000000000011" fill="#e05a5c" stroke="none" stroke-width="0.8" fill-opacity="0.86"/>
<rect x="488.34186012565607" y="291.3" width="0.9442716814082471" height="4.300000000000011" fill="#e05a5c" stroke="none" stroke-width="0.8" fill-opacity="0.75"/>
<rect x="489.6844749754045" y="291.3" width="0.8216791499875158" height="4.300000000000011" fill="#e05a5c" stroke="none" stroke-width="0.8" fill-opacity="0.89"/>
<rect x="490.79804897275073" y="291.3" width="0.6490996457686187" height="4.300000000000011" fill="#e05a5c" stroke="none" stroke-width="0.8" fill-opacity="0.81"/>
<rect x="492.08198722655595" y="291.3" width="0.4921513732491243" height="4.300000000000011" fill="#e05a5c" stroke="none" stroke-width="0.8" fill-opacity="0.84"/>
<rect x="493.4648429987167" y="291.3" width="0.7051047437687805" height="4.300000000000011" fill="#e05a5c" stroke="none" stroke-width="0.8" fill-opacity="0.88"/>
<rect x="494.64110909961795" y="291.3" width="0.9057755017858806" height="4.300000000000011" fill="#e05a5c" stroke="none" stroke-width="0.8" fill-opacity="0.99"/>
<rect x="496.1402222223507" y="291.3" width="0.6579171303625255" height="4.300000000000011" fill="#e05a5c" stroke="none" stroke-width="0.8" fill-opacity="0.75"/>
<rect x="497.2942641739367" y="291.3" width="0.530243042413084" height="4.300000000000011" fill="#e05a5c" stroke="none" stroke-width="0.8" fill-opacity="0.75"/>
<rect x="498.6198048795246" y="291.3" width="0.9147111351860648" height="4.300000000000011" fill="#e05a5c" stroke="none" stroke-width="0.8" fill-opacity="0.80"/>
<rect x="500.34186111012133" y="291.3" width="0.5602340487210087" height="4.300000000000011" fill="#e05a5c" stroke="none" stroke-width="0.8" fill-opacity="0.98"/>
<rect x="501.21147378657895" y="291.3" width="0.779521652868155" height="4.300000000000011" fill="#e05a5c" stroke="none" stroke-width="0.8" fill-opacity="0.80"/>
<rect x="502.38154526944805" y="291.3" width="0.9167062452348291" height="4.300000000000011" fill="#e05a5c" stroke="none" stroke-width="0.8" fill-opacity="0.75"/>
<rect x="503.7905354123648" y="291.3" width="0.9751944151817322" height="4.300000000000011" fill="#e05a5c" stroke="none" stroke-width="0.8" fill-opacity="0.88"/>
<rect x="505.9" y="291.3" width="2.0000000000000115" height="4.300000000000011" fill="#fae0dc" stroke="none" stroke-width="0.8"/>
<rect x="506.5" y="291.3" width="0.8000000000000114" height="4.300000000000011" fill="#e05a5c" stroke="none" stroke-width="0.8"/>
<rect x="508.4" y="291.3" width="2.0000000000000115" height="4.300000000000011" fill="#fae0dc" stroke="none" stroke-width="0.8"/>
<rect x="509" y="291.3" width="0.8000000000000114" height="4.300000000000011" fill="#e05a5c" stroke="none" stroke-width="0.8"/>
<rect x="510.59999999999997" y="291.3" width="2.0000000000000115" height="4.300000000000011" fill="#fae0dc" stroke="none" stroke-width="0.8"/>
<rect x="511.2" y="291.3" width="0.8000000000000114" height="4.300000000000011" fill="#e05a5c" stroke="none" stroke-width="0.8"/>
<line x1="432.5" y1="296.9" x2="512.2" y2="296.9" stroke="#aaa" stroke-width="0.6"/>
<line x1="432.5" y1="309.4" x2="512.2" y2="309.4" stroke="#888" stroke-width="0.7"/>
<line x1="432.5" y1="296.9" x2="432.5" y2="309.4" stroke="#666" stroke-width="0.6"/>
<line x1="512.2" y1="296.9" x2="512.2" y2="309.4" stroke="#888" stroke-width="0.6"/>
<path d="M432.50,297.01 L433.16,297.19 L433.83,297.45 L434.49,297.68 L435.16,297.90 L435.82,298.10 L436.49,298.28 L437.15,298.45 L437.81,298.61 L438.48,298.75 L439.14,298.88 L439.81,299.01 L440.47,299.13 L441.13,299.23 L441.80,299.34 L442.46,299.43 L443.13,299.53 L443.79,299.61 L444.45,299.70 L445.12,299.77 L445.78,299.85 L446.45,299.92 L447.11,299.99 L447.78,300.06 L448.44,300.12 L449.10,300.19 L449.77,300.25 L450.43,300.31 L451.10,300.36 L451.76,300.42 L452.43,300.47 L453.09,300.52 L453.75,300.58 L454.42,300.63 L455.08,300.68 L455.75,300.72 L456.41,300.77 L457.07,300.82 L457.74,300.86 L458.40,300.91 L459.07,300.95 L459.73,300.99 L460.40,301.04 L461.06,301.08 L461.72,301.12 L462.39,301.16 L463.05,301.19 L463.72,301.23 L464.38,301.27 L465.04,301.30 L465.71,301.34 L466.37,301.37 L467.04,301.40 L467.70,301.44 L468.37,301.46 L469.03,301.49 L469.69,301.52 L470.36,301.54 L471.02,301.57 L471.69,301.59 L472.35,301.60 L473.01,301.60 L473.68,301.61 L474.34,301.61 L475.01,301.62 L475.67,301.63 L476.34,301.64 L477.00,301.65 L477.66,301.66 L478.33,301.67 L478.99,301.68 L479.66,301.69 L480.32,301.71 L480.98,301.72 L481.65,301.74 L482.31,301.75 L482.98,301.77 L483.64,301.79 L484.31,301.81 L484.97,301.83 L485.63,301.85 L486.30,301.87 L486.96,301.89 L487.63,301.91 L488.29,301.93 L488.95,301.96 L489.62,301.98 L490.28,302.01 L490.95,302.04 L491.61,302.06 L492.28,302.09 L492.94,302.13 L493.60,302.16 L494.27,302.20 L494.93,302.23 L495.60,302.28 L496.26,302.32 L496.92,302.37 L497.59,302.42 L498.25,302.47 L498.92,302.53 L499.58,302.60 L500.25,302.67 L500.91,302.75 L501.57,302.84 L502.24,302.93 L502.90,303.04 L503.57,303.15 L504.23,303.28 L504.89,303.42 L505.56,303.58 L506.22,303.75 L506.89,303.93 L507.55,304.14 L508.22,304.37 L508.88,304.62 L509.54,304.90 L510.21,305.20 L510.87,305.53 L511.54,305.90 L512.20,306.19 L512.2,301.6 L432.5,301.6 Z" fill="#17785a"/>
<line x1="432.5" y1="301.6" x2="512.2" y2="301.6" stroke="#1d3a30" stroke-width="0.5"/>
<text x="429.6" y="298.7" font-size="5.0" text-anchor="end" fill="#333" stroke="#333" stroke-width="0.12" style="">4</text>
<text x="429.6" y="303.3" font-size="5.0" text-anchor="end" fill="#333" stroke="#333" stroke-width="0.12" style="">0</text>
<text x="429.6" y="309.2" font-size="5.0" text-anchor="end" fill="#333" stroke="#333" stroke-width="0.12" style="">−4</text>
<text x="420.2" y="265.5" font-size="5.3" text-anchor="middle" fill="#333" stroke="#333" stroke-width="0.12" style="" transform="rotate(-90 420.2 265.5)">Enrichment Score</text>
<text x="420.0" y="303.15" font-size="5.3" text-anchor="middle" fill="#333" stroke="#333" stroke-width="0.12" style="" transform="rotate(-90 420.0 303.15)">t-score</text>
<text x="436.0" y="320.2" font-size="5.1" text-anchor="start" fill="#222" stroke="#222" stroke-width="0.12" style="">Up in <tspan font-style="italic">Sh2b3</tspan></text>
<text x="436.0" y="326.4" font-size="5.1" text-anchor="start" fill="#222" stroke="#222" stroke-width="0.12" style="">knockout</text>
<text x="515.2" y="320.2" font-size="5.1" text-anchor="end" fill="#222" stroke="#222" stroke-width="0.12" style="">Down in <tspan font-style="italic">Sh2b3</tspan></text>
<text x="515.2" y="326.4" font-size="5.1" text-anchor="end" fill="#222" stroke="#222" stroke-width="0.12" style="">knockout</text>
</svg>
</body></html>
